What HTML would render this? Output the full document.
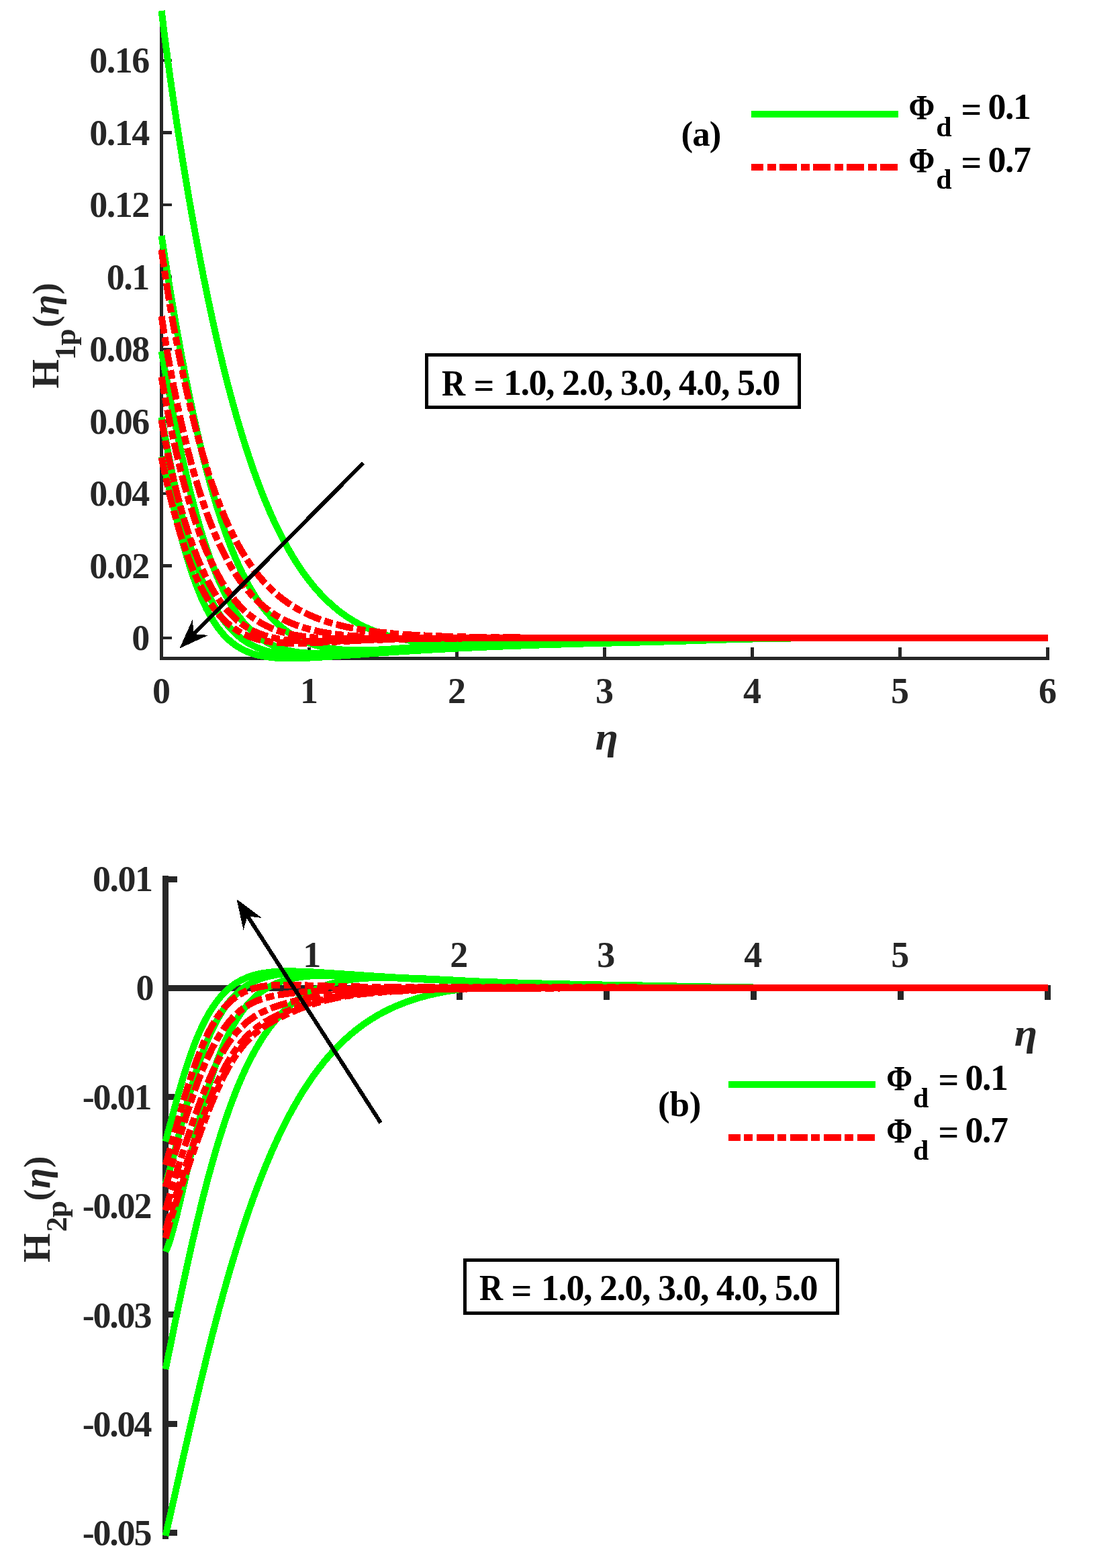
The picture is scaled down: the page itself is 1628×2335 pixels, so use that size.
<!DOCTYPE html>
<html lang="en">
<head>
<meta charset="utf-8">
<title>Figure: H1p and H2p profiles</title>
<style>
html,body{margin:0;padding:0;background:#fff;}
body{width:1628px;height:2335px;overflow:hidden;}
svg{display:block;font-family:"Liberation Serif","Times New Roman",serif;font-weight:bold;}
</style>
</head>
<body>
<svg width="1628" height="2335" viewBox="0 0 1628 2335" shape-rendering="crispEdges" role="img" aria-label="Profiles of H1p and H2p versus eta for R = 1.0 to 5.0">
<rect x="0" y="0" width="1628" height="2335" fill="#ffffff"/>
<g id="plot-a">
<g stroke="#262626" stroke-width="4.6" fill="none" shape-rendering="crispEdges">
<path d="M240.60 16.00 V980.25 H1563.10"/>
<line x1="240.60" y1="950.00" x2="256.00" y2="950.00"/>
<line x1="240.60" y1="842.50" x2="256.00" y2="842.50"/>
<line x1="240.60" y1="735.00" x2="256.00" y2="735.00"/>
<line x1="240.60" y1="627.50" x2="256.00" y2="627.50"/>
<line x1="240.60" y1="520.00" x2="256.00" y2="520.00"/>
<line x1="240.60" y1="412.50" x2="256.00" y2="412.50"/>
<line x1="240.60" y1="305.00" x2="256.00" y2="305.00"/>
<line x1="240.60" y1="197.50" x2="256.00" y2="197.50"/>
<line x1="240.60" y1="90.00" x2="256.00" y2="90.00"/>
</g><g stroke="#262626" stroke-width="5" fill="none" shape-rendering="crispEdges">
<line x1="240.60" y1="980.25" x2="240.60" y2="963.75"/>
<line x1="460.60" y1="980.25" x2="460.60" y2="963.75"/>
<line x1="680.60" y1="980.25" x2="680.60" y2="963.75"/>
<line x1="900.60" y1="980.25" x2="900.60" y2="963.75"/>
<line x1="1120.60" y1="980.25" x2="1120.60" y2="963.75"/>
<line x1="1340.60" y1="980.25" x2="1340.60" y2="963.75"/>
<line x1="1560.60" y1="980.25" x2="1560.60" y2="963.75"/>
</g>
<path d="M240.6 16.0L241.0 19.0L241.3 22.0L241.7 24.9L242.0 27.9L242.4 30.9L242.8 33.9L243.1 36.9L243.5 39.9L243.9 42.8L244.2 45.8L244.6 48.8L245.0 51.8L245.4 54.7L245.7 57.7L246.1 60.7L246.5 63.7L246.9 66.7L247.3 69.6L247.7 72.6L248.1 75.6L248.5 78.6L248.8 81.5L249.2 84.5L249.6 87.5L250.0 90.5L250.4 93.4L250.8 96.4L251.3 99.4L251.7 102.4L252.1 105.3L252.5 108.3L252.9 111.3L253.3 114.3L253.7 117.2L254.1 120.2L254.6 123.2L255.0 126.1L255.4 129.1L255.8 132.1L256.2 135.1L256.7 138.0L257.1 141.0L257.5 144.0L258.0 146.9L258.4 149.9L258.8 152.9L259.3 155.8L259.7 158.8L260.1 161.8L260.6 164.7L261.0 167.7L261.5 170.7L261.9 173.7L262.4 176.6L262.8 179.6L263.3 182.6L263.7 185.5L264.2 188.5L264.6 191.4L265.1 194.4L265.5 197.4L266.0 200.3L266.5 203.3L266.9 206.3L267.4 209.2L267.8 212.2L268.3 215.2L268.8 218.1L269.3 221.1L269.7 224.1L270.2 227.0L270.7 230.0L271.1 232.9L271.6 235.9L272.1 238.9L272.6 241.8L273.1 244.8L273.5 247.8L274.0 250.7L274.5 253.7L275.0 256.6L275.5 259.6L276.0 262.6L276.5 265.5L277.0 268.5L277.5 271.4L278.0 274.4L278.5 277.3L279.0 280.3L279.5 283.3L280.0 286.2L280.5 289.2L281.0 292.1L281.5 295.1L282.0 298.0L282.5 301.0L283.0 304.0L283.5 306.9L284.1 309.9L284.6 312.8L285.1 315.8L285.6 318.7L286.1 321.7L286.7 324.6L287.2 327.6L287.7 330.5L288.3 333.5L288.8 336.4L289.3 339.4L289.9 342.4L290.4 345.3L290.9 348.3L291.5 351.2L292.0 354.2L292.6 357.1L293.1 360.1L293.7 363.0L294.2 365.9L294.8 368.9L295.3 371.8L295.9 374.8L296.5 377.7L297.0 380.7L297.6 383.6L298.1 386.6L298.7 389.5L299.3 392.5L299.9 395.4L300.4 398.4L301.0 401.3L301.6 404.2L302.2 407.2L302.7 410.1L303.3 413.1L303.9 416.0L304.5 418.9L305.1 421.9L305.7 424.8L306.3 427.8L306.9 430.7L307.5 433.6L308.1 436.6L308.7 439.5L309.3 442.5L309.9 445.4L310.5 448.3L311.2 451.3L311.8 454.2L312.4 457.1L313.0 460.1L313.6 463.0L314.3 465.9L314.9 468.9L315.5 471.8L316.2 474.7L316.8 477.6L317.5 480.6L318.1 483.5L318.8 486.4L319.4 489.4L320.1 492.3L320.7 495.2L321.4 498.1L322.0 501.1L322.7 504.0L323.4 506.9L324.1 509.8L324.7 512.7L325.4 515.7L326.1 518.6L326.8 521.5L327.5 524.4L328.2 527.3L328.9 530.3L329.6 533.2L330.3 536.1L331.0 539.0L331.7 541.9L332.4 544.8L333.1 547.7L333.8 550.6L334.5 553.6L335.3 556.5L336.0 559.4L336.7 562.3L337.5 565.2L338.2 568.1L339.0 571.0L339.7 573.9L340.5 576.8L341.2 579.7L342.0 582.6L342.8 585.5L343.5 588.4L344.3 591.3L345.1 594.2L345.9 597.1L346.7 600.0L347.5 602.8L348.2 605.7L349.1 608.6L349.9 611.5L350.7 614.4L351.5 617.3L352.3 620.2L353.1 623.0L354.0 625.9L354.8 628.8L355.7 631.7L356.5 634.5L357.4 637.4L358.2 640.3L359.1 643.1L359.9 646.0L360.8 648.9L361.7 651.7L362.6 654.6L363.5 657.5L364.4 660.3L365.3 663.2L366.2 666.0L367.1 668.9L368.0 671.7L369.0 674.6L369.9 677.4L370.8 680.3L371.8 683.1L372.8 685.9L373.7 688.8L374.7 691.6L375.7 694.4L376.7 697.3L377.6 700.1L378.6 702.9L379.7 705.7L380.7 708.6L381.7 711.4L382.7 714.2L383.8 717.0L384.8 719.8L385.9 722.6L386.9 725.4L388.0 728.2L389.1 731.0L390.2 733.8L391.3 736.5L392.4 739.3L393.5 742.1L394.6 744.9L395.8 747.6L396.9 750.4L398.1 753.2L399.3 755.9L400.4 758.7L401.6 761.4L402.8 764.1L404.0 766.9L405.3 769.6L406.5 772.3L407.7 775.1L409.0 777.8L410.3 780.5L411.6 783.2L412.9 785.9L414.2 788.6L415.5 791.2L416.8 793.9L418.2 796.6L419.5 799.3L420.9 801.9L422.3 804.6L423.7 807.2L425.1 809.8L426.6 812.4L428.0 815.1L429.5 817.7L431.0 820.3L432.5 822.8L434.0 825.4L435.5 828.0L437.1 830.5L438.6 833.1L440.2 835.6L441.8 838.1L443.4 840.7L445.1 843.1L446.7 845.6L448.4 848.1L450.1 850.6L451.8 853.0L453.6 855.4L455.3 857.8L457.1 860.2L458.9 862.6L460.8 865.0L462.6 867.3L464.5 869.7L466.4 872.0L468.3 874.3L470.2 876.5L472.2 878.8L474.2 881.0L476.2 883.2L478.2 885.4L480.3 887.6L482.4 889.7L484.5 891.8L486.6 893.9L488.8 895.9L491.0 898.0L493.2 900.0L495.4 902.0L497.7 903.9L500.0 905.8L502.3 907.7L504.6 909.6L507.0 911.4L509.4 913.2L511.8 914.9L514.3 916.7L516.7 918.4L519.2 920.0L521.7 921.6L524.3 923.2L526.8 924.8L529.4 926.3L532.0 927.7L534.6 929.2L537.3 930.6L539.9 931.9L542.6 933.2L545.3 934.5L548.1 935.7L550.8 936.9L553.6 938.1L556.3 939.2L559.1 940.3L561.9 941.4L564.7 942.4L567.6 943.4L570.4 944.3L573.3 945.2L576.1 946.1L579.0 946.9L581.9 947.7L584.8 948.5L587.7 949.2L590.6 949.9L593.5 950.6L596.5 951.2L599.4 951.8L602.3 952.4L605.3 952.9L608.2 953.5L611.2 954.0L614.2 954.4L617.1 954.9L620.1 955.3L623.1 955.7L626.0 956.0L629.0 956.4L632.0 956.7L635.0 957.0L638.0 957.3L641.0 957.5L644.0 957.8L646.9 958.0L649.9 958.2L652.9 958.4L655.9 958.6L658.9 958.7L661.9 958.9L664.9 959.0L667.9 959.1L670.9 959.2L673.9 959.3L676.9 959.4L679.9 959.5L682.9 959.5L685.9 959.6L688.9 959.6L691.9 959.6L694.9 959.6L697.9 959.7L700.9 959.6L703.9 959.6L706.9 959.6L709.9 959.6L712.9 959.6L715.9 959.5L718.9 959.5L721.9 959.4L724.9 959.4L727.9 959.3L730.9 959.3L733.9 959.2L736.9 959.1L739.9 959.0L742.9 959.0L745.9 958.9L748.9 958.8L751.9 958.7L754.9 958.6L757.9 958.5L760.9 958.4L763.9 958.3L766.9 958.2L769.9 958.1L772.9 958.0L775.9 957.9L778.9 957.8L781.9 957.7L784.9 957.6L787.9 957.5L790.9 957.3L793.9 957.2L796.9 957.1L799.9 957.0L802.9 956.9L805.9 956.8L808.9 956.7L811.9 956.6L814.9 956.4L817.9 956.3L820.8 956.2L823.8 956.1L826.8 956.0L829.8 955.9L832.8 955.8L835.8 955.7L838.8 955.6L841.8 955.4L844.8 955.3L847.8 955.2L850.8 955.1L853.8 955.0L856.8 954.9L859.8 954.8L862.8 954.7L865.8 954.6L868.8 954.5L871.8 954.4L874.8 954.3L877.8 954.2L880.8 954.1L883.8 954.0L886.8 953.9L889.8 953.9L892.8 953.8L895.8 953.7L898.8 953.6L901.8 953.5L904.8 953.4L907.8 953.3L910.8 953.3L913.8 953.2L916.8 953.1L919.8 953.0L922.8 952.9L925.8 952.9L928.8 952.8L931.8 952.7L934.8 952.6L937.8 952.6L940.8 952.5L943.8 952.4L946.8 952.4L949.8 952.3L952.8 952.2L955.8 952.2L958.8 952.1L961.8 952.1L964.8 952.0L967.8 951.9L970.8 951.9L973.8 951.8L976.8 951.7L979.8 951.7L982.8 951.6L985.8 951.6L988.8 951.5L991.8 951.5L994.8 951.4L997.8 951.3L1000.8 951.3L1003.8 951.2L1006.8 951.2L1009.8 951.1L1012.8 951.1L1015.8 951.0L1018.8 951.0L1021.8 951.0L1024.8 950.9L1027.8 950.9L1030.8 950.8L1033.8 950.8L1036.8 950.8L1039.8 950.7L1042.8 950.7L1045.8 950.6L1048.8 950.6L1051.8 950.6L1054.8 950.5L1057.8 950.5L1060.8 950.5L1063.8 950.5L1066.8 950.4L1069.8 950.4L1072.8 950.4L1075.8 950.4L1078.8 950.3L1081.8 950.3L1084.8 950.3L1087.8 950.3L1090.8 950.3L1093.8 950.2L1096.8 950.2L1099.8 950.2L1102.8 950.2L1105.8 950.2L1108.8 950.2L1111.8 950.2L1114.8 950.1L1117.8 950.1L1120.8 950.1L1123.8 950.1L1126.8 950.1L1129.8 950.1L1132.8 950.1L1135.8 950.1L1138.8 950.1L1141.8 950.1L1144.8 950.1L1147.8 950.1L1150.8 950.0L1153.8 950.0L1156.8 950.0L1159.8 950.0L1162.8 950.0L1165.8 950.0L1168.8 950.0L1171.8 950.0L1174.8 950.0L1177.8 950.0L1180.8 950.0L1183.8 950.0L1186.8 950.0L1189.8 950.0L1192.8 950.0L1195.8 950.0L1198.8 950.0L1201.8 950.0L1204.8 950.0L1207.8 950.0L1210.8 950.0L1213.8 950.0L1216.8 950.0L1219.8 950.0L1222.8 950.0L1225.8 950.0L1228.8 950.0L1231.8 950.0L1234.8 950.0L1237.8 950.0L1240.8 950.0L1243.8 950.0L1246.8 950.0L1249.8 950.0L1252.8 950.0L1255.8 950.0L1258.8 950.0L1261.8 950.0L1264.8 950.0L1267.8 950.0L1270.8 950.0L1273.8 950.0L1276.8 950.0L1279.8 950.0L1282.8 950.0L1285.8 950.0L1288.8 950.0L1291.8 950.0L1294.8 950.0L1297.8 950.0L1300.8 950.0L1303.8 950.0L1306.8 950.0L1309.8 950.0L1312.8 950.0L1315.8 950.0L1318.8 950.0L1321.8 950.0L1324.8 950.0L1327.8 950.0L1330.8 950.0L1333.8 950.0L1336.8 950.0L1339.8 950.0L1342.8 950.0L1345.8 950.0L1348.8 950.0L1351.8 950.0L1354.8 950.0L1357.8 950.0L1360.8 950.0L1363.8 950.0L1366.8 950.0L1369.8 950.0L1372.8 950.0L1375.8 950.0L1378.8 950.0L1381.8 950.0L1384.8 950.0L1387.8 950.0L1390.8 950.0L1393.8 950.0L1396.8 950.0L1399.8 950.0L1402.8 950.0L1405.8 950.0L1408.8 950.0L1411.8 950.0L1414.8 950.0L1417.8 950.0L1420.8 950.0L1423.8 950.0L1426.8 950.0L1429.8 950.0L1432.8 950.0L1435.8 950.0L1438.8 950.0L1441.8 950.0L1444.8 950.0L1447.8 950.0L1450.8 950.0L1453.8 950.0L1456.8 950.0L1459.8 950.0L1462.8 950.0L1465.8 950.0L1468.8 950.0L1471.8 950.0L1474.8 950.0L1477.8 950.0L1480.8 950.0L1483.8 950.0L1486.8 950.0L1489.8 950.0L1492.8 950.0L1495.8 950.0L1498.8 950.0L1501.8 950.0L1504.8 950.0L1507.8 950.0L1510.8 950.0L1513.8 950.0L1516.8 950.0L1519.8 950.0L1522.8 950.0L1525.8 950.0L1528.8 950.0L1531.8 950.0L1534.8 950.0L1537.8 950.0L1540.8 950.0L1543.8 950.0L1546.8 950.0L1549.8 950.0L1552.8 950.0L1555.8 950.0L1558.8 950.0L1560.6 950.0" fill="none" stroke="#00ff00" stroke-width="10" stroke-linejoin="round"/>
<path d="M240.6 351.0L241.1 354.0L241.5 356.9L242.0 359.9L242.4 362.9L242.9 365.8L243.3 368.8L243.8 371.8L244.2 374.7L244.7 377.7L245.2 380.7L245.6 383.6L246.1 386.6L246.6 389.5L247.0 392.5L247.5 395.5L248.0 398.4L248.4 401.4L248.9 404.4L249.4 407.3L249.9 410.3L250.3 413.2L250.8 416.2L251.3 419.2L251.8 422.1L252.3 425.1L252.7 428.1L253.2 431.0L253.7 434.0L254.2 436.9L254.7 439.9L255.2 442.9L255.7 445.8L256.2 448.8L256.7 451.7L257.2 454.7L257.7 457.6L258.2 460.6L258.7 463.6L259.2 466.5L259.7 469.5L260.2 472.4L260.7 475.4L261.2 478.3L261.7 481.3L262.3 484.3L262.8 487.2L263.3 490.2L263.8 493.1L264.3 496.1L264.9 499.0L265.4 502.0L265.9 504.9L266.5 507.9L267.0 510.8L267.5 513.8L268.1 516.7L268.6 519.7L269.1 522.6L269.7 525.6L270.2 528.5L270.8 531.5L271.3 534.4L271.9 537.4L272.4 540.3L273.0 543.3L273.6 546.2L274.1 549.2L274.7 552.1L275.3 555.1L275.8 558.0L276.4 560.9L277.0 563.9L277.6 566.8L278.2 569.8L278.7 572.7L279.3 575.7L279.9 578.6L280.5 581.5L281.1 584.5L281.7 587.4L282.3 590.3L282.9 593.3L283.5 596.2L284.1 599.2L284.8 602.1L285.4 605.0L286.0 608.0L286.6 610.9L287.2 613.8L287.9 616.8L288.5 619.7L289.2 622.6L289.8 625.5L290.4 628.5L291.1 631.4L291.7 634.3L292.4 637.2L293.1 640.2L293.7 643.1L294.4 646.0L295.1 648.9L295.7 651.9L296.4 654.8L297.1 657.7L297.8 660.6L298.5 663.5L299.2 666.4L299.9 669.4L300.6 672.3L301.3 675.2L302.0 678.1L302.8 681.0L303.5 683.9L304.2 686.8L305.0 689.7L305.7 692.6L306.4 695.5L307.2 698.4L308.0 701.3L308.7 704.2L309.5 707.1L310.3 710.0L311.0 712.9L311.8 715.8L312.6 718.7L313.4 721.6L314.2 724.5L315.0 727.3L315.9 730.2L316.7 733.1L317.5 736.0L318.3 738.8L319.2 741.7L320.0 744.6L320.9 747.5L321.8 750.3L322.6 753.2L323.5 756.1L324.4 758.9L325.3 761.8L326.2 764.6L327.1 767.5L328.1 770.3L329.0 773.2L329.9 776.0L330.9 778.8L331.9 781.7L332.8 784.5L333.8 787.3L334.8 790.2L335.8 793.0L336.8 795.8L337.8 798.6L338.9 801.4L339.9 804.2L341.0 807.0L342.0 809.8L343.1 812.6L344.2 815.4L345.3 818.2L346.4 820.9L347.6 823.7L348.7 826.5L349.9 829.2L351.1 832.0L352.3 834.7L353.5 837.4L354.7 840.2L355.9 842.9L357.2 845.6L358.4 848.3L359.7 851.0L361.0 853.7L362.4 856.3L363.7 859.0L365.1 861.7L366.5 864.3L367.9 867.0L369.3 869.6L370.7 872.2L372.2 874.8L373.7 877.4L375.2 879.9L376.8 882.5L378.3 885.0L379.9 887.6L381.5 890.1L383.2 892.5L384.9 895.0L386.6 897.5L388.3 899.9L390.0 902.3L391.8 904.7L393.7 907.0L395.5 909.4L397.4 911.7L399.3 914.0L401.3 916.2L403.3 918.4L405.3 920.6L407.4 922.8L409.5 924.9L411.6 926.9L413.8 929.0L416.0 931.0L418.2 932.9L420.5 934.8L422.9 936.7L425.2 938.5L427.6 940.3L430.1 942.0L432.5 943.7L435.1 945.3L437.6 946.8L440.2 948.3L442.8 949.8L445.5 951.1L448.1 952.5L450.8 953.7L453.6 954.9L456.3 956.1L459.1 957.2L461.9 958.2L464.8 959.1L467.6 960.1L470.5 960.9L473.4 961.7L476.3 962.4L479.2 963.1L482.1 963.8L485.0 964.4L488.0 964.9L490.9 965.4L493.9 965.8L496.9 966.2L499.9 966.6L502.8 966.9L505.8 967.2L508.8 967.4L511.8 967.7L514.8 967.8L517.8 968.0L520.8 968.1L523.8 968.2L526.8 968.3L529.8 968.3L532.8 968.3L535.8 968.3L538.8 968.3L541.8 968.3L544.8 968.2L547.8 968.1L550.8 968.1L553.8 968.0L556.8 967.8L559.8 967.7L562.8 967.6L565.8 967.4L568.8 967.3L571.8 967.1L574.8 966.9L577.8 966.7L580.7 966.6L583.7 966.4L586.7 966.2L589.7 966.0L592.7 965.8L595.7 965.5L598.7 965.3L601.7 965.1L604.7 964.9L607.7 964.7L610.7 964.5L613.7 964.2L616.7 964.0L619.7 963.8L622.6 963.6L625.6 963.3L628.6 963.1L631.6 962.9L634.6 962.7L637.6 962.5L640.6 962.3L643.6 962.0L646.6 961.8L649.6 961.6L652.6 961.4L655.6 961.2L658.6 961.0L661.5 960.8L664.5 960.6L667.5 960.4L670.5 960.2L673.5 960.0L676.5 959.9L679.5 959.7L682.5 959.5L685.5 959.3L688.5 959.1L691.5 959.0L694.5 958.8L697.5 958.6L700.5 958.5L703.5 958.3L706.5 958.2L709.5 958.0L712.5 957.9L715.5 957.7L718.5 957.6L721.4 957.5L724.4 957.3L727.4 957.2L730.4 957.1L733.4 956.9L736.4 956.8L739.4 956.7L742.4 956.6L745.4 956.5L748.4 956.3L751.4 956.2L754.4 956.1L757.4 956.0L760.4 955.9L763.4 955.8L766.4 955.7L769.4 955.6L772.4 955.5L775.4 955.5L778.4 955.4L781.4 955.3L784.4 955.2L787.4 955.1L790.4 955.0L793.4 955.0L796.4 954.9L799.4 954.8L802.4 954.7L805.4 954.7L808.4 954.6L811.4 954.5L814.4 954.5L817.4 954.4L820.4 954.4L823.4 954.3L826.4 954.2L829.4 954.2L832.4 954.1L835.4 954.1L838.4 954.0L841.4 954.0L844.4 953.9L847.4 953.9L850.4 953.8L853.4 953.8L856.4 953.7L859.4 953.7L862.4 953.6L865.4 953.6L868.4 953.6L871.4 953.5L874.4 953.5L877.4 953.4L880.4 953.4L883.4 953.4L886.4 953.3L889.4 953.3L892.4 953.3L895.4 953.2L898.4 953.2L901.4 953.2L904.4 953.1L907.4 953.1L910.4 953.1L913.4 953.1L916.4 953.0L919.4 953.0L922.4 953.0L925.4 952.9L928.4 952.9L931.4 952.9L934.4 952.9L937.4 952.8L940.4 952.8L943.4 952.8L946.4 952.8L949.4 952.7L952.4 952.7L955.4 952.7L958.4 952.7L961.4 952.6L964.4 952.6L967.4 952.6L970.4 952.5L973.4 952.5L976.4 952.5L979.4 952.4L982.4 952.4L985.4 952.4L988.4 952.3L991.4 952.3L994.4 952.3L997.4 952.2L1000.4 952.2L1003.4 952.2L1006.4 952.1L1009.4 952.1L1012.4 952.0L1015.4 952.0L1018.4 952.0L1021.4 951.9L1024.4 951.9L1027.4 951.8L1030.4 951.8L1033.4 951.8L1036.4 951.7L1039.4 951.7L1042.4 951.6L1045.4 951.6L1048.4 951.6L1051.4 951.5L1054.4 951.5L1057.4 951.5L1060.4 951.4L1063.4 951.4L1066.4 951.3L1069.4 951.3L1072.4 951.3L1075.4 951.2L1078.4 951.2L1081.4 951.1L1084.4 951.1L1087.4 951.1L1090.4 951.0L1093.4 951.0L1096.4 951.0L1099.4 950.9L1102.4 950.9L1105.4 950.9L1108.4 950.8L1111.4 950.8L1114.4 950.8L1117.4 950.7L1120.4 950.7L1123.4 950.7L1126.4 950.6L1129.4 950.6L1132.4 950.6L1135.4 950.5L1138.4 950.5L1141.4 950.5L1144.4 950.5L1147.4 950.4L1150.4 950.4L1153.4 950.4L1156.4 950.4L1159.4 950.3L1162.4 950.3L1165.4 950.3L1168.4 950.3L1171.4 950.3L1174.4 950.2L1177.4 950.2L1180.4 950.2L1183.4 950.2L1186.4 950.2L1189.4 950.2L1192.4 950.1L1195.4 950.1L1198.4 950.1L1201.4 950.1L1204.4 950.1L1207.4 950.1L1210.4 950.1L1213.4 950.1L1216.4 950.0L1219.4 950.0L1222.4 950.0L1225.4 950.0L1228.4 950.0L1231.4 950.0L1234.4 950.0L1237.4 950.0L1240.4 950.0L1243.4 950.0L1246.4 950.0L1249.4 950.0L1252.4 950.0L1255.4 950.0L1258.4 950.0L1261.4 950.0L1264.4 950.0L1267.4 950.0L1270.4 950.0L1273.4 950.0L1276.4 950.0L1279.4 950.0L1282.4 950.0L1285.4 950.0L1288.4 950.0L1291.4 950.0L1294.4 950.0L1297.4 950.0L1300.4 950.0L1303.4 950.0L1306.4 950.0L1309.4 950.0L1312.4 950.0L1315.4 950.0L1318.4 950.0L1321.4 950.0L1324.4 950.0L1327.4 950.0L1330.4 950.0L1333.4 950.0L1336.4 950.0L1339.4 950.0L1342.4 950.0L1345.4 950.0L1348.4 950.0L1351.4 950.0L1354.4 950.0L1357.4 950.0L1360.4 950.0L1363.4 950.0L1366.4 950.0L1369.4 950.0L1372.4 950.0L1375.4 950.0L1378.4 950.0L1381.4 950.0L1384.4 950.0L1387.4 950.0L1390.4 950.0L1393.4 950.0L1396.4 950.0L1399.4 950.0L1402.4 950.0L1405.4 950.0L1408.4 950.0L1411.4 950.0L1414.4 950.0L1417.4 950.0L1420.4 950.0L1423.4 950.0L1426.4 950.0L1429.4 950.0L1432.4 950.0L1435.4 950.0L1438.4 950.0L1441.4 950.0L1444.4 950.0L1447.4 950.0L1450.4 950.0L1453.4 950.0L1456.4 950.0L1459.4 950.0L1462.4 950.0L1465.4 950.0L1468.4 950.0L1471.4 950.0L1474.4 950.0L1477.4 950.0L1480.4 950.0L1483.4 950.0L1486.4 950.0L1489.4 950.0L1492.4 950.0L1495.4 950.0L1498.4 950.0L1501.4 950.0L1504.4 950.0L1507.4 950.0L1510.4 950.0L1513.4 950.0L1516.4 950.0L1519.4 950.0L1522.4 950.0L1525.4 950.0L1528.4 950.0L1531.4 950.0L1534.4 950.0L1537.4 950.0L1540.4 950.0L1543.4 950.0L1546.4 950.0L1549.4 950.0L1552.4 950.0L1555.4 950.0L1558.4 950.0L1560.6 950.0" fill="none" stroke="#00ff00" stroke-width="10" stroke-linejoin="round"/>
<path d="M240.6 523.0L241.1 526.0L241.7 528.9L242.2 531.9L242.7 534.8L243.3 537.8L243.8 540.7L244.3 543.7L244.9 546.6L245.4 549.6L246.0 552.5L246.5 555.5L247.0 558.4L247.6 561.4L248.1 564.3L248.7 567.3L249.2 570.2L249.8 573.2L250.3 576.1L250.9 579.1L251.5 582.0L252.0 585.0L252.6 587.9L253.1 590.8L253.7 593.8L254.3 596.7L254.8 599.7L255.4 602.6L256.0 605.6L256.5 608.5L257.1 611.5L257.7 614.4L258.3 617.3L258.9 620.3L259.4 623.2L260.0 626.2L260.6 629.1L261.2 632.0L261.8 635.0L262.4 637.9L263.0 640.9L263.6 643.8L264.2 646.7L264.8 649.7L265.4 652.6L266.1 655.5L266.7 658.5L267.3 661.4L267.9 664.3L268.5 667.3L269.2 670.2L269.8 673.1L270.4 676.1L271.1 679.0L271.7 681.9L272.4 684.9L273.0 687.8L273.7 690.7L274.3 693.6L275.0 696.6L275.7 699.5L276.4 702.4L277.0 705.3L277.7 708.2L278.4 711.2L279.1 714.1L279.8 717.0L280.5 719.9L281.2 722.8L281.9 725.7L282.6 728.6L283.3 731.5L284.1 734.4L284.8 737.4L285.5 740.3L286.3 743.2L287.0 746.1L287.8 749.0L288.5 751.9L289.3 754.8L290.1 757.6L290.9 760.5L291.7 763.4L292.4 766.3L293.2 769.2L294.1 772.1L294.9 775.0L295.7 777.8L296.5 780.7L297.4 783.6L298.2 786.5L299.1 789.3L299.9 792.2L300.8 795.1L301.7 797.9L302.6 800.8L303.5 803.6L304.4 806.5L305.3 809.3L306.2 812.2L307.2 815.0L308.1 817.9L309.1 820.7L310.1 823.5L311.1 826.3L312.1 829.2L313.1 832.0L314.1 834.8L315.2 837.6L316.2 840.4L317.3 843.2L318.4 846.0L319.5 848.7L320.6 851.5L321.7 854.3L322.8 857.0L324.0 859.8L325.2 862.5L326.4 865.3L327.6 868.0L328.8 870.7L330.1 873.4L331.4 876.1L332.7 878.8L334.0 881.5L335.3 884.1L336.7 886.8L338.1 889.4L339.5 892.0L341.0 894.6L342.4 897.2L343.9 899.8L345.5 902.4L347.0 904.9L348.6 907.4L350.3 909.9L351.9 912.4L353.6 914.8L355.3 917.3L357.1 919.7L358.9 922.0L360.8 924.4L362.6 926.7L364.6 928.9L366.5 931.2L368.5 933.4L370.6 935.5L372.7 937.6L374.8 939.7L377.0 941.7L379.3 943.7L381.5 945.6L383.9 947.4L386.2 949.2L388.7 951.0L391.1 952.6L393.6 954.2L396.2 955.8L398.8 957.2L401.4 958.6L404.1 960.0L406.8 961.2L409.6 962.4L412.3 963.5L415.1 964.6L418.0 965.5L420.8 966.4L423.7 967.3L426.6 968.0L429.5 968.7L432.4 969.4L435.4 969.9L438.3 970.5L441.3 970.9L444.2 971.3L447.2 971.7L450.2 972.0L453.2 972.3L456.2 972.5L459.2 972.7L462.2 972.8L465.1 973.0L468.1 973.1L471.1 973.1L474.1 973.1L477.1 973.1L480.1 973.1L483.1 973.1L486.1 973.0L489.1 972.9L492.1 972.8L495.1 972.7L498.1 972.6L501.1 972.4L504.1 972.3L507.1 972.1L510.1 971.9L513.1 971.8L516.1 971.6L519.1 971.4L522.1 971.2L525.1 970.9L528.1 970.7L531.1 970.5L534.1 970.3L537.1 970.1L540.0 969.8L543.0 969.6L546.0 969.4L549.0 969.1L552.0 968.9L555.0 968.7L558.0 968.4L561.0 968.2L564.0 968.0L567.0 967.7L570.0 967.5L572.9 967.3L575.9 967.0L578.9 966.8L581.9 966.6L584.9 966.4L587.9 966.1L590.9 965.9L593.9 965.7L596.9 965.5L599.9 965.3L602.9 965.1L605.9 964.9L608.9 964.7L611.8 964.5L614.8 964.3L617.8 964.1L620.8 963.9L623.8 963.7L626.8 963.5L629.8 963.3L632.8 963.1L635.8 963.0L638.8 962.8L641.8 962.6L644.8 962.4L647.8 962.3L650.8 962.1L653.8 961.9L656.8 961.8L659.8 961.6L662.8 961.5L665.8 961.3L668.7 961.2L671.7 961.0L674.7 960.9L677.7 960.7L680.7 960.6L683.7 960.4L686.7 960.3L689.7 960.2L692.7 960.0L695.7 959.9L698.7 959.8L701.7 959.7L704.7 959.5L707.7 959.4L710.7 959.3L713.7 959.2L716.7 959.1L719.7 958.9L722.7 958.8L725.7 958.7L728.7 958.6L731.7 958.5L734.7 958.4L737.7 958.3L740.7 958.2L743.7 958.1L746.7 958.0L749.7 957.9L752.7 957.8L755.7 957.7L758.7 957.6L761.7 957.5L764.7 957.4L767.7 957.3L770.7 957.2L773.7 957.1L776.7 957.1L779.7 957.0L782.7 956.9L785.7 956.8L788.7 956.7L791.7 956.6L794.7 956.6L797.7 956.5L800.7 956.4L803.7 956.3L806.7 956.2L809.7 956.2L812.7 956.1L815.7 956.0L818.7 955.9L821.7 955.9L824.7 955.8L827.6 955.7L830.6 955.7L833.6 955.6L836.6 955.5L839.6 955.5L842.6 955.4L845.6 955.3L848.6 955.3L851.6 955.2L854.6 955.2L857.6 955.1L860.6 955.0L863.6 955.0L866.6 954.9L869.6 954.9L872.6 954.8L875.6 954.7L878.6 954.7L881.6 954.6L884.6 954.6L887.6 954.5L890.6 954.5L893.6 954.4L896.6 954.4L899.6 954.3L902.6 954.3L905.6 954.2L908.6 954.2L911.6 954.1L914.6 954.1L917.6 954.0L920.6 954.0L923.6 953.9L926.6 953.9L929.6 953.8L932.6 953.8L935.6 953.7L938.6 953.7L941.6 953.6L944.6 953.6L947.6 953.6L950.6 953.5L953.6 953.5L956.6 953.4L959.6 953.4L962.6 953.3L965.6 953.3L968.6 953.2L971.6 953.2L974.6 953.1L977.6 953.1L980.6 953.0L983.6 953.0L986.6 952.9L989.6 952.9L992.6 952.8L995.6 952.8L998.6 952.7L1001.6 952.7L1004.6 952.6L1007.6 952.5L1010.6 952.5L1013.6 952.4L1016.6 952.4L1019.6 952.3L1022.6 952.3L1025.6 952.2L1028.6 952.1L1031.6 952.1L1034.6 952.0L1037.6 952.0L1040.6 951.9L1043.6 951.9L1046.6 951.8L1049.6 951.8L1052.6 951.7L1055.6 951.7L1058.6 951.6L1061.6 951.6L1064.6 951.5L1067.6 951.5L1070.6 951.4L1073.6 951.4L1076.6 951.3L1079.6 951.3L1082.6 951.2L1085.6 951.2L1088.6 951.1L1091.6 951.1L1094.6 951.0L1097.6 951.0L1100.6 951.0L1103.6 950.9L1106.6 950.9L1109.6 950.8L1112.6 950.8L1115.6 950.8L1118.6 950.7L1121.6 950.7L1124.6 950.7L1127.6 950.6L1130.6 950.6L1133.6 950.6L1136.6 950.5L1139.6 950.5L1142.6 950.5L1145.6 950.5L1148.6 950.4L1151.6 950.4L1154.6 950.4L1157.6 950.4L1160.6 950.3L1163.6 950.3L1166.6 950.3L1169.6 950.3L1172.6 950.2L1175.6 950.2L1178.6 950.2L1181.6 950.2L1184.6 950.2L1187.6 950.2L1190.6 950.1L1193.6 950.1L1196.6 950.1L1199.6 950.1L1202.6 950.1L1205.6 950.1L1208.6 950.1L1211.6 950.1L1214.6 950.0L1217.6 950.0L1220.6 950.0L1223.6 950.0L1226.6 950.0L1229.6 950.0L1232.6 950.0L1235.6 950.0L1238.6 950.0L1241.6 950.0L1244.6 950.0L1247.6 950.0L1250.6 950.0L1253.6 950.0L1256.6 950.0L1259.6 950.0L1262.6 950.0L1265.6 950.0L1268.6 950.0L1271.6 950.0L1274.6 950.0L1277.6 950.0L1280.6 950.0L1283.6 950.0L1286.6 950.0L1289.6 950.0L1292.6 950.0L1295.6 950.0L1298.6 950.0L1301.6 950.0L1304.6 950.0L1307.6 950.0L1310.6 950.0L1313.6 950.0L1316.6 950.0L1319.6 950.0L1322.6 950.0L1325.6 950.0L1328.6 950.0L1331.6 950.0L1334.6 950.0L1337.6 950.0L1340.6 950.0L1343.6 950.0L1346.6 950.0L1349.6 950.0L1352.6 950.0L1355.6 950.0L1358.6 950.0L1361.6 950.0L1364.6 950.0L1367.6 950.0L1370.6 950.0L1373.6 950.0L1376.6 950.0L1379.6 950.0L1382.6 950.0L1385.6 950.0L1388.6 950.0L1391.6 950.0L1394.6 950.0L1397.6 950.0L1400.6 950.0L1403.6 950.0L1406.6 950.0L1409.6 950.0L1412.6 950.0L1415.6 950.0L1418.6 950.0L1421.6 950.0L1424.6 950.0L1427.6 950.0L1430.6 950.0L1433.6 950.0L1436.6 950.0L1439.6 950.0L1442.6 950.0L1445.6 950.0L1448.6 950.0L1451.6 950.0L1454.6 950.0L1457.6 950.0L1460.6 950.0L1463.6 950.0L1466.6 950.0L1469.6 950.0L1472.6 950.0L1475.6 950.0L1478.6 950.0L1481.6 950.0L1484.6 950.0L1487.6 950.0L1490.6 950.0L1493.6 950.0L1496.6 950.0L1499.6 950.0L1502.6 950.0L1505.6 950.0L1508.6 950.0L1511.6 950.0L1514.6 950.0L1517.6 950.0L1520.6 950.0L1523.6 950.0L1526.6 950.0L1529.6 950.0L1532.6 950.0L1535.6 950.0L1538.6 950.0L1541.6 950.0L1544.6 950.0L1547.6 950.0L1550.6 950.0L1553.6 950.0L1556.6 950.0L1559.6 950.0L1560.6 950.0" fill="none" stroke="#00ff00" stroke-width="10" stroke-linejoin="round"/>
<path d="M240.6 621.0L241.1 624.0L241.7 626.9L242.2 629.9L242.7 632.8L243.3 635.8L243.8 638.7L244.3 641.7L244.9 644.6L245.4 647.6L246.0 650.5L246.5 653.5L247.1 656.4L247.6 659.4L248.2 662.3L248.7 665.2L249.3 668.2L249.9 671.1L250.4 674.1L251.0 677.0L251.6 680.0L252.2 682.9L252.8 685.9L253.4 688.8L253.9 691.7L254.5 694.7L255.1 697.6L255.7 700.5L256.4 703.5L257.0 706.4L257.6 709.3L258.2 712.3L258.8 715.2L259.5 718.1L260.1 721.1L260.7 724.0L261.4 726.9L262.0 729.9L262.7 732.8L263.3 735.7L264.0 738.6L264.7 741.5L265.3 744.5L266.0 747.4L266.7 750.3L267.4 753.2L268.1 756.1L268.8 759.0L269.5 762.0L270.2 764.9L271.0 767.8L271.7 770.7L272.4 773.6L273.2 776.5L273.9 779.4L274.7 782.3L275.5 785.2L276.3 788.1L277.0 790.9L277.8 793.8L278.6 796.7L279.5 799.6L280.3 802.5L281.1 805.3L281.9 808.2L282.8 811.1L283.7 814.0L284.5 816.8L285.4 819.7L286.3 822.5L287.2 825.4L288.1 828.2L289.1 831.1L290.0 833.9L291.0 836.7L292.0 839.6L292.9 842.4L293.9 845.2L295.0 848.0L296.0 850.8L297.0 853.6L298.1 856.4L299.2 859.2L300.3 862.0L301.4 864.7L302.5 867.5L303.7 870.2L304.9 873.0L306.1 875.7L307.3 878.4L308.5 881.2L309.8 883.9L311.1 886.5L312.4 889.2L313.7 891.9L315.1 894.5L316.5 897.2L317.9 899.8L319.4 902.4L320.9 905.0L322.4 907.5L323.9 910.1L325.5 912.6L327.2 915.1L328.8 917.6L330.5 920.0L332.2 922.4L334.0 924.8L335.8 927.2L337.7 929.5L339.6 931.8L341.6 934.0L343.5 936.2L345.6 938.4L347.7 940.5L349.8 942.6L352.0 944.6L354.2 946.5L356.5 948.4L358.9 950.3L361.2 952.1L363.7 953.8L366.1 955.5L368.7 957.1L371.2 958.6L373.8 960.0L376.5 961.4L379.1 962.7L381.9 964.0L384.6 965.1L387.4 966.2L390.2 967.2L393.0 968.2L395.9 969.1L398.8 969.9L401.7 970.7L404.6 971.4L407.5 972.0L410.4 972.6L413.4 973.1L416.3 973.6L419.3 974.0L422.3 974.4L425.3 974.8L428.2 975.1L431.2 975.3L434.2 975.6L437.2 975.7L440.2 975.9L443.2 976.0L446.2 976.1L449.2 976.2L452.2 976.2L455.2 976.3L458.2 976.3L461.2 976.3L464.2 976.2L467.2 976.2L470.2 976.1L473.2 976.0L476.2 975.9L479.2 975.8L482.2 975.7L485.2 975.6L488.2 975.4L491.2 975.3L494.2 975.1L497.2 974.9L500.2 974.8L503.2 974.6L506.2 974.4L509.1 974.2L512.1 974.0L515.1 973.8L518.1 973.6L521.1 973.4L524.1 973.2L527.1 973.0L530.1 972.8L533.1 972.6L536.1 972.4L539.1 972.1L542.1 971.9L545.1 971.7L548.1 971.5L551.0 971.3L554.0 971.1L557.0 970.8L560.0 970.6L563.0 970.4L566.0 970.2L569.0 970.0L572.0 969.7L575.0 969.5L578.0 969.3L581.0 969.1L584.0 968.9L587.0 968.7L589.9 968.5L592.9 968.3L595.9 968.0L598.9 967.8L601.9 967.6L604.9 967.4L607.9 967.2L610.9 967.0L613.9 966.8L616.9 966.6L619.9 966.4L622.9 966.3L625.9 966.1L628.9 965.9L631.9 965.7L634.8 965.5L637.8 965.3L640.8 965.1L643.8 965.0L646.8 964.8L649.8 964.6L652.8 964.4L655.8 964.2L658.8 964.1L661.8 963.9L664.8 963.7L667.8 963.6L670.8 963.4L673.8 963.3L676.8 963.1L679.8 962.9L682.8 962.8L685.8 962.6L688.8 962.5L691.8 962.3L694.8 962.2L697.7 962.0L700.7 961.9L703.7 961.7L706.7 961.6L709.7 961.4L712.7 961.3L715.7 961.2L718.7 961.0L721.7 960.9L724.7 960.8L727.7 960.6L730.7 960.5L733.7 960.4L736.7 960.2L739.7 960.1L742.7 960.0L745.7 959.9L748.7 959.8L751.7 959.6L754.7 959.5L757.7 959.4L760.7 959.3L763.7 959.2L766.7 959.1L769.7 959.0L772.7 958.8L775.7 958.7L778.7 958.6L781.7 958.5L784.7 958.4L787.7 958.3L790.7 958.2L793.7 958.1L796.7 958.0L799.7 957.9L802.7 957.8L805.7 957.7L808.7 957.6L811.7 957.5L814.7 957.4L817.7 957.3L820.7 957.3L823.7 957.2L826.7 957.1L829.6 957.0L832.6 956.9L835.6 956.8L838.6 956.7L841.6 956.7L844.6 956.6L847.6 956.5L850.6 956.4L853.6 956.3L856.6 956.3L859.6 956.2L862.6 956.1L865.6 956.0L868.6 956.0L871.6 955.9L874.6 955.8L877.6 955.7L880.6 955.7L883.6 955.6L886.6 955.5L889.6 955.5L892.6 955.4L895.6 955.3L898.6 955.3L901.6 955.2L904.6 955.1L907.6 955.1L910.6 955.0L913.6 954.9L916.6 954.9L919.6 954.8L922.6 954.8L925.6 954.7L928.6 954.7L931.6 954.6L934.6 954.5L937.6 954.5L940.6 954.4L943.6 954.4L946.6 954.3L949.6 954.3L952.6 954.2L955.6 954.2L958.6 954.1L961.6 954.0L964.6 954.0L967.6 953.9L970.6 953.9L973.6 953.8L976.6 953.7L979.6 953.7L982.6 953.6L985.6 953.5L988.6 953.5L991.6 953.4L994.6 953.3L997.6 953.3L1000.6 953.2L1003.6 953.1L1006.6 953.1L1009.6 953.0L1012.6 952.9L1015.6 952.9L1018.6 952.8L1021.6 952.7L1024.6 952.6L1027.6 952.6L1030.6 952.5L1033.6 952.4L1036.6 952.4L1039.6 952.3L1042.6 952.2L1045.6 952.2L1048.6 952.1L1051.6 952.1L1054.6 952.0L1057.6 951.9L1060.6 951.9L1063.6 951.8L1066.6 951.7L1069.6 951.7L1072.6 951.6L1075.6 951.6L1078.6 951.5L1081.6 951.5L1084.6 951.4L1087.6 951.4L1090.6 951.3L1093.6 951.3L1096.6 951.2L1099.6 951.2L1102.6 951.1L1105.6 951.1L1108.6 951.0L1111.6 951.0L1114.6 950.9L1117.6 950.9L1120.6 950.8L1123.6 950.8L1126.6 950.8L1129.6 950.7L1132.6 950.7L1135.6 950.6L1138.6 950.6L1141.6 950.6L1144.6 950.5L1147.6 950.5L1150.6 950.5L1153.6 950.4L1156.6 950.4L1159.6 950.4L1162.6 950.4L1165.6 950.3L1168.6 950.3L1171.6 950.3L1174.6 950.3L1177.6 950.2L1180.6 950.2L1183.6 950.2L1186.6 950.2L1189.6 950.2L1192.6 950.2L1195.6 950.1L1198.6 950.1L1201.6 950.1L1204.6 950.1L1207.6 950.1L1210.6 950.1L1213.6 950.1L1216.6 950.0L1219.6 950.0L1222.6 950.0L1225.6 950.0L1228.6 950.0L1231.6 950.0L1234.6 950.0L1237.6 950.0L1240.6 950.0L1243.6 950.0L1246.6 950.0L1249.6 950.0L1252.6 950.0L1255.6 950.0L1258.6 950.0L1261.6 950.0L1264.6 950.0L1267.6 950.0L1270.6 950.0L1273.6 950.0L1276.6 950.0L1279.6 950.0L1282.6 950.0L1285.6 950.0L1288.6 950.0L1291.6 950.0L1294.6 950.0L1297.6 950.0L1300.6 950.0L1303.6 950.0L1306.6 950.0L1309.6 950.0L1312.6 950.0L1315.6 950.0L1318.6 950.0L1321.6 950.0L1324.6 950.0L1327.6 950.0L1330.6 950.0L1333.6 950.0L1336.6 950.0L1339.6 950.0L1342.6 950.0L1345.6 950.0L1348.6 950.0L1351.6 950.0L1354.6 950.0L1357.6 950.0L1360.6 950.0L1363.6 950.0L1366.6 950.0L1369.6 950.0L1372.6 950.0L1375.6 950.0L1378.6 950.0L1381.6 950.0L1384.6 950.0L1387.6 950.0L1390.6 950.0L1393.6 950.0L1396.6 950.0L1399.6 950.0L1402.6 950.0L1405.6 950.0L1408.6 950.0L1411.6 950.0L1414.6 950.0L1417.6 950.0L1420.6 950.0L1423.6 950.0L1426.6 950.0L1429.6 950.0L1432.6 950.0L1435.6 950.0L1438.6 950.0L1441.6 950.0L1444.6 950.0L1447.6 950.0L1450.6 950.0L1453.6 950.0L1456.6 950.0L1459.6 950.0L1462.6 950.0L1465.6 950.0L1468.6 950.0L1471.6 950.0L1474.6 950.0L1477.6 950.0L1480.6 950.0L1483.6 950.0L1486.6 950.0L1489.6 950.0L1492.6 950.0L1495.6 950.0L1498.6 950.0L1501.6 950.0L1504.6 950.0L1507.6 950.0L1510.6 950.0L1513.6 950.0L1516.6 950.0L1519.6 950.0L1522.6 950.0L1525.6 950.0L1528.6 950.0L1531.6 950.0L1534.6 950.0L1537.6 950.0L1540.6 950.0L1543.6 950.0L1546.6 950.0L1549.6 950.0L1552.6 950.0L1555.6 950.0L1558.6 950.0L1560.6 950.0" fill="none" stroke="#00ff00" stroke-width="10" stroke-linejoin="round"/>
<path d="M240.6 680.0L241.3 682.9L242.1 685.8L242.8 688.7L243.5 691.7L244.2 694.6L245.0 697.5L245.7 700.4L246.4 703.3L247.1 706.2L247.8 709.2L248.5 712.1L249.2 715.0L249.8 717.9L250.5 720.8L251.2 723.8L251.9 726.7L252.6 729.6L253.3 732.5L254.0 735.4L254.7 738.4L255.4 741.3L256.1 744.2L256.8 747.1L257.5 750.0L258.2 752.9L258.9 755.9L259.6 758.8L260.3 761.7L261.0 764.6L261.7 767.5L262.5 770.4L263.2 773.3L263.9 776.2L264.6 779.1L265.4 782.0L266.1 784.9L266.9 787.8L267.6 790.7L268.4 793.6L269.1 796.5L269.9 799.4L270.7 802.3L271.5 805.2L272.3 808.1L273.1 811.0L273.9 813.9L274.7 816.8L275.5 819.6L276.3 822.5L277.2 825.4L278.0 828.3L278.9 831.1L279.8 834.0L280.6 836.8L281.5 839.7L282.4 842.6L283.3 845.4L284.3 848.2L285.2 851.1L286.1 853.9L287.1 856.8L288.1 859.6L289.1 862.4L290.1 865.2L291.1 868.0L292.1 870.8L293.2 873.6L294.3 876.4L295.4 879.2L296.5 881.9L297.6 884.7L298.8 887.5L299.9 890.2L301.1 892.9L302.4 895.7L303.6 898.4L304.9 901.1L306.2 903.7L307.5 906.4L308.9 909.1L310.3 911.7L311.7 914.3L313.1 916.9L314.6 919.5L316.2 922.0L317.7 924.6L319.3 927.1L321.0 929.5L322.7 932.0L324.4 934.4L326.2 936.8L328.0 939.1L329.9 941.4L331.8 943.7L333.8 945.9L335.9 948.0L338.0 950.1L340.1 952.2L342.3 954.2L344.6 956.1L346.9 957.9L349.3 959.7L351.7 961.4L354.2 963.1L356.8 964.6L359.3 966.1L362.0 967.5L364.7 968.8L367.4 970.0L370.1 971.2L372.9 972.2L375.7 973.2L378.6 974.1L381.5 974.9L384.4 975.7L387.3 976.3L390.2 977.0L393.2 977.5L396.1 978.0L399.1 978.4L402.0 978.8L405.0 979.1L408.0 979.4L411.0 979.7L414.0 979.9L417.0 980.0L420.0 980.2L423.0 980.3L426.0 980.3L429.0 980.4L432.0 980.4L435.0 980.4L438.0 980.3L441.0 980.3L444.0 980.2L447.0 980.1L450.0 980.0L453.0 979.9L456.0 979.8L459.0 979.7L462.0 979.5L465.0 979.4L468.0 979.2L471.0 979.0L473.9 978.9L476.9 978.7L479.9 978.5L482.9 978.3L485.9 978.1L488.9 977.9L491.9 977.7L494.9 977.5L497.9 977.3L500.9 977.1L503.9 976.8L506.9 976.6L509.9 976.4L512.9 976.2L515.9 976.0L518.8 975.8L521.8 975.5L524.8 975.3L527.8 975.1L530.8 974.9L533.8 974.7L536.8 974.5L539.8 974.2L542.8 974.0L545.8 973.8L548.8 973.6L551.8 973.4L554.7 973.2L557.7 973.0L560.7 972.8L563.7 972.5L566.7 972.3L569.7 972.1L572.7 971.9L575.7 971.7L578.7 971.5L581.7 971.3L584.7 971.1L587.7 970.9L590.7 970.7L593.7 970.5L596.7 970.3L599.6 970.2L602.6 970.0L605.6 969.8L608.6 969.6L611.6 969.4L614.6 969.2L617.6 969.0L620.6 968.9L623.6 968.7L626.6 968.5L629.6 968.3L632.6 968.2L635.6 968.0L638.6 967.8L641.6 967.6L644.6 967.5L647.6 967.3L650.6 967.2L653.6 967.0L656.5 966.8L659.5 966.7L662.5 966.5L665.5 966.4L668.5 966.2L671.5 966.0L674.5 965.9L677.5 965.7L680.5 965.6L683.5 965.4L686.5 965.3L689.5 965.1L692.5 965.0L695.5 964.9L698.5 964.7L701.5 964.6L704.5 964.4L707.5 964.3L710.5 964.2L713.5 964.0L716.5 963.9L719.5 963.8L722.5 963.6L725.5 963.5L728.5 963.4L731.5 963.2L734.5 963.1L737.5 963.0L740.5 962.9L743.5 962.7L746.4 962.6L749.4 962.5L752.4 962.4L755.4 962.3L758.4 962.2L761.4 962.0L764.4 961.9L767.4 961.8L770.4 961.7L773.4 961.6L776.4 961.5L779.4 961.4L782.4 961.3L785.4 961.1L788.4 961.0L791.4 960.9L794.4 960.8L797.4 960.7L800.4 960.6L803.4 960.5L806.4 960.4L809.4 960.3L812.4 960.2L815.4 960.1L818.4 960.0L821.4 959.9L824.4 959.8L827.4 959.7L830.4 959.7L833.4 959.6L836.4 959.5L839.4 959.4L842.4 959.3L845.4 959.2L848.4 959.1L851.4 959.0L854.4 958.9L857.4 958.9L860.4 958.8L863.4 958.7L866.4 958.6L869.4 958.5L872.4 958.4L875.4 958.4L878.4 958.3L881.4 958.2L884.4 958.1L887.4 958.0L890.4 958.0L893.4 957.9L896.4 957.8L899.4 957.7L902.4 957.7L905.4 957.6L908.4 957.5L911.4 957.5L914.4 957.4L917.4 957.3L920.4 957.2L923.4 957.2L926.4 957.1L929.4 957.0L932.4 957.0L935.4 956.9L938.4 956.8L941.4 956.8L944.4 956.7L947.4 956.6L950.4 956.6L953.4 956.5L956.4 956.4L959.4 956.4L962.4 956.3L965.4 956.2L968.4 956.1L971.4 956.1L974.3 956.0L977.3 955.9L980.3 955.8L983.3 955.7L986.3 955.6L989.3 955.5L992.3 955.4L995.3 955.3L998.3 955.2L1001.3 955.2L1004.3 955.1L1007.3 955.0L1010.3 954.9L1013.3 954.8L1016.3 954.7L1019.3 954.6L1022.3 954.5L1025.3 954.4L1028.3 954.3L1031.3 954.2L1034.3 954.1L1037.3 954.0L1040.3 953.9L1043.3 953.8L1046.3 953.7L1049.3 953.6L1052.3 953.5L1055.3 953.4L1058.3 953.3L1061.3 953.2L1064.3 953.1L1067.3 953.0L1070.3 952.9L1073.3 952.8L1076.3 952.7L1079.3 952.6L1082.3 952.5L1085.3 952.4L1088.3 952.4L1091.3 952.3L1094.3 952.2L1097.3 952.1L1100.3 952.0L1103.3 951.9L1106.3 951.9L1109.3 951.8L1112.3 951.7L1115.3 951.6L1118.3 951.6L1121.3 951.5L1124.3 951.4L1127.3 951.4L1130.3 951.3L1133.3 951.2L1136.3 951.2L1139.3 951.1L1142.3 951.0L1145.3 951.0L1148.3 950.9L1151.3 950.9L1154.3 950.8L1157.3 950.8L1160.3 950.7L1163.3 950.7L1166.3 950.6L1169.3 950.6L1172.3 950.5L1175.3 950.5L1178.3 950.5L1181.3 950.4L1184.3 950.4L1187.3 950.3L1190.3 950.3L1193.3 950.3L1196.3 950.3L1199.3 950.2L1202.3 950.2L1205.3 950.2L1208.3 950.2L1211.3 950.1L1214.3 950.1L1217.3 950.1L1220.3 950.1L1223.3 950.1L1226.3 950.0L1229.3 950.0L1232.3 950.0L1235.3 950.0L1238.3 950.0L1241.3 950.0L1244.3 950.0L1247.3 950.0L1250.3 950.0L1253.3 950.0L1256.3 950.0L1259.3 950.0L1262.3 950.0L1265.3 950.0L1268.3 950.0L1271.3 950.0L1274.3 950.0L1277.3 950.0L1280.3 950.0L1283.3 950.0L1286.3 950.0L1289.3 950.0L1292.3 950.0L1295.3 950.0L1298.3 950.0L1301.3 950.0L1304.3 950.0L1307.3 950.0L1310.3 950.0L1313.3 950.0L1316.3 950.0L1319.3 950.0L1322.3 950.0L1325.3 950.0L1328.3 950.0L1331.3 950.0L1334.3 950.0L1337.3 950.0L1340.3 950.0L1343.3 950.0L1346.3 950.0L1349.3 950.0L1352.3 950.0L1355.3 950.0L1358.3 950.0L1361.3 950.0L1364.3 950.0L1367.3 950.0L1370.3 950.0L1373.3 950.0L1376.3 950.0L1379.3 950.0L1382.3 950.0L1385.3 950.0L1388.3 950.0L1391.3 950.0L1394.3 950.0L1397.3 950.0L1400.3 950.0L1403.3 950.0L1406.3 950.0L1409.3 950.0L1412.3 950.0L1415.3 950.0L1418.3 950.0L1421.3 950.0L1424.3 950.0L1427.3 950.0L1430.3 950.0L1433.3 950.0L1436.3 950.0L1439.3 950.0L1442.3 950.0L1445.3 950.0L1448.3 950.0L1451.3 950.0L1454.3 950.0L1457.3 950.0L1460.3 950.0L1463.3 950.0L1466.3 950.0L1469.3 950.0L1472.3 950.0L1475.3 950.0L1478.3 950.0L1481.3 950.0L1484.3 950.0L1487.3 950.0L1490.3 950.0L1493.3 950.0L1496.3 950.0L1499.3 950.0L1502.3 950.0L1505.3 950.0L1508.3 950.0L1511.3 950.0L1514.3 950.0L1517.3 950.0L1520.3 950.0L1523.3 950.0L1526.3 950.0L1529.3 950.0L1532.3 950.0L1535.3 950.0L1538.3 950.0L1541.3 950.0L1544.3 950.0L1547.3 950.0L1550.3 950.0L1553.3 950.0L1556.3 950.0L1559.3 950.0L1560.6 950.0" fill="none" stroke="#00ff00" stroke-width="10" stroke-linejoin="round"/>
<path d="M240.6 372.0L241.0 375.0L241.4 377.9L241.8 380.9L242.3 383.9L242.7 386.9L243.1 389.8L243.5 392.8L244.0 395.8L244.4 398.7L244.8 401.7L245.3 404.7L245.7 407.7L246.2 410.6L246.6 413.6L247.1 416.6L247.5 419.5L248.0 422.5L248.5 425.5L248.9 428.4L249.4 431.4L249.9 434.3L250.4 437.3L250.8 440.3L251.3 443.2L251.8 446.2L252.3 449.1L252.8 452.1L253.3 455.1L253.8 458.0L254.3 461.0L254.8 463.9L255.3 466.9L255.8 469.8L256.3 472.8L256.9 475.8L257.4 478.7L257.9 481.7L258.4 484.6L259.0 487.6L259.5 490.5L260.1 493.5L260.6 496.4L261.1 499.4L261.7 502.3L262.2 505.3L262.8 508.2L263.4 511.2L263.9 514.1L264.5 517.0L265.1 520.0L265.6 522.9L266.2 525.9L266.8 528.8L267.4 531.8L268.0 534.7L268.6 537.6L269.2 540.6L269.8 543.5L270.4 546.5L271.0 549.4L271.6 552.3L272.2 555.3L272.8 558.2L273.4 561.1L274.1 564.1L274.7 567.0L275.3 569.9L276.0 572.8L276.6 575.8L277.3 578.7L277.9 581.6L278.6 584.6L279.2 587.5L279.9 590.4L280.6 593.3L281.2 596.2L281.9 599.2L282.6 602.1L283.3 605.0L284.0 607.9L284.7 610.8L285.4 613.7L286.1 616.7L286.8 619.6L287.5 622.5L288.2 625.4L289.0 628.3L289.7 631.2L290.4 634.1L291.2 637.0L291.9 639.9L292.7 642.8L293.5 645.7L294.2 648.6L295.0 651.5L295.8 654.4L296.6 657.3L297.4 660.2L298.2 663.0L299.0 665.9L299.8 668.8L300.6 671.7L301.4 674.6L302.3 677.4L303.1 680.3L304.0 683.2L304.8 686.1L305.7 688.9L306.6 691.8L307.4 694.6L308.3 697.5L309.2 700.4L310.1 703.2L311.0 706.1L312.0 708.9L312.9 711.8L313.8 714.6L314.8 717.4L315.8 720.3L316.7 723.1L317.7 725.9L318.7 728.8L319.7 731.6L320.7 734.4L321.7 737.2L322.8 740.0L323.8 742.8L324.9 745.6L325.9 748.4L327.0 751.2L328.1 754.0L329.2 756.8L330.3 759.5L331.5 762.3L332.6 765.1L333.8 767.8L334.9 770.6L336.1 773.3L337.3 776.0L338.5 778.8L339.8 781.5L341.0 784.2L342.3 786.9L343.6 789.6L344.9 792.3L346.2 795.0L347.5 797.7L348.9 800.3L350.2 803.0L351.6 805.6L353.0 808.3L354.5 810.9L355.9 813.5L357.4 816.1L358.9 818.7L360.4 821.3L361.9 823.8L363.5 826.4L365.0 828.9L366.6 831.4L368.3 833.9L369.9 836.4L371.6 838.9L373.3 841.4L375.0 843.8L376.7 846.2L378.5 848.6L380.3 851.0L382.2 853.3L384.0 855.7L385.9 858.0L387.8 860.3L389.7 862.6L391.7 864.8L393.7 867.0L395.7 869.2L397.8 871.4L399.9 873.5L402.0 875.6L404.1 877.7L406.3 879.7L408.5 881.7L410.7 883.7L413.0 885.7L415.3 887.6L417.6 889.5L419.9 891.3L422.3 893.1L424.7 894.9L427.1 896.7L429.6 898.4L432.1 900.0L434.6 901.7L437.1 903.3L439.7 904.8L442.2 906.3L444.8 907.8L447.5 909.2L450.1 910.6L452.8 912.0L455.4 913.3L458.1 914.6L460.9 915.9L463.6 917.1L466.4 918.3L469.1 919.4L471.9 920.5L474.7 921.6L477.5 922.6L480.3 923.6L483.2 924.6L486.0 925.5L488.9 926.4L491.7 927.3L494.6 928.2L497.5 929.0L500.4 929.8L503.3 930.5L506.2 931.3L509.1 932.0L512.0 932.7L514.9 933.3L517.9 934.0L520.8 934.6L523.7 935.2L526.7 935.7L529.6 936.3L532.6 936.8L535.5 937.3L538.5 937.8L541.5 938.3L544.4 938.7L547.4 939.1L550.4 939.6L553.3 940.0L556.3 940.4L559.3 940.7L562.3 941.1L565.2 941.4L568.2 941.8L571.2 942.1L574.2 942.4L577.2 942.7L580.2 943.0L583.1 943.2L586.1 943.5L589.1 943.8L592.1 944.0L595.1 944.2L598.1 944.5L601.1 944.7L604.1 944.9L607.1 945.1L610.1 945.3L613.1 945.5L616.1 945.6L619.0 945.8L622.0 946.0L625.0 946.1L628.0 946.3L631.0 946.4L634.0 946.6L637.0 946.7L640.0 946.8L643.0 946.9L646.0 947.1L649.0 947.2L652.0 947.3L655.0 947.4L658.0 947.5L661.0 947.6L664.0 947.7L667.0 947.8L670.0 947.9L673.0 947.9L676.0 948.0L679.0 948.1L682.0 948.2L685.0 948.2L688.0 948.3L691.0 948.4L694.0 948.4L697.0 948.5L700.0 948.6L703.0 948.6L706.0 948.7L709.0 948.7L712.0 948.8L715.0 948.8L718.0 948.9L721.0 948.9L724.0 949.0L727.0 949.0L730.0 949.0L733.0 949.1L736.0 949.1L739.0 949.1L742.0 949.2L745.0 949.2L748.0 949.2L751.0 949.3L754.0 949.3L757.0 949.3L760.0 949.4L763.0 949.4L766.0 949.4L769.0 949.4L772.0 949.4L775.0 949.5L778.0 949.5L781.0 949.5L784.0 949.5L787.0 949.5L790.0 949.6L793.0 949.6L796.0 949.6L799.0 949.6L802.0 949.6L805.0 949.6L808.0 949.7L811.0 949.7L814.0 949.7L817.0 949.7L820.0 949.7L823.0 949.7L826.0 949.7L829.0 949.7L832.0 949.7L835.0 949.8L838.0 949.8L841.0 949.8L844.0 949.8L847.0 949.8L850.0 949.8L853.0 949.8L856.0 949.8L859.0 949.8L862.0 949.8L865.0 949.8L868.0 949.8L871.0 949.9L874.0 949.9L877.0 949.9L880.0 949.9L883.0 949.9L886.0 949.9L889.0 949.9L892.0 949.9L895.0 949.9L898.0 949.9L901.0 949.9L904.0 949.9L907.0 949.9L910.0 949.9L913.0 949.9L916.0 949.9L919.0 949.9L922.0 949.9L925.0 949.9L928.0 949.9L931.0 949.9L934.0 949.9L937.0 949.9L940.0 949.9L943.0 949.9L946.0 949.9L949.0 949.9L952.0 949.9L955.0 950.0L958.0 950.0L961.0 950.0L964.0 950.0L967.0 950.0L970.0 950.0L973.0 950.0L976.0 950.0L979.0 950.0L982.0 950.0L985.0 950.0L988.0 950.0L991.0 950.0L994.0 950.0L997.0 950.0L1000.0 950.0L1003.0 950.0L1006.0 950.0L1009.0 950.0L1012.0 950.0L1015.0 950.0L1018.0 950.0L1021.0 950.0L1024.0 950.0L1027.0 950.0L1030.0 950.0L1033.0 950.0L1036.0 950.0L1039.0 950.0L1042.0 950.0L1045.0 950.0L1048.0 950.0L1051.0 950.0L1054.0 950.0L1057.0 950.0L1060.0 950.0L1063.0 950.0L1066.0 950.0L1069.0 950.0L1072.0 950.0L1075.0 950.0L1078.0 950.0L1081.0 950.0L1084.0 950.0L1087.0 950.0L1090.0 950.0L1093.0 950.0L1096.0 950.0L1099.0 950.0L1102.0 950.0L1105.0 950.0L1108.0 950.0L1111.0 950.0L1114.0 950.0L1117.0 950.0L1120.0 950.0L1123.0 950.0L1126.0 950.0L1129.0 950.0L1132.0 950.0L1135.0 950.0L1138.0 950.0L1141.0 950.0L1144.0 950.0L1147.0 950.0L1150.0 950.0L1153.0 950.0L1156.0 950.0L1159.0 950.0L1162.0 950.0L1165.0 950.0L1168.0 950.0L1171.0 950.0L1174.0 950.0L1177.0 950.0L1180.0 950.0L1183.0 950.0L1186.0 950.0L1189.0 950.0L1192.0 950.0L1195.0 950.0L1198.0 950.0L1201.0 950.0L1204.0 950.0L1207.0 950.0L1210.0 950.0L1213.0 950.0L1216.0 950.0L1219.0 950.0L1222.0 950.0L1225.0 950.0L1228.0 950.0L1231.0 950.0L1234.0 950.0L1237.0 950.0L1240.0 950.0L1243.0 950.0L1246.0 950.0L1249.0 950.0L1252.0 950.0L1255.0 950.0L1258.0 950.0L1261.0 950.0L1264.0 950.0L1267.0 950.0L1270.0 950.0L1273.0 950.0L1276.0 950.0L1279.0 950.0L1282.0 950.0L1285.0 950.0L1288.0 950.0L1291.0 950.0L1294.0 950.0L1297.0 950.0L1300.0 950.0L1303.0 950.0L1306.0 950.0L1309.0 950.0L1312.0 950.0L1315.0 950.0L1318.0 950.0L1321.0 950.0L1324.0 950.0L1327.0 950.0L1330.0 950.0L1333.0 950.0L1336.0 950.0L1339.0 950.0L1342.0 950.0L1345.0 950.0L1348.0 950.0L1351.0 950.0L1354.0 950.0L1357.0 950.0L1360.0 950.0L1363.0 950.0L1366.0 950.0L1369.0 950.0L1372.0 950.0L1375.0 950.0L1378.0 950.0L1381.0 950.0L1384.0 950.0L1387.0 950.0L1390.0 950.0L1393.0 950.0L1396.0 950.0L1399.0 950.0L1402.0 950.0L1405.0 950.0L1408.0 950.0L1411.0 950.0L1414.0 950.0L1417.0 950.0L1420.0 950.0L1423.0 950.0L1426.0 950.0L1429.0 950.0L1432.0 950.0L1435.0 950.0L1438.0 950.0L1441.0 950.0L1444.0 950.0L1447.0 950.0L1450.0 950.0L1453.0 950.0L1456.0 950.0L1459.0 950.0L1462.0 950.0L1465.0 950.0L1468.0 950.0L1471.0 950.0L1474.0 950.0L1477.0 950.0L1480.0 950.0L1483.0 950.0L1486.0 950.0L1489.0 950.0L1492.0 950.0L1495.0 950.0L1498.0 950.0L1501.0 950.0L1504.0 950.0L1507.0 950.0L1510.0 950.0L1513.0 950.0L1516.0 950.0L1519.0 950.0L1522.0 950.0L1525.0 950.0L1528.0 950.0L1531.0 950.0L1534.0 950.0L1537.0 950.0L1540.0 950.0L1543.0 950.0L1546.0 950.0L1549.0 950.0L1552.0 950.0L1555.0 950.0L1558.0 950.0L1560.6 950.0" fill="none" stroke="#ff0000" stroke-width="10" stroke-dasharray="26 5.5 13 5.5" stroke-linejoin="round"/>
<path d="M240.6 471.0L241.0 474.0L241.5 476.9L241.9 479.9L242.4 482.9L242.9 485.8L243.3 488.8L243.8 491.8L244.3 494.7L244.7 497.7L245.2 500.7L245.7 503.6L246.2 506.6L246.7 509.5L247.2 512.5L247.7 515.5L248.2 518.4L248.7 521.4L249.2 524.3L249.7 527.3L250.2 530.2L250.7 533.2L251.3 536.1L251.8 539.1L252.3 542.0L252.9 545.0L253.4 547.9L253.9 550.9L254.5 553.8L255.0 556.8L255.6 559.7L256.2 562.7L256.7 565.6L257.3 568.6L257.9 571.5L258.4 574.5L259.0 577.4L259.6 580.3L260.2 583.3L260.8 586.2L261.4 589.2L262.0 592.1L262.6 595.0L263.2 598.0L263.8 600.9L264.4 603.8L265.0 606.8L265.7 609.7L266.3 612.6L266.9 615.6L267.6 618.5L268.2 621.4L268.9 624.3L269.5 627.3L270.2 630.2L270.8 633.1L271.5 636.0L272.2 639.0L272.9 641.9L273.6 644.8L274.2 647.7L274.9 650.6L275.6 653.5L276.4 656.5L277.1 659.4L277.8 662.3L278.5 665.2L279.2 668.1L280.0 671.0L280.7 673.9L281.5 676.8L282.2 679.7L283.0 682.6L283.8 685.5L284.5 688.4L285.3 691.3L286.1 694.2L286.9 697.0L287.7 699.9L288.5 702.8L289.3 705.7L290.2 708.6L291.0 711.4L291.8 714.3L292.7 717.2L293.5 720.1L294.4 722.9L295.3 725.8L296.2 728.6L297.1 731.5L298.0 734.4L298.9 737.2L299.8 740.1L300.7 742.9L301.6 745.7L302.6 748.6L303.6 751.4L304.5 754.2L305.5 757.1L306.5 759.9L307.5 762.7L308.5 765.5L309.5 768.3L310.6 771.1L311.6 773.9L312.7 776.7L313.8 779.5L314.9 782.3L316.0 785.1L317.1 787.9L318.2 790.6L319.3 793.4L320.5 796.2L321.7 798.9L322.9 801.6L324.1 804.4L325.3 807.1L326.5 809.8L327.8 812.5L329.1 815.2L330.4 817.9L331.7 820.6L333.0 823.3L334.4 825.9L335.7 828.6L337.1 831.2L338.5 833.9L340.0 836.5L341.4 839.1L342.9 841.7L344.4 844.3L345.9 846.8L347.5 849.4L349.0 851.9L350.6 854.4L352.3 856.9L353.9 859.4L355.6 861.9L357.3 864.3L359.1 866.7L360.8 869.1L362.6 871.5L364.5 873.9L366.3 876.2L368.2 878.5L370.1 880.8L372.1 883.0L374.1 885.3L376.1 887.5L378.1 889.6L380.2 891.7L382.4 893.8L384.5 895.9L386.7 897.9L388.9 899.9L391.2 901.8L393.5 903.8L395.8 905.6L398.2 907.4L400.6 909.2L403.0 911.0L405.5 912.7L408.0 914.3L410.5 915.9L413.0 917.5L415.6 919.0L418.2 920.4L420.8 921.8L423.5 923.2L426.2 924.5L428.9 925.8L431.6 927.0L434.4 928.2L437.1 929.3L439.9 930.4L442.7 931.4L445.6 932.4L448.4 933.4L451.2 934.3L454.1 935.2L457.0 936.0L459.9 936.8L462.8 937.6L465.7 938.3L468.6 939.0L471.5 939.6L474.5 940.2L477.4 940.8L480.3 941.4L483.3 941.9L486.2 942.4L489.2 942.9L492.2 943.4L495.1 943.8L498.1 944.2L501.1 944.6L504.1 944.9L507.0 945.3L510.0 945.6L513.0 945.9L516.0 946.2L519.0 946.4L522.0 946.7L525.0 946.9L527.9 947.2L530.9 947.4L533.9 947.6L536.9 947.8L539.9 947.9L542.9 948.1L545.9 948.2L548.9 948.4L551.9 948.5L554.9 948.7L557.9 948.8L560.9 948.9L563.9 949.0L566.9 949.1L569.9 949.2L572.9 949.3L575.9 949.3L578.9 949.4L581.9 949.5L584.9 949.5L587.9 949.6L590.9 949.6L593.9 949.7L596.9 949.7L599.9 949.8L602.9 949.8L605.9 949.9L608.9 949.9L611.9 949.9L614.9 949.9L617.9 950.0L620.9 950.0L623.9 950.0L626.9 950.0L629.9 950.1L632.9 950.1L635.9 950.1L638.9 950.1L641.9 950.1L644.9 950.1L647.9 950.1L650.9 950.1L653.9 950.1L656.9 950.1L659.9 950.1L662.9 950.2L665.9 950.2L668.9 950.2L671.9 950.2L674.9 950.2L677.9 950.2L680.9 950.2L683.9 950.2L686.9 950.2L689.9 950.2L692.9 950.2L695.9 950.2L698.9 950.2L701.9 950.2L704.9 950.2L707.9 950.1L710.9 950.1L713.9 950.1L716.9 950.1L719.9 950.1L722.9 950.1L725.9 950.1L728.9 950.1L731.9 950.1L734.9 950.1L737.9 950.1L740.9 950.1L743.9 950.1L746.9 950.1L749.9 950.1L752.9 950.1L755.9 950.1L758.9 950.1L761.9 950.1L764.9 950.1L767.9 950.1L770.9 950.1L773.9 950.1L776.9 950.1L779.9 950.1L782.9 950.1L785.9 950.1L788.9 950.1L791.9 950.1L794.9 950.1L797.9 950.1L800.9 950.1L803.9 950.1L806.9 950.1L809.9 950.1L812.9 950.1L815.9 950.1L818.9 950.0L821.9 950.0L824.9 950.0L827.9 950.0L830.9 950.0L833.9 950.0L836.9 950.0L839.9 950.0L842.9 950.0L845.9 950.0L848.9 950.0L851.9 950.0L854.9 950.0L857.9 950.0L860.9 950.0L863.9 950.0L866.9 950.0L869.9 950.0L872.9 950.0L875.9 950.0L878.9 950.0L881.9 950.0L884.9 950.0L887.9 950.0L890.9 950.0L893.9 950.0L896.9 950.0L899.9 950.0L902.9 950.0L905.9 950.0L908.9 950.0L911.9 950.0L914.9 950.0L917.9 950.0L920.9 950.0L923.9 950.0L926.9 950.0L929.9 950.0L932.9 950.0L935.9 950.0L938.9 950.0L941.9 950.0L944.9 950.0L947.9 950.0L950.9 950.0L953.9 950.0L956.9 950.0L959.9 950.0L962.9 950.0L965.9 950.0L968.9 950.0L971.9 950.0L974.9 950.0L977.9 950.0L980.9 950.0L983.9 950.0L986.9 950.0L989.9 950.0L992.9 950.0L995.9 950.0L998.9 950.0L1001.9 950.0L1004.9 950.0L1007.9 950.0L1010.9 950.0L1013.9 950.0L1016.9 950.0L1019.9 950.0L1022.9 950.0L1025.9 950.0L1028.9 950.0L1031.9 950.0L1034.9 950.0L1037.9 950.0L1040.9 950.0L1043.9 950.0L1046.9 950.0L1049.9 950.0L1052.9 950.0L1055.9 950.0L1058.9 950.0L1061.9 950.0L1064.9 950.0L1067.9 950.0L1070.9 950.0L1073.9 950.0L1076.9 950.0L1079.9 950.0L1082.9 950.0L1085.9 950.0L1088.9 950.0L1091.9 950.0L1094.9 950.0L1097.9 950.0L1100.9 950.0L1103.9 950.0L1106.9 950.0L1109.9 950.0L1112.9 950.0L1115.9 950.0L1118.9 950.0L1121.9 950.0L1124.9 950.0L1127.9 950.0L1130.9 950.0L1133.9 950.0L1136.9 950.0L1139.9 950.0L1142.9 950.0L1145.9 950.0L1148.9 950.0L1151.9 950.0L1154.9 950.0L1157.9 950.0L1160.9 950.0L1163.9 950.0L1166.9 950.0L1169.9 950.0L1172.9 950.0L1175.9 950.0L1178.9 950.0L1181.9 950.0L1184.9 950.0L1187.9 950.0L1190.9 950.0L1193.9 950.0L1196.9 950.0L1199.9 950.0L1202.9 950.0L1205.9 950.0L1208.9 950.0L1211.9 950.0L1214.9 950.0L1217.9 950.0L1220.9 950.0L1223.9 950.0L1226.9 950.0L1229.9 950.0L1232.9 950.0L1235.9 950.0L1238.9 950.0L1241.9 950.0L1244.9 950.0L1247.9 950.0L1250.9 950.0L1253.9 950.0L1256.9 950.0L1259.9 950.0L1262.9 950.0L1265.9 950.0L1268.9 950.0L1271.9 950.0L1274.9 950.0L1277.9 950.0L1280.9 950.0L1283.9 950.0L1286.9 950.0L1289.9 950.0L1292.9 950.0L1295.9 950.0L1298.9 950.0L1301.9 950.0L1304.9 950.0L1307.9 950.0L1310.9 950.0L1313.9 950.0L1316.9 950.0L1319.9 950.0L1322.9 950.0L1325.9 950.0L1328.9 950.0L1331.9 950.0L1334.9 950.0L1337.9 950.0L1340.9 950.0L1343.9 950.0L1346.9 950.0L1349.9 950.0L1352.9 950.0L1355.9 950.0L1358.9 950.0L1361.9 950.0L1364.9 950.0L1367.9 950.0L1370.9 950.0L1373.9 950.0L1376.9 950.0L1379.9 950.0L1382.9 950.0L1385.9 950.0L1388.9 950.0L1391.9 950.0L1394.9 950.0L1397.9 950.0L1400.9 950.0L1403.9 950.0L1406.9 950.0L1409.9 950.0L1412.9 950.0L1415.9 950.0L1418.9 950.0L1421.9 950.0L1424.9 950.0L1427.9 950.0L1430.9 950.0L1433.9 950.0L1436.9 950.0L1439.9 950.0L1442.9 950.0L1445.9 950.0L1448.9 950.0L1451.9 950.0L1454.9 950.0L1457.9 950.0L1460.9 950.0L1463.9 950.0L1466.9 950.0L1469.9 950.0L1472.9 950.0L1475.9 950.0L1478.9 950.0L1481.9 950.0L1484.9 950.0L1487.9 950.0L1490.9 950.0L1493.9 950.0L1496.9 950.0L1499.9 950.0L1502.9 950.0L1505.9 950.0L1508.9 950.0L1511.9 950.0L1514.9 950.0L1517.9 950.0L1520.9 950.0L1523.9 950.0L1526.9 950.0L1529.9 950.0L1532.9 950.0L1535.9 950.0L1538.9 950.0L1541.9 950.0L1544.9 950.0L1547.9 950.0L1550.9 950.0L1553.9 950.0L1556.9 950.0L1559.9 950.0L1560.6 950.0" fill="none" stroke="#ff0000" stroke-width="10" stroke-dasharray="26 5.5 13 5.5" stroke-linejoin="round"/>
<path d="M240.6 561.0L241.1 564.0L241.6 566.9L242.1 569.9L242.6 572.8L243.1 575.8L243.6 578.8L244.1 581.7L244.6 584.7L245.1 587.6L245.7 590.6L246.2 593.5L246.7 596.5L247.3 599.4L247.8 602.4L248.4 605.3L248.9 608.3L249.5 611.2L250.0 614.2L250.6 617.1L251.2 620.0L251.8 623.0L252.4 625.9L252.9 628.9L253.5 631.8L254.1 634.7L254.7 637.7L255.4 640.6L256.0 643.5L256.6 646.5L257.2 649.4L257.8 652.3L258.5 655.3L259.1 658.2L259.8 661.1L260.4 664.0L261.1 667.0L261.7 669.9L262.4 672.8L263.1 675.7L263.8 678.7L264.5 681.6L265.2 684.5L265.9 687.4L266.6 690.3L267.3 693.2L268.0 696.1L268.7 699.0L269.4 701.9L270.2 704.8L270.9 707.7L271.7 710.6L272.4 713.5L273.2 716.4L274.0 719.3L274.7 722.2L275.5 725.1L276.3 728.0L277.1 730.9L277.9 733.8L278.7 736.7L279.6 739.5L280.4 742.4L281.2 745.3L282.1 748.2L282.9 751.0L283.8 753.9L284.7 756.8L285.6 759.6L286.5 762.5L287.4 765.3L288.3 768.2L289.2 771.0L290.1 773.9L291.1 776.7L292.0 779.5L293.0 782.4L294.0 785.2L295.0 788.0L296.0 790.8L297.0 793.6L298.0 796.4L299.1 799.3L300.1 802.0L301.2 804.8L302.3 807.6L303.4 810.4L304.5 813.2L305.6 815.9L306.7 818.7L307.9 821.5L309.1 824.2L310.3 826.9L311.5 829.7L312.7 832.4L314.0 835.1L315.2 837.8L316.5 840.5L317.8 843.2L319.2 845.9L320.5 848.5L321.9 851.2L323.3 853.8L324.7 856.4L326.2 859.0L327.6 861.6L329.1 864.2L330.6 866.8L332.2 869.3L333.8 871.9L335.4 874.4L337.0 876.8L338.7 879.3L340.4 881.8L342.1 884.2L343.9 886.6L345.7 889.0L347.6 891.3L349.4 893.6L351.3 895.9L353.3 898.1L355.3 900.4L357.3 902.5L359.4 904.7L361.5 906.8L363.6 908.9L365.8 910.9L368.0 912.9L370.3 914.8L372.6 916.7L375.0 918.5L377.4 920.3L379.8 922.0L382.2 923.7L384.7 925.3L387.3 926.9L389.9 928.4L392.5 929.8L395.1 931.2L397.8 932.6L400.5 933.8L403.2 935.0L406.0 936.2L408.8 937.3L411.6 938.3L414.4 939.3L417.2 940.3L420.1 941.2L423.0 942.0L425.9 942.8L428.8 943.5L431.7 944.2L434.6 944.8L437.5 945.4L440.5 946.0L443.4 946.5L446.4 947.0L449.4 947.4L452.3 947.8L455.3 948.2L458.3 948.6L461.3 948.9L464.2 949.2L467.2 949.4L470.2 949.7L473.2 949.9L476.2 950.1L479.2 950.3L482.2 950.5L485.2 950.6L488.2 950.8L491.2 950.9L494.2 951.0L497.2 951.1L500.2 951.1L503.2 951.2L506.2 951.3L509.2 951.3L512.2 951.4L515.2 951.4L518.2 951.4L521.2 951.5L524.2 951.5L527.2 951.5L530.2 951.5L533.2 951.5L536.2 951.5L539.2 951.5L542.2 951.5L545.2 951.4L548.2 951.4L551.2 951.4L554.2 951.4L557.2 951.3L560.2 951.3L563.2 951.3L566.2 951.3L569.2 951.2L572.2 951.2L575.2 951.2L578.2 951.1L581.2 951.1L584.2 951.1L587.2 951.0L590.2 951.0L593.2 951.0L596.2 951.0L599.2 950.9L602.2 950.9L605.2 950.9L608.2 950.8L611.2 950.8L614.2 950.8L617.2 950.7L620.2 950.7L623.2 950.7L626.2 950.7L629.2 950.6L632.2 950.6L635.2 950.6L638.2 950.6L641.2 950.5L644.2 950.5L647.2 950.5L650.2 950.5L653.2 950.4L656.2 950.4L659.2 950.4L662.2 950.4L665.2 950.4L668.2 950.3L671.2 950.3L674.2 950.3L677.2 950.3L680.2 950.3L683.2 950.3L686.2 950.3L689.2 950.2L692.2 950.2L695.2 950.2L698.2 950.2L701.2 950.2L704.2 950.2L707.2 950.2L710.2 950.2L713.2 950.2L716.2 950.1L719.2 950.1L722.2 950.1L725.2 950.1L728.2 950.1L731.2 950.1L734.2 950.1L737.2 950.1L740.2 950.1L743.2 950.1L746.2 950.1L749.2 950.1L752.2 950.1L755.2 950.1L758.2 950.1L761.2 950.1L764.2 950.1L767.2 950.0L770.2 950.0L773.2 950.0L776.2 950.0L779.2 950.0L782.2 950.0L785.2 950.0L788.2 950.0L791.2 950.0L794.2 950.0L797.2 950.0L800.2 950.0L803.2 950.0L806.2 950.0L809.2 950.0L812.2 950.0L815.2 950.0L818.2 950.0L821.2 950.0L824.2 950.0L827.2 950.0L830.2 950.0L833.2 950.0L836.2 950.0L839.2 950.0L842.2 950.0L845.2 950.0L848.2 950.0L851.2 950.0L854.2 950.0L857.2 950.0L860.2 950.0L863.2 950.0L866.2 950.0L869.2 950.0L872.2 950.0L875.2 950.0L878.2 950.0L881.2 950.0L884.2 950.0L887.2 950.0L890.2 950.0L893.2 950.0L896.2 950.0L899.2 950.0L902.2 950.0L905.2 950.0L908.2 950.0L911.2 950.0L914.2 950.0L917.2 950.0L920.2 950.0L923.2 950.0L926.2 950.0L929.2 950.0L932.2 950.0L935.2 950.0L938.2 950.0L941.2 950.0L944.2 950.0L947.2 950.0L950.2 950.0L953.2 950.0L956.2 950.0L959.2 950.0L962.2 950.0L965.2 950.0L968.2 950.0L971.2 950.0L974.2 950.0L977.2 950.0L980.2 950.0L983.2 950.0L986.2 950.0L989.2 950.0L992.2 950.0L995.2 950.0L998.2 950.0L1001.2 950.0L1004.2 950.0L1007.2 950.0L1010.2 950.0L1013.2 950.0L1016.2 950.0L1019.2 950.0L1022.2 950.0L1025.2 950.0L1028.2 950.0L1031.2 950.0L1034.2 950.0L1037.2 950.0L1040.2 950.0L1043.2 950.0L1046.2 950.0L1049.2 950.0L1052.2 950.0L1055.2 950.0L1058.2 950.0L1061.2 950.0L1064.2 950.0L1067.2 950.0L1070.2 950.0L1073.2 950.0L1076.2 950.0L1079.2 950.0L1082.2 950.0L1085.2 950.0L1088.2 950.0L1091.2 950.0L1094.2 950.0L1097.2 950.0L1100.2 950.0L1103.2 950.0L1106.2 950.0L1109.2 950.0L1112.2 950.0L1115.2 950.0L1118.2 950.0L1121.2 950.0L1124.2 950.0L1127.2 950.0L1130.2 950.0L1133.2 950.0L1136.2 950.0L1139.2 950.0L1142.2 950.0L1145.2 950.0L1148.2 950.0L1151.2 950.0L1154.2 950.0L1157.2 950.0L1160.2 950.0L1163.2 950.0L1166.2 950.0L1169.2 950.0L1172.2 950.0L1175.2 950.0L1178.2 950.0L1181.2 950.0L1184.2 950.0L1187.2 950.0L1190.2 950.0L1193.2 950.0L1196.2 950.0L1199.2 950.0L1202.2 950.0L1205.2 950.0L1208.2 950.0L1211.2 950.0L1214.2 950.0L1217.2 950.0L1220.2 950.0L1223.2 950.0L1226.2 950.0L1229.2 950.0L1232.2 950.0L1235.2 950.0L1238.2 950.0L1241.2 950.0L1244.2 950.0L1247.2 950.0L1250.2 950.0L1253.2 950.0L1256.2 950.0L1259.2 950.0L1262.2 950.0L1265.2 950.0L1268.2 950.0L1271.2 950.0L1274.2 950.0L1277.2 950.0L1280.2 950.0L1283.2 950.0L1286.2 950.0L1289.2 950.0L1292.2 950.0L1295.2 950.0L1298.2 950.0L1301.2 950.0L1304.2 950.0L1307.2 950.0L1310.2 950.0L1313.2 950.0L1316.2 950.0L1319.2 950.0L1322.2 950.0L1325.2 950.0L1328.2 950.0L1331.2 950.0L1334.2 950.0L1337.2 950.0L1340.2 950.0L1343.2 950.0L1346.2 950.0L1349.2 950.0L1352.2 950.0L1355.2 950.0L1358.2 950.0L1361.2 950.0L1364.2 950.0L1367.2 950.0L1370.2 950.0L1373.2 950.0L1376.2 950.0L1379.2 950.0L1382.2 950.0L1385.2 950.0L1388.2 950.0L1391.2 950.0L1394.2 950.0L1397.2 950.0L1400.2 950.0L1403.2 950.0L1406.2 950.0L1409.2 950.0L1412.2 950.0L1415.2 950.0L1418.2 950.0L1421.2 950.0L1424.2 950.0L1427.2 950.0L1430.2 950.0L1433.2 950.0L1436.2 950.0L1439.2 950.0L1442.2 950.0L1445.2 950.0L1448.2 950.0L1451.2 950.0L1454.2 950.0L1457.2 950.0L1460.2 950.0L1463.2 950.0L1466.2 950.0L1469.2 950.0L1472.2 950.0L1475.2 950.0L1478.2 950.0L1481.2 950.0L1484.2 950.0L1487.2 950.0L1490.2 950.0L1493.2 950.0L1496.2 950.0L1499.2 950.0L1502.2 950.0L1505.2 950.0L1508.2 950.0L1511.2 950.0L1514.2 950.0L1517.2 950.0L1520.2 950.0L1523.2 950.0L1526.2 950.0L1529.2 950.0L1532.2 950.0L1535.2 950.0L1538.2 950.0L1541.2 950.0L1544.2 950.0L1547.2 950.0L1550.2 950.0L1553.2 950.0L1556.2 950.0L1559.2 950.0L1560.6 950.0" fill="none" stroke="#ff0000" stroke-width="10" stroke-dasharray="26 5.5 13 5.5" stroke-linejoin="round"/>
<path d="M240.6 625.0L241.1 628.0L241.6 630.9L242.1 633.9L242.6 636.8L243.2 639.8L243.7 642.7L244.2 645.7L244.8 648.6L245.3 651.6L245.9 654.5L246.4 657.5L247.0 660.4L247.6 663.4L248.2 666.3L248.8 669.2L249.3 672.2L249.9 675.1L250.5 678.0L251.2 681.0L251.8 683.9L252.4 686.8L253.0 689.8L253.7 692.7L254.3 695.6L254.9 698.6L255.6 701.5L256.3 704.4L256.9 707.3L257.6 710.2L258.3 713.2L259.0 716.1L259.7 719.0L260.4 721.9L261.1 724.8L261.8 727.7L262.5 730.6L263.3 733.5L264.0 736.4L264.8 739.3L265.5 742.2L266.3 745.1L267.0 748.0L267.8 750.9L268.6 753.8L269.4 756.7L270.2 759.6L271.0 762.4L271.9 765.3L272.7 768.2L273.5 771.1L274.4 773.9L275.3 776.8L276.1 779.7L277.0 782.5L277.9 785.4L278.8 788.2L279.7 791.1L280.7 793.9L281.6 796.8L282.6 799.6L283.5 802.4L284.5 805.3L285.5 808.1L286.5 810.9L287.5 813.7L288.5 816.5L289.6 819.3L290.6 822.1L291.7 824.9L292.8 827.7L293.9 830.5L295.0 833.2L296.2 836.0L297.3 838.7L298.5 841.5L299.7 844.2L300.9 847.0L302.1 849.7L303.4 852.4L304.7 855.1L305.9 857.8L307.3 860.4L308.6 863.1L310.0 865.8L311.4 868.4L312.8 871.0L314.2 873.6L315.7 876.2L317.2 878.8L318.7 881.4L320.3 883.9L321.9 886.4L323.5 888.9L325.1 891.4L326.8 893.9L328.6 896.3L330.3 898.7L332.1 901.1L334.0 903.4L335.8 905.7L337.7 908.0L339.7 910.2L341.7 912.4L343.8 914.6L345.8 916.7L348.0 918.8L350.2 920.8L352.4 922.8L354.6 924.7L357.0 926.6L359.3 928.4L361.7 930.2L364.2 931.8L366.7 933.5L369.2 935.1L371.8 936.6L374.4 938.0L377.0 939.4L379.7 940.7L382.4 941.9L385.2 943.1L388.0 944.2L390.8 945.2L393.6 946.2L396.5 947.1L399.3 947.9L402.2 948.7L405.1 949.4L408.1 950.0L411.0 950.6L413.9 951.2L416.9 951.7L419.9 952.2L422.8 952.6L425.8 952.9L428.8 953.3L431.8 953.6L434.7 953.8L437.7 954.0L440.7 954.2L443.7 954.4L446.7 954.5L449.7 954.6L452.7 954.7L455.7 954.8L458.7 954.8L461.7 954.9L464.7 954.9L467.7 954.9L470.7 954.9L473.7 954.8L476.7 954.8L479.7 954.8L482.7 954.7L485.7 954.6L488.7 954.6L491.7 954.5L494.7 954.4L497.7 954.3L500.7 954.2L503.7 954.1L506.7 954.0L509.7 953.9L512.7 953.8L515.7 953.7L518.7 953.6L521.7 953.5L524.7 953.4L527.7 953.3L530.7 953.2L533.7 953.1L536.7 953.0L539.7 952.9L542.7 952.8L545.7 952.7L548.7 952.6L551.7 952.5L554.7 952.4L557.7 952.3L560.7 952.2L563.7 952.1L566.7 952.0L569.7 951.9L572.7 951.8L575.7 951.7L578.7 951.7L581.7 951.6L584.7 951.5L587.7 951.4L590.7 951.4L593.7 951.3L596.7 951.2L599.7 951.2L602.7 951.1L605.7 951.1L608.7 951.0L611.7 951.0L614.7 950.9L617.7 950.9L620.7 950.8L623.7 950.8L626.7 950.7L629.7 950.7L632.7 950.6L635.7 950.6L638.7 950.6L641.7 950.5L644.7 950.5L647.7 950.5L650.7 950.4L653.7 950.4L656.7 950.4L659.7 950.3L662.7 950.3L665.7 950.3L668.7 950.3L671.7 950.3L674.7 950.2L677.7 950.2L680.7 950.2L683.7 950.2L686.7 950.2L689.7 950.2L692.7 950.1L695.7 950.1L698.7 950.1L701.7 950.1L704.7 950.1L707.7 950.1L710.7 950.1L713.7 950.1L716.7 950.1L719.7 950.1L722.7 950.0L725.7 950.0L728.7 950.0L731.7 950.0L734.7 950.0L737.7 950.0L740.7 950.0L743.7 950.0L746.7 950.0L749.7 950.0L752.7 950.0L755.7 950.0L758.7 950.0L761.7 950.0L764.7 950.0L767.7 950.0L770.7 950.0L773.7 950.0L776.7 950.0L779.7 950.0L782.7 950.0L785.7 950.0L788.7 950.0L791.7 950.0L794.7 950.0L797.7 950.0L800.7 950.0L803.7 950.0L806.7 950.0L809.7 950.0L812.7 950.0L815.7 950.0L818.7 950.0L821.7 950.0L824.7 950.0L827.7 950.0L830.7 950.0L833.7 950.0L836.7 950.0L839.7 950.0L842.7 950.0L845.7 950.0L848.7 950.0L851.7 950.0L854.7 950.0L857.7 950.0L860.7 950.0L863.7 950.0L866.7 950.0L869.7 950.0L872.7 950.0L875.7 950.0L878.7 950.0L881.7 950.0L884.7 950.0L887.7 950.0L890.7 950.0L893.7 950.0L896.7 950.0L899.7 950.0L902.7 950.0L905.7 950.0L908.7 950.0L911.7 950.0L914.7 950.0L917.7 950.0L920.7 950.0L923.7 950.0L926.7 950.0L929.7 950.0L932.7 950.0L935.7 950.0L938.7 950.0L941.7 950.0L944.7 950.0L947.7 950.0L950.7 950.0L953.7 950.0L956.7 950.0L959.7 950.0L962.7 950.0L965.7 950.0L968.7 950.0L971.7 950.0L974.7 950.0L977.7 950.0L980.7 950.0L983.7 950.0L986.7 950.0L989.7 950.0L992.7 950.0L995.7 950.0L998.7 950.0L1001.7 950.0L1004.7 950.0L1007.7 950.0L1010.7 950.0L1013.7 950.0L1016.7 950.0L1019.7 950.0L1022.7 950.0L1025.7 950.0L1028.7 950.0L1031.7 950.0L1034.7 950.0L1037.7 950.0L1040.7 950.0L1043.7 950.0L1046.7 950.0L1049.7 950.0L1052.7 950.0L1055.7 950.0L1058.7 950.0L1061.7 950.0L1064.7 950.0L1067.7 950.0L1070.7 950.0L1073.7 950.0L1076.7 950.0L1079.7 950.0L1082.7 950.0L1085.7 950.0L1088.7 950.0L1091.7 950.0L1094.7 950.0L1097.7 950.0L1100.7 950.0L1103.7 950.0L1106.7 950.0L1109.7 950.0L1112.7 950.0L1115.7 950.0L1118.7 950.0L1121.7 950.0L1124.7 950.0L1127.7 950.0L1130.7 950.0L1133.7 950.0L1136.7 950.0L1139.7 950.0L1142.7 950.0L1145.7 950.0L1148.7 950.0L1151.7 950.0L1154.7 950.0L1157.7 950.0L1160.7 950.0L1163.7 950.0L1166.7 950.0L1169.7 950.0L1172.7 950.0L1175.7 950.0L1178.7 950.0L1181.7 950.0L1184.7 950.0L1187.7 950.0L1190.7 950.0L1193.7 950.0L1196.7 950.0L1199.7 950.0L1202.7 950.0L1205.7 950.0L1208.7 950.0L1211.7 950.0L1214.7 950.0L1217.7 950.0L1220.7 950.0L1223.7 950.0L1226.7 950.0L1229.7 950.0L1232.7 950.0L1235.7 950.0L1238.7 950.0L1241.7 950.0L1244.7 950.0L1247.7 950.0L1250.7 950.0L1253.7 950.0L1256.7 950.0L1259.7 950.0L1262.7 950.0L1265.7 950.0L1268.7 950.0L1271.7 950.0L1274.7 950.0L1277.7 950.0L1280.7 950.0L1283.7 950.0L1286.7 950.0L1289.7 950.0L1292.7 950.0L1295.7 950.0L1298.7 950.0L1301.7 950.0L1304.7 950.0L1307.7 950.0L1310.7 950.0L1313.7 950.0L1316.7 950.0L1319.7 950.0L1322.7 950.0L1325.7 950.0L1328.7 950.0L1331.7 950.0L1334.7 950.0L1337.7 950.0L1340.7 950.0L1343.7 950.0L1346.7 950.0L1349.7 950.0L1352.7 950.0L1355.7 950.0L1358.7 950.0L1361.7 950.0L1364.7 950.0L1367.7 950.0L1370.7 950.0L1373.7 950.0L1376.7 950.0L1379.7 950.0L1382.7 950.0L1385.7 950.0L1388.7 950.0L1391.7 950.0L1394.7 950.0L1397.7 950.0L1400.7 950.0L1403.7 950.0L1406.7 950.0L1409.7 950.0L1412.7 950.0L1415.7 950.0L1418.7 950.0L1421.7 950.0L1424.7 950.0L1427.7 950.0L1430.7 950.0L1433.7 950.0L1436.7 950.0L1439.7 950.0L1442.7 950.0L1445.7 950.0L1448.7 950.0L1451.7 950.0L1454.7 950.0L1457.7 950.0L1460.7 950.0L1463.7 950.0L1466.7 950.0L1469.7 950.0L1472.7 950.0L1475.7 950.0L1478.7 950.0L1481.7 950.0L1484.7 950.0L1487.7 950.0L1490.7 950.0L1493.7 950.0L1496.7 950.0L1499.7 950.0L1502.7 950.0L1505.7 950.0L1508.7 950.0L1511.7 950.0L1514.7 950.0L1517.7 950.0L1520.7 950.0L1523.7 950.0L1526.7 950.0L1529.7 950.0L1532.7 950.0L1535.7 950.0L1538.7 950.0L1541.7 950.0L1544.7 950.0L1547.7 950.0L1550.7 950.0L1553.7 950.0L1556.7 950.0L1559.7 950.0L1560.6 950.0" fill="none" stroke="#ff0000" stroke-width="10" stroke-dasharray="26 5.5 13 5.5" stroke-linejoin="round"/>
<path d="M240.6 681.0L241.2 683.9L241.8 686.9L242.4 689.8L243.0 692.7L243.6 695.7L244.3 698.6L244.9 701.5L245.5 704.5L246.1 707.4L246.8 710.3L247.4 713.3L248.1 716.2L248.8 719.1L249.4 722.0L250.1 724.9L250.8 727.9L251.4 730.8L252.1 733.7L252.8 736.6L253.5 739.5L254.2 742.4L255.0 745.3L255.7 748.3L256.4 751.2L257.2 754.1L257.9 757.0L258.7 759.9L259.4 762.8L260.2 765.6L261.0 768.5L261.8 771.4L262.6 774.3L263.4 777.2L264.2 780.1L265.0 783.0L265.8 785.8L266.7 788.7L267.5 791.6L268.4 794.4L269.3 797.3L270.1 800.1L271.0 803.0L272.0 805.9L272.9 808.7L273.8 811.5L274.8 814.4L275.7 817.2L276.7 820.0L277.7 822.9L278.7 825.7L279.7 828.5L280.7 831.3L281.8 834.1L282.8 836.9L283.9 839.7L285.0 842.4L286.1 845.2L287.3 848.0L288.4 850.7L289.6 853.5L290.8 856.2L292.0 858.9L293.2 861.7L294.5 864.4L295.8 867.1L297.1 869.7L298.4 872.4L299.8 875.1L301.1 877.7L302.6 880.3L304.0 882.9L305.5 885.5L307.0 888.1L308.5 890.7L310.1 893.2L311.7 895.7L313.3 898.2L315.0 900.6L316.7 903.1L318.4 905.5L320.2 907.9L322.0 910.2L323.9 912.5L325.8 914.8L327.8 917.0L329.8 919.2L331.9 921.4L334.0 923.5L336.1 925.5L338.3 927.5L340.6 929.5L342.9 931.4L345.2 933.2L347.6 935.0L350.0 936.7L352.5 938.3L355.1 939.9L357.6 941.4L360.2 942.8L362.9 944.2L365.6 945.4L368.3 946.7L371.1 947.8L373.9 948.8L376.7 949.8L379.6 950.7L382.4 951.6L385.3 952.4L388.2 953.1L391.1 953.7L394.1 954.3L397.0 954.8L400.0 955.3L403.0 955.8L405.9 956.1L408.9 956.5L411.9 956.7L414.9 957.0L417.9 957.2L420.9 957.4L423.9 957.5L426.9 957.6L429.9 957.7L432.9 957.8L435.9 957.8L438.9 957.8L441.9 957.8L444.9 957.8L447.9 957.7L450.9 957.7L453.9 957.6L456.9 957.5L459.9 957.4L462.9 957.3L465.9 957.2L468.8 957.1L471.8 957.0L474.8 956.8L477.8 956.7L480.8 956.5L483.8 956.4L486.8 956.2L489.8 956.1L492.8 955.9L495.8 955.8L498.8 955.6L501.8 955.5L504.8 955.3L507.8 955.2L510.8 955.0L513.8 954.9L516.8 954.7L519.8 954.6L522.8 954.4L525.8 954.3L528.8 954.1L531.8 954.0L534.8 953.9L537.8 953.7L540.8 953.6L543.8 953.5L546.8 953.4L549.8 953.2L552.8 953.1L555.8 953.0L558.7 952.9L561.7 952.8L564.7 952.7L567.7 952.6L570.7 952.5L573.7 952.4L576.7 952.3L579.7 952.2L582.7 952.1L585.7 952.0L588.7 951.9L591.7 951.9L594.7 951.8L597.7 951.7L600.7 951.6L603.7 951.6L606.7 951.5L609.7 951.4L612.7 951.4L615.7 951.3L618.7 951.3L621.7 951.2L624.7 951.2L627.7 951.1L630.7 951.1L633.7 951.0L636.7 951.0L639.7 950.9L642.7 950.9L645.7 950.9L648.7 950.8L651.7 950.8L654.7 950.8L657.7 950.7L660.7 950.7L663.7 950.7L666.7 950.7L669.7 950.6L672.7 950.6L675.7 950.6L678.7 950.6L681.7 950.5L684.7 950.5L687.7 950.5L690.7 950.5L693.7 950.5L696.7 950.4L699.7 950.4L702.7 950.4L705.7 950.4L708.7 950.4L711.7 950.4L714.7 950.4L717.7 950.4L720.7 950.3L723.7 950.3L726.7 950.3L729.7 950.3L732.7 950.3L735.7 950.3L738.7 950.3L741.7 950.3L744.7 950.3L747.7 950.3L750.7 950.3L753.7 950.3L756.7 950.2L759.7 950.2L762.7 950.2L765.7 950.2L768.7 950.2L771.7 950.2L774.7 950.2L777.7 950.2L780.7 950.2L783.7 950.2L786.7 950.2L789.7 950.2L792.7 950.2L795.7 950.2L798.7 950.2L801.7 950.2L804.7 950.2L807.7 950.2L810.7 950.2L813.7 950.2L816.7 950.2L819.7 950.2L822.7 950.2L825.7 950.2L828.7 950.2L831.7 950.2L834.7 950.2L837.7 950.2L840.7 950.2L843.7 950.2L846.7 950.2L849.7 950.2L852.7 950.2L855.7 950.2L858.7 950.1L861.7 950.1L864.7 950.1L867.7 950.1L870.7 950.1L873.7 950.1L876.7 950.1L879.7 950.1L882.7 950.1L885.7 950.1L888.7 950.1L891.7 950.1L894.7 950.1L897.7 950.1L900.7 950.1L903.7 950.1L906.7 950.1L909.7 950.1L912.7 950.1L915.7 950.1L918.7 950.1L921.7 950.1L924.7 950.1L927.7 950.1L930.7 950.1L933.7 950.1L936.7 950.1L939.7 950.1L942.7 950.1L945.7 950.1L948.7 950.1L951.7 950.1L954.7 950.1L957.7 950.1L960.7 950.1L963.7 950.1L966.7 950.1L969.7 950.1L972.7 950.1L975.7 950.1L978.7 950.1L981.7 950.1L984.7 950.1L987.7 950.1L990.7 950.1L993.7 950.1L996.7 950.1L999.7 950.1L1002.7 950.1L1005.7 950.1L1008.7 950.1L1011.7 950.1L1014.7 950.1L1017.7 950.1L1020.7 950.1L1023.7 950.1L1026.7 950.1L1029.7 950.1L1032.7 950.1L1035.7 950.1L1038.7 950.1L1041.7 950.1L1044.7 950.1L1047.7 950.1L1050.7 950.1L1053.7 950.1L1056.7 950.0L1059.7 950.0L1062.7 950.0L1065.7 950.0L1068.7 950.0L1071.7 950.0L1074.7 950.0L1077.7 950.0L1080.7 950.0L1083.7 950.0L1086.7 950.0L1089.7 950.0L1092.7 950.0L1095.7 950.0L1098.7 950.0L1101.7 950.0L1104.7 950.0L1107.7 950.0L1110.7 950.0L1113.7 950.0L1116.7 950.0L1119.7 950.0L1122.7 950.0L1125.7 950.0L1128.7 950.0L1131.7 950.0L1134.7 950.0L1137.7 950.0L1140.7 950.0L1143.7 950.0L1146.7 950.0L1149.7 950.0L1152.7 950.0L1155.7 950.0L1158.7 950.0L1161.7 950.0L1164.7 950.0L1167.7 950.0L1170.7 950.0L1173.7 950.0L1176.7 950.0L1179.7 950.0L1182.7 950.0L1185.7 950.0L1188.7 950.0L1191.7 950.0L1194.7 950.0L1197.7 950.0L1200.7 950.0L1203.7 950.0L1206.7 950.0L1209.7 950.0L1212.7 950.0L1215.7 950.0L1218.7 950.0L1221.7 950.0L1224.7 950.0L1227.7 950.0L1230.7 950.0L1233.7 950.0L1236.7 950.0L1239.7 950.0L1242.7 950.0L1245.7 950.0L1248.7 950.0L1251.7 950.0L1254.7 950.0L1257.7 950.0L1260.7 950.0L1263.7 950.0L1266.7 950.0L1269.7 950.0L1272.7 950.0L1275.7 950.0L1278.7 950.0L1281.7 950.0L1284.7 950.0L1287.7 950.0L1290.7 950.0L1293.7 950.0L1296.7 950.0L1299.7 950.0L1302.7 950.0L1305.7 950.0L1308.7 950.0L1311.7 950.0L1314.7 950.0L1317.7 950.0L1320.7 950.0L1323.7 950.0L1326.7 950.0L1329.7 950.0L1332.7 950.0L1335.7 950.0L1338.7 950.0L1341.7 950.0L1344.7 950.0L1347.7 950.0L1350.7 950.0L1353.7 950.0L1356.7 950.0L1359.7 950.0L1362.7 950.0L1365.7 950.0L1368.7 950.0L1371.7 950.0L1374.7 950.0L1377.7 950.0L1380.7 950.0L1383.7 950.0L1386.7 950.0L1389.7 950.0L1392.7 950.0L1395.7 950.0L1398.7 950.0L1401.7 950.0L1404.7 950.0L1407.7 950.0L1410.7 950.0L1413.7 950.0L1416.7 950.0L1419.7 950.0L1422.7 950.0L1425.7 950.0L1428.7 950.0L1431.7 950.0L1434.7 950.0L1437.7 950.0L1440.7 950.0L1443.7 950.0L1446.7 950.0L1449.7 950.0L1452.7 950.0L1455.7 950.0L1458.7 950.0L1461.7 950.0L1464.7 950.0L1467.7 950.0L1470.7 950.0L1473.7 950.0L1476.7 950.0L1479.7 950.0L1482.7 950.0L1485.7 950.0L1488.7 950.0L1491.7 950.0L1494.7 950.0L1497.7 950.0L1500.7 950.0L1503.7 950.0L1506.7 950.0L1509.7 950.0L1512.7 950.0L1515.7 950.0L1518.7 950.0L1521.7 950.0L1524.7 950.0L1527.7 950.0L1530.7 950.0L1533.7 950.0L1536.7 950.0L1539.7 950.0L1542.7 950.0L1545.7 950.0L1548.7 950.0L1551.7 950.0L1554.7 950.0L1557.7 950.0L1560.6 950.0" fill="none" stroke="#ff0000" stroke-width="10" stroke-dasharray="26 5.5 13 5.5" stroke-linejoin="round"/>
<text x="221.80" y="968.20" font-size="54" text-anchor="end" fill="#262626" letter-spacing="-1.5">0</text>
<text x="221.80" y="860.70" font-size="54" text-anchor="end" fill="#262626" letter-spacing="-1.5">0.02</text>
<text x="221.80" y="753.20" font-size="54" text-anchor="end" fill="#262626" letter-spacing="-1.5">0.04</text>
<text x="221.80" y="645.70" font-size="54" text-anchor="end" fill="#262626" letter-spacing="-1.5">0.06</text>
<text x="221.80" y="538.20" font-size="54" text-anchor="end" fill="#262626" letter-spacing="-1.5">0.08</text>
<text x="221.80" y="430.70" font-size="54" text-anchor="end" fill="#262626" letter-spacing="-1.5">0.1</text>
<text x="221.80" y="323.20" font-size="54" text-anchor="end" fill="#262626" letter-spacing="-1.5">0.12</text>
<text x="221.80" y="215.70" font-size="54" text-anchor="end" fill="#262626" letter-spacing="-1.5">0.14</text>
<text x="221.80" y="108.20" font-size="54" text-anchor="end" fill="#262626" letter-spacing="-1.5">0.16</text>
<text x="239.85" y="1047.00" font-size="54" text-anchor="middle" fill="#262626" letter-spacing="-1.5">0</text>
<text x="459.85" y="1047.00" font-size="54" text-anchor="middle" fill="#262626" letter-spacing="-1.5">1</text>
<text x="679.85" y="1047.00" font-size="54" text-anchor="middle" fill="#262626" letter-spacing="-1.5">2</text>
<text x="899.85" y="1047.00" font-size="54" text-anchor="middle" fill="#262626" letter-spacing="-1.5">3</text>
<text x="1119.85" y="1047.00" font-size="54" text-anchor="middle" fill="#262626" letter-spacing="-1.5">4</text>
<text x="1339.85" y="1047.00" font-size="54" text-anchor="middle" fill="#262626" letter-spacing="-1.5">5</text>
<text x="1559.85" y="1047.00" font-size="54" text-anchor="middle" fill="#262626" letter-spacing="-1.5">6</text>
<text fill="#262626" xml:space="preserve"><tspan x="886.60" y="1116.20" font-size="56" font-style="italic" textLength="34.42" lengthAdjust="spacingAndGlyphs">η</tspan></text>
<text fill="#262626" xml:space="preserve" transform="rotate(-90)"><tspan x="-578.40" y="87.00" font-size="56">H</tspan><tspan x="-536.00" y="112.00" font-size="45" letter-spacing="-1">1p</tspan><tspan x="-487.60" y="85.00" font-size="52">(</tspan><tspan x="-469.40" y="87.00" font-size="56" font-style="italic">η</tspan><tspan x="-438.40" y="85.00" font-size="52">)</tspan></text>
<line x1="1119.0" y1="169.7" x2="1338.0" y2="169.7" stroke="#00ff00" stroke-width="10"/>
<line x1="1119.0" y1="248.8" x2="1338.0" y2="248.8" stroke="#ff0000" stroke-width="10" stroke-dasharray="26 5.5 13 5.5" stroke-dashoffset="8"/>
<text fill="#000" xml:space="preserve"><tspan x="1353.40" y="178.40" font-size="52" textLength="38.81" lengthAdjust="spacingAndGlyphs">Φ</tspan><tspan x="1394.20" y="202.80" font-size="42">d </tspan><tspan x="1431.60" y="181.40" font-size="54">= </tspan><tspan x="1471.60" y="177.40" font-size="54" letter-spacing="-1.5">0.1</tspan></text>
<text fill="#000" xml:space="preserve"><tspan x="1353.40" y="256.60" font-size="52" textLength="38.81" lengthAdjust="spacingAndGlyphs">Φ</tspan><tspan x="1394.20" y="281.00" font-size="42">d </tspan><tspan x="1431.60" y="259.60" font-size="54">= </tspan><tspan x="1471.60" y="255.60" font-size="54" letter-spacing="-1.5">0.7</tspan></text>
<text x="1014.60" y="217.00" font-size="53" text-anchor="start" fill="#000" letter-spacing="-1">(a)</text>
<rect x="635.6" y="528.8" width="555.1" height="78" fill="#fff" stroke="#000" stroke-width="5" shape-rendering="crispEdges"/>
<text fill="#000" xml:space="preserve"><tspan x="658.00" y="588.60" font-size="54" textLength="47.25" lengthAdjust="spacingAndGlyphs">R </tspan><tspan x="705.40" y="592.20" font-size="54">= </tspan><tspan x="750.00" y="588.40" font-size="54" letter-spacing="-1.5">1.0, 2.0, 3.0, 4.0, 5.0</tspan></text>
<line x1="541.0" y1="689.5" x2="287.2" y2="945.6" stroke="#000" stroke-width="6"/>
<polygon points="267.5,965.5 286.8,922.6 288.6,944.2 310.2,945.9" fill="#000"/>
</g>
<g id="plot-b">
<g stroke="#262626" stroke-width="9" fill="none" shape-rendering="crispEdges">
<line x1="246.5" y1="1304.2" x2="246.5" y2="2292"/>
<line x1="246.5" y1="1471.25" x2="1565" y2="1471.25"/>
<line x1="246.5" y1="2282.25" x2="264" y2="2282.25"/>
<line x1="246.5" y1="2120.05" x2="264" y2="2120.05"/>
<line x1="246.5" y1="1957.85" x2="264" y2="1957.85"/>
<line x1="246.5" y1="1795.65" x2="264" y2="1795.65"/>
<line x1="246.5" y1="1633.45" x2="264" y2="1633.45"/>
<line x1="246.5" y1="1471.25" x2="264" y2="1471.25"/>
<line x1="246.5" y1="1309.05" x2="264" y2="1309.05"/>
<line x1="465.50" y1="1471.25" x2="465.50" y2="1488.75"/>
<line x1="684.50" y1="1471.25" x2="684.50" y2="1488.75"/>
<line x1="903.50" y1="1471.25" x2="903.50" y2="1488.75"/>
<line x1="1122.50" y1="1471.25" x2="1122.50" y2="1488.75"/>
<line x1="1341.50" y1="1471.25" x2="1341.50" y2="1488.75"/>
<line x1="1560.50" y1="1471.25" x2="1560.50" y2="1488.75"/>
</g>
<path d="M246.5 2287.0L247.2 2284.1L247.9 2281.2L248.5 2278.2L249.2 2275.3L249.9 2272.4L250.6 2269.5L251.2 2266.5L251.9 2263.6L252.6 2260.7L253.2 2257.8L253.9 2254.8L254.6 2251.9L255.2 2249.0L255.9 2246.1L256.6 2243.1L257.2 2240.2L257.9 2237.3L258.6 2234.4L259.2 2231.4L259.9 2228.5L260.5 2225.6L261.2 2222.6L261.9 2219.7L262.5 2216.8L263.2 2213.9L263.8 2210.9L264.5 2208.0L265.2 2205.1L265.8 2202.2L266.5 2199.2L267.1 2196.3L267.8 2193.4L268.4 2190.5L269.1 2187.5L269.8 2184.6L270.4 2181.7L271.1 2178.7L271.7 2175.8L272.4 2172.9L273.1 2170.0L273.7 2167.0L274.4 2164.1L275.1 2161.2L275.7 2158.3L276.4 2155.3L277.0 2152.4L277.7 2149.5L278.4 2146.6L279.0 2143.6L279.7 2140.7L280.4 2137.8L281.0 2134.9L281.7 2131.9L282.4 2129.0L283.0 2126.1L283.7 2123.2L284.4 2120.2L285.1 2117.3L285.7 2114.4L286.4 2111.5L287.1 2108.6L287.8 2105.6L288.4 2102.7L289.1 2099.8L289.8 2096.9L290.5 2093.9L291.2 2091.0L291.8 2088.1L292.5 2085.2L293.2 2082.3L293.9 2079.3L294.6 2076.4L295.3 2073.5L296.0 2070.6L296.7 2067.7L297.3 2064.8L298.0 2061.8L298.7 2058.9L299.4 2056.0L300.1 2053.1L300.8 2050.2L301.5 2047.3L302.2 2044.3L303.0 2041.4L303.7 2038.5L304.4 2035.6L305.1 2032.7L305.8 2029.8L306.5 2026.9L307.2 2023.9L307.9 2021.0L308.7 2018.1L309.4 2015.2L310.1 2012.3L310.8 2009.4L311.6 2006.5L312.3 2003.6L313.0 2000.7L313.8 1997.8L314.5 1994.9L315.2 1992.0L316.0 1989.0L316.7 1986.1L317.5 1983.2L318.2 1980.3L319.0 1977.4L319.7 1974.5L320.5 1971.6L321.2 1968.7L322.0 1965.8L322.8 1962.9L323.5 1960.0L324.3 1957.1L325.1 1954.2L325.9 1951.3L326.6 1948.4L327.4 1945.5L328.2 1942.7L329.0 1939.8L329.8 1936.9L330.6 1934.0L331.4 1931.1L332.1 1928.2L332.9 1925.3L333.8 1922.4L334.6 1919.5L335.4 1916.6L336.2 1913.8L337.0 1910.9L337.8 1908.0L338.6 1905.1L339.5 1902.2L340.3 1899.3L341.1 1896.5L342.0 1893.6L342.8 1890.7L343.6 1887.8L344.5 1885.0L345.3 1882.1L346.2 1879.2L347.1 1876.3L347.9 1873.5L348.8 1870.6L349.7 1867.7L350.5 1864.9L351.4 1862.0L352.3 1859.1L353.2 1856.3L354.1 1853.4L355.0 1850.6L355.9 1847.7L356.8 1844.8L357.7 1842.0L358.6 1839.1L359.5 1836.3L360.4 1833.4L361.4 1830.6L362.3 1827.7L363.2 1824.9L364.2 1822.0L365.1 1819.2L366.1 1816.4L367.0 1813.5L368.0 1810.7L369.0 1807.8L369.9 1805.0L370.9 1802.2L371.9 1799.3L372.9 1796.5L373.9 1793.7L374.9 1790.9L375.9 1788.0L376.9 1785.2L377.9 1782.4L378.9 1779.6L380.0 1776.8L381.0 1774.0L382.1 1771.2L383.1 1768.4L384.2 1765.6L385.2 1762.8L386.3 1760.0L387.4 1757.2L388.5 1754.4L389.6 1751.6L390.7 1748.8L391.8 1746.0L392.9 1743.2L394.0 1740.5L395.1 1737.7L396.3 1734.9L397.4 1732.2L398.6 1729.4L399.7 1726.6L400.9 1723.9L402.1 1721.1L403.2 1718.4L404.4 1715.6L405.6 1712.9L406.9 1710.1L408.1 1707.4L409.3 1704.7L410.5 1702.0L411.8 1699.2L413.0 1696.5L414.3 1693.8L415.6 1691.1L416.9 1688.4L418.2 1685.7L419.5 1683.0L420.8 1680.3L422.1 1677.6L423.5 1675.0L424.8 1672.3L426.2 1669.6L427.6 1667.0L428.9 1664.3L430.3 1661.7L431.7 1659.0L433.2 1656.4L434.6 1653.8L436.0 1651.2L437.5 1648.6L439.0 1645.9L440.5 1643.4L442.0 1640.8L443.5 1638.2L445.0 1635.6L446.5 1633.0L448.1 1630.5L449.6 1627.9L451.2 1625.4L452.8 1622.9L454.4 1620.4L456.1 1617.8L457.7 1615.3L459.4 1612.9L461.0 1610.4L462.7 1607.9L464.4 1605.5L466.1 1603.0L467.9 1600.6L469.6 1598.2L471.4 1595.7L473.2 1593.4L475.0 1591.0L476.8 1588.6L478.7 1586.3L480.5 1583.9L482.4 1581.6L484.3 1579.3L486.2 1577.0L488.2 1574.7L490.1 1572.4L492.1 1570.2L494.1 1568.0L496.1 1565.8L498.1 1563.6L500.2 1561.4L502.3 1559.3L504.4 1557.1L506.5 1555.0L508.6 1552.9L510.8 1550.9L512.9 1548.8L515.1 1546.8L517.4 1544.8L519.6 1542.8L521.9 1540.8L524.1 1538.9L526.4 1537.0L528.8 1535.1L531.1 1533.2L533.5 1531.4L535.8 1529.6L538.2 1527.8L540.7 1526.1L543.1 1524.3L545.6 1522.6L548.0 1521.0L550.5 1519.3L553.1 1517.7L555.6 1516.1L558.2 1514.6L560.7 1513.0L563.3 1511.5L565.9 1510.1L568.5 1508.6L571.2 1507.2L573.8 1505.8L576.5 1504.5L579.2 1503.2L581.9 1501.9L584.6 1500.6L587.3 1499.4L590.1 1498.2L592.8 1497.0L595.6 1495.9L598.4 1494.8L601.2 1493.7L604.0 1492.6L606.8 1491.6L609.6 1490.6L612.5 1489.6L615.3 1488.7L618.2 1487.8L621.0 1486.9L623.9 1486.0L626.8 1485.2L629.7 1484.4L632.5 1483.6L635.4 1482.8L638.4 1482.1L641.3 1481.4L644.2 1480.7L647.1 1480.1L650.0 1479.4L653.0 1478.8L655.9 1478.2L658.9 1477.6L661.8 1477.1L664.8 1476.5L667.7 1476.0L670.7 1475.5L673.6 1475.1L676.6 1474.6L679.6 1474.2L682.5 1473.7L685.5 1473.3L688.5 1473.0L691.4 1472.6L694.4 1472.2L697.4 1471.9L700.4 1471.6L703.4 1471.2L706.4 1471.0L709.3 1470.7L712.3 1470.4L715.3 1470.1L718.3 1469.9L721.3 1469.7L724.3 1469.4L727.3 1469.2L730.3 1469.0L733.3 1468.8L736.3 1468.6L739.3 1468.5L742.2 1468.3L745.2 1468.2L748.2 1468.0L751.2 1467.9L754.2 1467.8L757.2 1467.6L760.2 1467.5L763.2 1467.4L766.2 1467.3L769.2 1467.2L772.2 1467.2L775.2 1467.1L778.2 1467.0L781.2 1467.0L784.2 1466.9L787.2 1466.8L790.2 1466.8L793.2 1466.7L796.2 1466.7L799.2 1466.7L802.2 1466.7L805.2 1466.6L808.2 1466.6L811.2 1466.6L814.2 1466.6L817.2 1466.6L820.2 1466.6L823.2 1466.6L826.2 1466.6L829.2 1466.6L832.2 1466.6L835.2 1466.6L838.2 1466.6L841.2 1466.6L844.2 1466.6L847.2 1466.6L850.2 1466.7L853.2 1466.7L856.2 1466.7L859.2 1466.7L862.2 1466.8L865.2 1466.8L868.2 1466.8L871.2 1466.9L874.2 1466.9L877.2 1466.9L880.2 1467.0L883.2 1467.0L886.2 1467.0L889.2 1467.1L892.2 1467.1L895.2 1467.2L898.2 1467.2L901.2 1467.3L904.2 1467.3L907.2 1467.3L910.2 1467.4L913.2 1467.4L916.2 1467.5L919.2 1467.5L922.2 1467.6L925.2 1467.6L928.2 1467.7L931.2 1467.7L934.2 1467.8L937.2 1467.8L940.2 1467.9L943.2 1467.9L946.2 1468.0L949.2 1468.0L952.2 1468.0L955.2 1468.1L958.2 1468.1L961.2 1468.2L964.2 1468.3L967.2 1468.3L970.2 1468.4L973.2 1468.4L976.2 1468.5L979.2 1468.5L982.2 1468.6L985.2 1468.7L988.2 1468.7L991.2 1468.8L994.2 1468.8L997.2 1468.9L1000.2 1469.0L1003.2 1469.0L1006.2 1469.1L1009.2 1469.1L1012.2 1469.2L1015.2 1469.3L1018.2 1469.3L1021.2 1469.4L1024.2 1469.4L1027.2 1469.5L1030.2 1469.6L1033.2 1469.6L1036.2 1469.7L1039.2 1469.7L1042.2 1469.8L1045.2 1469.8L1048.2 1469.9L1051.2 1469.9L1054.2 1470.0L1057.2 1470.0L1060.2 1470.1L1063.2 1470.1L1066.2 1470.2L1069.2 1470.2L1072.2 1470.3L1075.2 1470.3L1078.2 1470.3L1081.2 1470.4L1084.2 1470.4L1087.2 1470.5L1090.2 1470.5L1093.2 1470.5L1096.2 1470.6L1099.2 1470.6L1102.2 1470.6L1105.2 1470.7L1108.2 1470.7L1111.2 1470.7L1114.2 1470.8L1117.2 1470.8L1120.2 1470.8L1123.2 1470.8L1126.2 1470.9L1129.2 1470.9L1132.2 1470.9L1135.2 1470.9L1138.2 1471.0L1141.2 1471.0L1144.2 1471.0L1147.2 1471.0L1150.2 1471.0L1153.2 1471.0L1156.2 1471.1L1159.2 1471.1L1162.2 1471.1L1165.2 1471.1L1168.2 1471.1L1171.2 1471.1L1174.2 1471.1L1177.2 1471.1L1180.2 1471.2L1183.2 1471.2L1186.2 1471.2L1189.2 1471.2L1192.2 1471.2L1195.2 1471.2L1198.2 1471.2L1201.2 1471.2L1204.2 1471.2L1207.2 1471.2L1210.2 1471.2L1213.2 1471.2L1216.2 1471.2L1219.2 1471.2L1222.2 1471.2L1225.2 1471.2L1228.2 1471.2L1231.2 1471.2L1234.2 1471.2L1237.2 1471.2L1240.2 1471.2L1243.2 1471.2L1246.2 1471.2L1249.2 1471.2L1252.2 1471.2L1255.2 1471.2L1258.2 1471.2L1261.2 1471.2L1264.2 1471.2L1267.2 1471.2L1270.2 1471.2L1273.2 1471.2L1276.2 1471.2L1279.2 1471.2L1282.2 1471.2L1285.2 1471.2L1288.2 1471.2L1291.2 1471.2L1294.2 1471.2L1297.2 1471.2L1300.2 1471.2L1303.2 1471.2L1306.2 1471.2L1309.2 1471.2L1312.2 1471.2L1315.2 1471.2L1318.2 1471.2L1321.2 1471.2L1324.2 1471.2L1327.2 1471.2L1330.2 1471.2L1333.2 1471.2L1336.2 1471.2L1339.2 1471.2L1342.2 1471.2L1345.2 1471.2L1348.2 1471.2L1351.2 1471.2L1354.2 1471.2L1357.2 1471.2L1360.2 1471.2L1363.2 1471.2L1366.2 1471.2L1369.2 1471.2L1372.2 1471.2L1375.2 1471.2L1378.2 1471.2L1381.2 1471.2L1384.2 1471.2L1387.2 1471.2L1390.2 1471.2L1393.2 1471.2L1396.2 1471.2L1399.2 1471.2L1402.2 1471.2L1405.2 1471.2L1408.2 1471.2L1411.2 1471.2L1414.2 1471.2L1417.2 1471.2L1420.2 1471.2L1423.2 1471.2L1426.2 1471.2L1429.2 1471.2L1432.2 1471.2L1435.2 1471.2L1438.2 1471.2L1441.2 1471.2L1444.2 1471.2L1447.2 1471.2L1450.2 1471.2L1453.2 1471.2L1456.2 1471.2L1459.2 1471.2L1462.2 1471.2L1465.2 1471.2L1468.2 1471.2L1471.2 1471.2L1474.2 1471.2L1477.2 1471.2L1480.2 1471.2L1483.2 1471.2L1486.2 1471.2L1489.2 1471.2L1492.2 1471.2L1495.2 1471.2L1498.2 1471.2L1501.2 1471.2L1504.2 1471.2L1507.2 1471.2L1510.2 1471.2L1513.2 1471.2L1516.2 1471.2L1519.2 1471.2L1522.2 1471.2L1525.2 1471.2L1528.2 1471.2L1531.2 1471.2L1534.2 1471.2L1537.2 1471.2L1540.2 1471.2L1543.2 1471.2L1546.2 1471.2L1549.2 1471.2L1552.2 1471.2L1555.2 1471.2L1558.2 1471.2L1560.6 1471.2" fill="none" stroke="#00ff00" stroke-width="10" stroke-linejoin="round"/>
<path d="M246.5 2039.0L247.1 2036.1L247.7 2033.1L248.3 2030.2L248.9 2027.2L249.5 2024.3L250.1 2021.4L250.7 2018.4L251.3 2015.5L252.0 2012.6L252.6 2009.6L253.2 2006.7L253.8 2003.7L254.4 2000.8L255.0 1997.9L255.6 1994.9L256.2 1992.0L256.8 1989.0L257.4 1986.1L258.0 1983.2L258.6 1980.2L259.2 1977.3L259.8 1974.4L260.4 1971.4L261.0 1968.5L261.6 1965.5L262.2 1962.6L262.8 1959.7L263.5 1956.7L264.1 1953.8L264.7 1950.9L265.3 1947.9L265.9 1945.0L266.5 1942.0L267.1 1939.1L267.7 1936.2L268.4 1933.2L269.0 1930.3L269.6 1927.4L270.2 1924.4L270.8 1921.5L271.5 1918.6L272.1 1915.6L272.7 1912.7L273.3 1909.8L274.0 1906.8L274.6 1903.9L275.2 1901.0L275.8 1898.0L276.5 1895.1L277.1 1892.2L277.8 1889.2L278.4 1886.3L279.0 1883.4L279.7 1880.5L280.3 1877.5L281.0 1874.6L281.6 1871.7L282.3 1868.7L282.9 1865.8L283.6 1862.9L284.2 1860.0L284.9 1857.0L285.5 1854.1L286.2 1851.2L286.9 1848.3L287.5 1845.3L288.2 1842.4L288.9 1839.5L289.6 1836.6L290.2 1833.6L290.9 1830.7L291.6 1827.8L292.3 1824.9L293.0 1822.0L293.7 1819.1L294.4 1816.1L295.1 1813.2L295.8 1810.3L296.5 1807.4L297.2 1804.5L297.9 1801.6L298.6 1798.7L299.3 1795.7L300.0 1792.8L300.7 1789.9L301.5 1787.0L302.2 1784.1L302.9 1781.2L303.7 1778.3L304.4 1775.4L305.2 1772.5L305.9 1769.6L306.7 1766.7L307.4 1763.8L308.2 1760.9L309.0 1758.0L309.7 1755.1L310.5 1752.2L311.3 1749.3L312.1 1746.4L312.9 1743.5L313.7 1740.6L314.5 1737.7L315.3 1734.9L316.1 1732.0L316.9 1729.1L317.7 1726.2L318.5 1723.3L319.4 1720.5L320.2 1717.6L321.0 1714.7L321.9 1711.8L322.7 1709.0L323.6 1706.1L324.5 1703.2L325.3 1700.4L326.2 1697.5L327.1 1694.6L328.0 1691.8L328.9 1688.9L329.8 1686.1L330.7 1683.2L331.6 1680.4L332.6 1677.5L333.5 1674.7L334.4 1671.8L335.4 1669.0L336.3 1666.1L337.3 1663.3L338.3 1660.5L339.3 1657.7L340.3 1654.8L341.3 1652.0L342.3 1649.2L343.3 1646.4L344.3 1643.6L345.4 1640.8L346.4 1638.0L347.5 1635.2L348.6 1632.4L349.7 1629.6L350.7 1626.8L351.9 1624.0L353.0 1621.3L354.1 1618.5L355.2 1615.7L356.4 1613.0L357.6 1610.2L358.7 1607.5L359.9 1604.7L361.1 1602.0L362.4 1599.3L363.6 1596.5L364.9 1593.8L366.1 1591.1L367.4 1588.4L368.7 1585.7L370.0 1583.0L371.4 1580.4L372.7 1577.7L374.1 1575.0L375.5 1572.4L376.9 1569.8L378.3 1567.1L379.7 1564.5L381.2 1561.9L382.7 1559.3L384.2 1556.8L385.7 1554.2L387.3 1551.6L388.8 1549.1L390.4 1546.6L392.1 1544.1L393.7 1541.6L395.4 1539.1L397.1 1536.7L398.8 1534.2L400.5 1531.8L402.3 1529.4L404.1 1527.0L406.0 1524.7L407.8 1522.4L409.7 1520.1L411.7 1517.8L413.6 1515.5L415.6 1513.3L417.6 1511.1L419.7 1509.0L421.8 1506.8L423.9 1504.7L426.1 1502.7L428.2 1500.7L430.5 1498.7L432.7 1496.7L435.0 1494.8L437.3 1493.0L439.7 1491.1L442.1 1489.4L444.5 1487.6L447.0 1485.9L449.5 1484.3L452.0 1482.7L454.6 1481.2L457.2 1479.7L459.8 1478.2L462.4 1476.8L465.1 1475.5L467.8 1474.2L470.5 1473.0L473.3 1471.8L476.0 1470.7L478.8 1469.6L481.6 1468.6L484.4 1467.6L487.3 1466.6L490.2 1465.8L493.0 1464.9L495.9 1464.1L498.8 1463.4L501.7 1462.7L504.7 1462.1L507.6 1461.4L510.5 1460.9L513.5 1460.3L516.4 1459.8L519.4 1459.4L522.4 1459.0L525.3 1458.6L528.3 1458.2L531.3 1457.9L534.3 1457.6L537.3 1457.3L540.3 1457.1L543.3 1456.9L546.2 1456.7L549.2 1456.5L552.2 1456.4L555.2 1456.2L558.2 1456.1L561.2 1456.0L564.2 1456.0L567.2 1455.9L570.2 1455.9L573.2 1455.9L576.2 1455.9L579.2 1455.9L582.2 1455.9L585.2 1455.9L588.2 1455.9L591.2 1456.0L594.2 1456.1L597.2 1456.1L600.2 1456.2L603.2 1456.3L606.2 1456.4L609.2 1456.5L612.2 1456.6L615.2 1456.7L618.2 1456.8L621.2 1456.9L624.2 1457.0L627.2 1457.2L630.2 1457.3L633.2 1457.4L636.2 1457.6L639.2 1457.7L642.2 1457.9L645.2 1458.0L648.2 1458.2L651.2 1458.3L654.2 1458.5L657.2 1458.6L660.2 1458.8L663.2 1458.9L666.2 1459.1L669.2 1459.2L672.2 1459.4L675.1 1459.5L678.1 1459.7L681.1 1459.8L684.1 1460.0L687.1 1460.2L690.1 1460.3L693.1 1460.5L696.1 1460.6L699.1 1460.8L702.1 1460.9L705.1 1461.1L708.1 1461.2L711.1 1461.4L714.1 1461.5L717.1 1461.7L720.1 1461.8L723.1 1461.9L726.1 1462.1L729.1 1462.2L732.1 1462.4L735.1 1462.5L738.1 1462.6L741.1 1462.8L744.1 1462.9L747.1 1463.0L750.1 1463.1L753.1 1463.3L756.1 1463.4L759.1 1463.5L762.1 1463.6L765.0 1463.8L768.0 1463.9L771.0 1464.0L774.0 1464.1L777.0 1464.2L780.0 1464.3L783.0 1464.5L786.0 1464.6L789.0 1464.7L792.0 1464.8L795.0 1464.9L798.0 1465.0L801.0 1465.1L804.0 1465.2L807.0 1465.3L810.0 1465.4L813.0 1465.5L816.0 1465.6L819.0 1465.7L822.0 1465.8L825.0 1465.8L828.0 1465.9L831.0 1466.0L834.0 1466.1L837.0 1466.2L840.0 1466.3L843.0 1466.4L846.0 1466.4L849.0 1466.5L852.0 1466.6L855.0 1466.7L858.0 1466.7L861.0 1466.8L864.0 1466.9L867.0 1467.0L870.0 1467.0L873.0 1467.1L876.0 1467.2L879.0 1467.2L882.0 1467.3L885.0 1467.4L888.0 1467.4L891.0 1467.5L894.0 1467.5L897.0 1467.6L900.0 1467.7L903.0 1467.7L906.0 1467.8L909.0 1467.8L912.0 1467.9L915.0 1467.9L918.0 1468.0L921.0 1468.1L924.0 1468.1L927.0 1468.2L930.0 1468.2L933.0 1468.3L936.0 1468.3L939.0 1468.3L942.0 1468.4L945.0 1468.4L948.0 1468.5L951.0 1468.5L954.0 1468.6L957.0 1468.6L960.0 1468.7L963.0 1468.7L966.0 1468.8L969.0 1468.8L972.0 1468.9L975.0 1468.9L978.0 1469.0L981.0 1469.0L984.0 1469.1L987.0 1469.1L990.0 1469.2L993.0 1469.2L996.0 1469.3L999.0 1469.3L1002.0 1469.3L1005.0 1469.4L1008.0 1469.4L1011.0 1469.5L1014.0 1469.5L1017.0 1469.6L1020.0 1469.6L1023.0 1469.7L1026.0 1469.7L1029.0 1469.8L1032.0 1469.8L1035.0 1469.9L1038.0 1469.9L1041.0 1469.9L1044.0 1470.0L1047.0 1470.0L1050.0 1470.1L1053.0 1470.1L1056.0 1470.1L1059.0 1470.2L1062.0 1470.2L1065.0 1470.3L1068.0 1470.3L1071.0 1470.3L1074.0 1470.4L1077.0 1470.4L1080.0 1470.4L1083.0 1470.5L1086.0 1470.5L1089.0 1470.5L1092.0 1470.6L1095.0 1470.6L1098.0 1470.6L1101.0 1470.6L1104.0 1470.7L1107.0 1470.7L1110.0 1470.7L1113.0 1470.8L1116.0 1470.8L1119.0 1470.8L1122.0 1470.8L1125.0 1470.8L1128.0 1470.9L1131.0 1470.9L1134.0 1470.9L1137.0 1470.9L1140.0 1470.9L1143.0 1471.0L1146.0 1471.0L1149.0 1471.0L1152.0 1471.0L1155.0 1471.0L1158.0 1471.0L1161.0 1471.1L1164.0 1471.1L1167.0 1471.1L1170.0 1471.1L1173.0 1471.1L1176.0 1471.1L1179.0 1471.1L1182.0 1471.1L1185.0 1471.2L1188.0 1471.2L1191.0 1471.2L1194.0 1471.2L1197.0 1471.2L1200.0 1471.2L1203.0 1471.2L1206.0 1471.2L1209.0 1471.2L1212.0 1471.2L1215.0 1471.2L1218.0 1471.2L1221.0 1471.2L1224.0 1471.2L1227.0 1471.2L1230.0 1471.2L1233.0 1471.2L1236.0 1471.2L1239.0 1471.2L1242.0 1471.2L1245.0 1471.2L1248.0 1471.2L1251.0 1471.2L1254.0 1471.2L1257.0 1471.2L1260.0 1471.2L1263.0 1471.2L1266.0 1471.2L1269.0 1471.2L1272.0 1471.2L1275.0 1471.2L1278.0 1471.2L1281.0 1471.2L1284.0 1471.2L1287.0 1471.2L1290.0 1471.2L1293.0 1471.2L1296.0 1471.2L1299.0 1471.2L1302.0 1471.2L1305.0 1471.2L1308.0 1471.2L1311.0 1471.2L1314.0 1471.2L1317.0 1471.2L1320.0 1471.2L1323.0 1471.2L1326.0 1471.2L1329.0 1471.2L1332.0 1471.2L1335.0 1471.2L1338.0 1471.2L1341.0 1471.2L1344.0 1471.2L1347.0 1471.2L1350.0 1471.2L1353.0 1471.2L1356.0 1471.2L1359.0 1471.2L1362.0 1471.2L1365.0 1471.2L1368.0 1471.2L1371.0 1471.2L1374.0 1471.2L1377.0 1471.2L1380.0 1471.2L1383.0 1471.2L1386.0 1471.2L1389.0 1471.2L1392.0 1471.2L1395.0 1471.2L1398.0 1471.2L1401.0 1471.2L1404.0 1471.2L1407.0 1471.2L1410.0 1471.2L1413.0 1471.2L1416.0 1471.2L1419.0 1471.2L1422.0 1471.2L1425.0 1471.2L1428.0 1471.2L1431.0 1471.2L1434.0 1471.2L1437.0 1471.2L1440.0 1471.2L1443.0 1471.2L1446.0 1471.2L1449.0 1471.2L1452.0 1471.2L1455.0 1471.2L1458.0 1471.2L1461.0 1471.2L1464.0 1471.2L1467.0 1471.2L1470.0 1471.2L1473.0 1471.2L1476.0 1471.2L1479.0 1471.2L1482.0 1471.2L1485.0 1471.2L1488.0 1471.2L1491.0 1471.2L1494.0 1471.2L1497.0 1471.2L1500.0 1471.2L1503.0 1471.2L1506.0 1471.2L1509.0 1471.2L1512.0 1471.2L1515.0 1471.2L1518.0 1471.2L1521.0 1471.2L1524.0 1471.2L1527.0 1471.2L1530.0 1471.2L1533.0 1471.2L1536.0 1471.2L1539.0 1471.2L1542.0 1471.2L1545.0 1471.2L1548.0 1471.2L1551.0 1471.2L1554.0 1471.2L1557.0 1471.2L1560.0 1471.2L1560.6 1471.2" fill="none" stroke="#00ff00" stroke-width="10" stroke-linejoin="round"/>
<path d="M246.5 1864.0L247.8 1861.2L249.1 1858.4L250.2 1855.5L251.2 1852.7L252.2 1849.8L253.2 1846.9L254.1 1844.0L254.9 1841.2L255.8 1838.3L256.6 1835.4L257.4 1832.5L258.2 1829.6L259.0 1826.7L259.8 1823.7L260.5 1820.8L261.3 1817.9L262.0 1815.0L262.8 1812.1L263.5 1809.2L264.2 1806.3L264.9 1803.3L265.6 1800.4L266.3 1797.5L267.0 1794.6L267.7 1791.6L268.4 1788.7L269.0 1785.8L269.7 1782.9L270.4 1780.0L271.1 1777.0L271.7 1774.1L272.4 1771.2L273.1 1768.3L273.7 1765.3L274.4 1762.4L275.1 1759.5L275.7 1756.6L276.4 1753.6L277.1 1750.7L277.7 1747.8L278.4 1744.9L279.1 1741.9L279.8 1739.0L280.4 1736.1L281.1 1733.2L281.8 1730.2L282.4 1727.3L283.1 1724.4L283.8 1721.5L284.5 1718.6L285.2 1715.6L285.9 1712.7L286.5 1709.8L287.2 1706.9L287.9 1704.0L288.6 1701.1L289.3 1698.1L290.0 1695.2L290.7 1692.3L291.5 1689.4L292.2 1686.5L292.9 1683.6L293.6 1680.7L294.3 1677.8L295.1 1674.9L295.8 1672.0L296.6 1669.1L297.3 1666.1L298.1 1663.2L298.8 1660.4L299.6 1657.5L300.4 1654.6L301.1 1651.7L301.9 1648.8L302.7 1645.9L303.5 1643.0L304.3 1640.1L305.1 1637.2L306.0 1634.4L306.8 1631.5L307.6 1628.6L308.5 1625.7L309.3 1622.9L310.2 1620.0L311.1 1617.1L311.9 1614.3L312.8 1611.4L313.7 1608.6L314.6 1605.7L315.6 1602.9L316.5 1600.0L317.5 1597.2L318.4 1594.4L319.4 1591.5L320.4 1588.7L321.4 1585.9L322.4 1583.1L323.4 1580.3L324.4 1577.5L325.5 1574.7L326.6 1571.9L327.7 1569.1L328.8 1566.3L329.9 1563.6L331.0 1560.8L332.2 1558.1L333.4 1555.3L334.6 1552.6L335.8 1549.9L337.1 1547.1L338.3 1544.4L339.6 1541.8L340.9 1539.1L342.3 1536.4L343.7 1533.8L345.1 1531.1L346.5 1528.5L347.9 1525.9L349.4 1523.4L350.9 1520.8L352.5 1518.3L354.1 1515.7L355.7 1513.2L357.4 1510.8L359.1 1508.3L360.8 1505.9L362.6 1503.5L364.4 1501.2L366.3 1498.9L368.2 1496.6L370.2 1494.4L372.2 1492.2L374.2 1490.0L376.3 1487.9L378.5 1485.9L380.7 1483.9L382.9 1481.9L385.2 1480.0L387.6 1478.2L390.0 1476.4L392.4 1474.7L394.9 1473.1L397.5 1471.5L400.0 1470.0L402.7 1468.6L405.3 1467.3L408.0 1466.0L410.7 1464.8L413.5 1463.6L416.3 1462.6L419.1 1461.6L421.9 1460.6L424.8 1459.8L427.7 1459.0L430.6 1458.2L433.5 1457.6L436.4 1456.9L439.4 1456.4L442.3 1455.8L445.3 1455.4L448.3 1454.9L451.2 1454.6L454.2 1454.2L457.2 1453.9L460.2 1453.6L463.2 1453.4L466.2 1453.2L469.2 1453.0L472.1 1452.9L475.1 1452.8L478.1 1452.7L481.1 1452.6L484.1 1452.5L487.1 1452.5L490.1 1452.5L493.1 1452.5L496.1 1452.5L499.1 1452.5L502.1 1452.6L505.1 1452.6L508.1 1452.7L511.1 1452.8L514.1 1452.8L517.1 1452.9L520.1 1453.0L523.1 1453.1L526.1 1453.3L529.1 1453.4L532.1 1453.5L535.1 1453.6L538.1 1453.8L541.1 1453.9L544.1 1454.0L547.1 1454.2L550.1 1454.3L553.1 1454.5L556.1 1454.6L559.1 1454.8L562.1 1454.9L565.1 1455.1L568.1 1455.2L571.1 1455.4L574.1 1455.5L577.1 1455.7L580.1 1455.8L583.1 1456.0L586.1 1456.2L589.1 1456.3L592.1 1456.5L595.1 1456.6L598.0 1456.8L601.0 1456.9L604.0 1457.1L607.0 1457.3L610.0 1457.4L613.0 1457.6L616.0 1457.7L619.0 1457.9L622.0 1458.0L625.0 1458.2L628.0 1458.3L631.0 1458.5L634.0 1458.6L637.0 1458.7L640.0 1458.9L643.0 1459.0L646.0 1459.2L649.0 1459.3L652.0 1459.4L655.0 1459.6L658.0 1459.7L661.0 1459.8L664.0 1460.0L667.0 1460.1L670.0 1460.2L673.0 1460.4L676.0 1460.5L679.0 1460.6L682.0 1460.8L684.9 1460.9L687.9 1461.0L690.9 1461.1L693.9 1461.2L696.9 1461.4L699.9 1461.5L702.9 1461.6L705.9 1461.7L708.9 1461.8L711.9 1461.9L714.9 1462.0L717.9 1462.1L720.9 1462.3L723.9 1462.4L726.9 1462.5L729.9 1462.6L732.9 1462.7L735.9 1462.8L738.9 1462.9L741.9 1463.0L744.9 1463.1L747.9 1463.2L750.9 1463.3L753.9 1463.4L756.9 1463.5L759.9 1463.6L762.9 1463.6L765.9 1463.7L768.9 1463.8L771.9 1463.9L774.9 1464.0L777.9 1464.1L780.9 1464.2L783.9 1464.3L786.9 1464.3L789.9 1464.4L792.9 1464.5L795.9 1464.6L798.9 1464.7L801.9 1464.7L804.9 1464.8L807.9 1464.9L810.9 1465.0L813.9 1465.0L816.9 1465.1L819.9 1465.2L822.9 1465.3L825.9 1465.3L828.9 1465.4L831.9 1465.5L834.9 1465.5L837.9 1465.6L840.9 1465.7L843.9 1465.8L846.9 1465.8L849.9 1465.9L852.9 1465.9L855.9 1466.0L858.9 1466.1L861.9 1466.1L864.9 1466.2L867.9 1466.3L870.9 1466.3L873.9 1466.4L876.9 1466.4L879.9 1466.5L882.9 1466.5L885.9 1466.6L888.9 1466.7L891.9 1466.7L894.9 1466.8L897.9 1466.8L900.9 1466.9L903.9 1466.9L906.9 1467.0L909.9 1467.0L912.9 1467.1L915.9 1467.1L918.9 1467.2L921.9 1467.2L924.9 1467.3L927.9 1467.3L930.9 1467.4L933.9 1467.4L936.9 1467.5L939.9 1467.5L942.9 1467.6L945.9 1467.6L948.9 1467.6L951.9 1467.7L954.9 1467.7L957.9 1467.8L960.9 1467.8L963.9 1467.9L966.9 1467.9L969.9 1468.0L972.9 1468.0L975.9 1468.1L978.8 1468.1L981.8 1468.2L984.8 1468.2L987.8 1468.3L990.8 1468.4L993.8 1468.4L996.8 1468.5L999.8 1468.5L1002.8 1468.6L1005.8 1468.6L1008.8 1468.7L1011.8 1468.8L1014.8 1468.8L1017.8 1468.9L1020.8 1468.9L1023.8 1469.0L1026.8 1469.0L1029.8 1469.1L1032.8 1469.2L1035.8 1469.2L1038.8 1469.3L1041.8 1469.3L1044.8 1469.4L1047.8 1469.4L1050.8 1469.5L1053.8 1469.5L1056.8 1469.6L1059.8 1469.6L1062.8 1469.7L1065.8 1469.7L1068.8 1469.8L1071.8 1469.8L1074.8 1469.9L1077.8 1469.9L1080.8 1470.0L1083.8 1470.0L1086.8 1470.1L1089.8 1470.1L1092.8 1470.2L1095.8 1470.2L1098.8 1470.3L1101.8 1470.3L1104.8 1470.3L1107.8 1470.4L1110.8 1470.4L1113.8 1470.4L1116.8 1470.5L1119.8 1470.5L1122.8 1470.6L1125.8 1470.6L1128.8 1470.6L1131.8 1470.7L1134.8 1470.7L1137.8 1470.7L1140.8 1470.7L1143.8 1470.8L1146.8 1470.8L1149.8 1470.8L1152.8 1470.9L1155.8 1470.9L1158.8 1470.9L1161.8 1470.9L1164.8 1471.0L1167.8 1471.0L1170.8 1471.0L1173.8 1471.0L1176.8 1471.0L1179.8 1471.1L1182.8 1471.1L1185.8 1471.1L1188.8 1471.1L1191.8 1471.1L1194.8 1471.1L1197.8 1471.1L1200.8 1471.2L1203.8 1471.2L1206.8 1471.2L1209.8 1471.2L1212.8 1471.2L1215.8 1471.2L1218.8 1471.2L1221.8 1471.2L1224.8 1471.2L1227.8 1471.2L1230.8 1471.2L1233.8 1471.2L1236.8 1471.2L1239.8 1471.2L1242.8 1471.2L1245.8 1471.2L1248.8 1471.2L1251.8 1471.2L1254.8 1471.2L1257.8 1471.2L1260.8 1471.2L1263.8 1471.2L1266.8 1471.2L1269.8 1471.2L1272.8 1471.2L1275.8 1471.2L1278.8 1471.2L1281.8 1471.2L1284.8 1471.2L1287.8 1471.2L1290.8 1471.2L1293.8 1471.2L1296.8 1471.2L1299.8 1471.2L1302.8 1471.2L1305.8 1471.2L1308.8 1471.2L1311.8 1471.2L1314.8 1471.2L1317.8 1471.2L1320.8 1471.2L1323.8 1471.2L1326.8 1471.2L1329.8 1471.2L1332.8 1471.2L1335.8 1471.2L1338.8 1471.2L1341.8 1471.2L1344.8 1471.2L1347.8 1471.2L1350.8 1471.2L1353.8 1471.2L1356.8 1471.2L1359.8 1471.2L1362.8 1471.2L1365.8 1471.2L1368.8 1471.2L1371.8 1471.2L1374.8 1471.2L1377.8 1471.2L1380.8 1471.2L1383.8 1471.2L1386.8 1471.2L1389.8 1471.2L1392.8 1471.2L1395.8 1471.2L1398.8 1471.2L1401.8 1471.2L1404.8 1471.2L1407.8 1471.2L1410.8 1471.2L1413.8 1471.2L1416.8 1471.2L1419.8 1471.2L1422.8 1471.2L1425.8 1471.2L1428.8 1471.2L1431.8 1471.2L1434.8 1471.2L1437.8 1471.2L1440.8 1471.2L1443.8 1471.2L1446.8 1471.2L1449.8 1471.2L1452.8 1471.2L1455.8 1471.2L1458.8 1471.2L1461.8 1471.2L1464.8 1471.2L1467.8 1471.2L1470.8 1471.2L1473.8 1471.2L1476.8 1471.2L1479.8 1471.2L1482.8 1471.2L1485.8 1471.2L1488.8 1471.2L1491.8 1471.2L1494.8 1471.2L1497.8 1471.2L1500.8 1471.2L1503.8 1471.2L1506.8 1471.2L1509.8 1471.2L1512.8 1471.2L1515.8 1471.2L1518.8 1471.2L1521.8 1471.2L1524.8 1471.2L1527.8 1471.2L1530.8 1471.2L1533.8 1471.2L1536.8 1471.2L1539.8 1471.2L1542.8 1471.2L1545.8 1471.2L1548.8 1471.2L1551.8 1471.2L1554.8 1471.2L1557.8 1471.2L1560.6 1471.2" fill="none" stroke="#00ff00" stroke-width="10" stroke-linejoin="round"/>
<path d="M246.5 1763.0L247.4 1760.1L248.4 1757.3L249.3 1754.4L250.1 1751.5L251.0 1748.6L251.8 1745.7L252.6 1742.8L253.5 1739.9L254.2 1737.0L255.0 1734.1L255.8 1731.2L256.6 1728.3L257.4 1725.4L258.1 1722.5L258.9 1719.6L259.6 1716.7L260.4 1713.8L261.1 1710.9L261.9 1708.0L262.6 1705.1L263.3 1702.1L264.1 1699.2L264.8 1696.3L265.6 1693.4L266.3 1690.5L267.0 1687.6L267.8 1684.7L268.5 1681.8L269.3 1678.9L270.0 1676.0L270.7 1673.1L271.5 1670.2L272.2 1667.3L273.0 1664.4L273.7 1661.5L274.5 1658.6L275.3 1655.7L276.0 1652.8L276.8 1649.9L277.6 1647.0L278.3 1644.1L279.1 1641.2L279.9 1638.3L280.7 1635.4L281.5 1632.5L282.3 1629.6L283.1 1626.7L283.9 1623.9L284.8 1621.0L285.6 1618.1L286.4 1615.2L287.3 1612.4L288.1 1609.5L289.0 1606.6L289.9 1603.8L290.8 1600.9L291.6 1598.0L292.5 1595.2L293.5 1592.3L294.4 1589.5L295.3 1586.7L296.3 1583.8L297.2 1581.0L298.2 1578.2L299.2 1575.3L300.2 1572.5L301.2 1569.7L302.2 1566.9L303.2 1564.1L304.3 1561.3L305.4 1558.5L306.5 1555.7L307.6 1553.0L308.7 1550.2L309.9 1547.4L311.0 1544.7L312.2 1542.0L313.4 1539.2L314.7 1536.5L315.9 1533.8L317.2 1531.1L318.5 1528.4L319.9 1525.8L321.2 1523.1L322.6 1520.5L324.0 1517.9L325.5 1515.3L327.0 1512.7L328.5 1510.2L330.1 1507.6L331.7 1505.1L333.3 1502.7L335.0 1500.2L336.8 1497.8L338.5 1495.4L340.3 1493.0L342.2 1490.7L344.1 1488.5L346.1 1486.2L348.1 1484.0L350.2 1481.9L352.3 1479.8L354.5 1477.8L356.7 1475.8L359.0 1473.9L361.3 1472.1L363.7 1470.3L366.2 1468.6L368.6 1467.0L371.2 1465.5L373.8 1464.0L376.4 1462.6L379.1 1461.3L381.8 1460.1L384.6 1458.9L387.4 1457.9L390.2 1456.9L393.0 1455.9L395.9 1455.1L398.8 1454.3L401.7 1453.6L404.6 1453.0L407.6 1452.4L410.5 1451.9L413.5 1451.4L416.4 1451.0L419.4 1450.6L422.4 1450.3L425.4 1450.0L428.4 1449.8L431.4 1449.6L434.4 1449.4L437.3 1449.3L440.3 1449.2L443.3 1449.1L446.3 1449.1L449.3 1449.1L452.3 1449.0L455.3 1449.1L458.3 1449.1L461.3 1449.1L464.3 1449.2L467.3 1449.3L470.3 1449.4L473.3 1449.5L476.3 1449.6L479.3 1449.7L482.3 1449.8L485.3 1450.0L488.3 1450.1L491.3 1450.2L494.3 1450.4L497.3 1450.6L500.3 1450.7L503.3 1450.9L506.3 1451.1L509.3 1451.2L512.3 1451.4L515.3 1451.6L518.3 1451.8L521.3 1452.0L524.3 1452.1L527.3 1452.3L530.3 1452.5L533.3 1452.7L536.2 1452.9L539.2 1453.1L542.2 1453.3L545.2 1453.5L548.2 1453.6L551.2 1453.8L554.2 1454.0L557.2 1454.2L560.2 1454.4L563.2 1454.6L566.2 1454.7L569.2 1454.9L572.2 1455.1L575.2 1455.3L578.2 1455.5L581.2 1455.6L584.2 1455.8L587.2 1456.0L590.1 1456.1L593.1 1456.3L596.1 1456.5L599.1 1456.7L602.1 1456.8L605.1 1457.0L608.1 1457.1L611.1 1457.3L614.1 1457.5L617.1 1457.6L620.1 1457.8L623.1 1457.9L626.1 1458.1L629.1 1458.2L632.1 1458.4L635.1 1458.5L638.1 1458.7L641.1 1458.8L644.1 1459.0L647.1 1459.1L650.1 1459.3L653.1 1459.4L656.1 1459.5L659.1 1459.7L662.1 1459.8L665.0 1459.9L668.0 1460.1L671.0 1460.2L674.0 1460.3L677.0 1460.5L680.0 1460.6L683.0 1460.7L686.0 1460.8L689.0 1460.9L692.0 1461.1L695.0 1461.2L698.0 1461.3L701.0 1461.4L704.0 1461.5L707.0 1461.6L710.0 1461.8L713.0 1461.9L716.0 1462.0L719.0 1462.1L722.0 1462.2L725.0 1462.3L728.0 1462.4L731.0 1462.5L734.0 1462.6L737.0 1462.7L740.0 1462.8L743.0 1462.9L746.0 1463.0L749.0 1463.1L752.0 1463.2L755.0 1463.3L758.0 1463.4L761.0 1463.5L764.0 1463.6L767.0 1463.7L770.0 1463.7L773.0 1463.8L776.0 1463.9L779.0 1464.0L782.0 1464.1L785.0 1464.2L788.0 1464.3L791.0 1464.3L794.0 1464.4L797.0 1464.5L800.0 1464.6L803.0 1464.7L806.0 1464.7L809.0 1464.8L812.0 1464.9L815.0 1465.0L818.0 1465.0L821.0 1465.1L824.0 1465.2L827.0 1465.2L830.0 1465.3L833.0 1465.4L836.0 1465.5L839.0 1465.5L842.0 1465.6L845.0 1465.7L848.0 1465.7L851.0 1465.8L854.0 1465.9L857.0 1465.9L859.9 1466.0L862.9 1466.0L865.9 1466.1L868.9 1466.2L871.9 1466.2L874.9 1466.3L877.9 1466.3L880.9 1466.4L883.9 1466.5L886.9 1466.5L889.9 1466.6L892.9 1466.6L895.9 1466.7L898.9 1466.7L901.9 1466.8L904.9 1466.8L907.9 1466.9L910.9 1466.9L913.9 1467.0L916.9 1467.0L919.9 1467.1L922.9 1467.1L925.9 1467.2L928.9 1467.2L931.9 1467.3L934.9 1467.3L937.9 1467.4L940.9 1467.4L943.9 1467.5L946.9 1467.5L949.9 1467.5L952.9 1467.6L955.9 1467.6L958.9 1467.7L961.9 1467.7L964.9 1467.8L967.9 1467.8L970.9 1467.9L973.9 1467.9L976.9 1468.0L979.9 1468.0L982.9 1468.1L985.9 1468.2L988.9 1468.2L991.9 1468.3L994.9 1468.3L997.9 1468.4L1000.9 1468.4L1003.9 1468.5L1006.9 1468.6L1009.9 1468.6L1012.9 1468.7L1015.9 1468.7L1018.9 1468.8L1021.9 1468.9L1024.9 1468.9L1027.9 1469.0L1030.9 1469.0L1033.9 1469.1L1036.9 1469.2L1039.9 1469.2L1042.9 1469.3L1045.9 1469.3L1048.9 1469.4L1051.9 1469.4L1054.9 1469.5L1057.9 1469.5L1060.9 1469.6L1063.9 1469.6L1066.9 1469.7L1069.9 1469.7L1072.9 1469.8L1075.9 1469.9L1078.9 1469.9L1081.9 1469.9L1084.9 1470.0L1087.9 1470.0L1090.9 1470.1L1093.9 1470.1L1096.9 1470.2L1099.9 1470.2L1102.9 1470.3L1105.9 1470.3L1108.9 1470.3L1111.9 1470.4L1114.9 1470.4L1117.9 1470.5L1120.9 1470.5L1123.9 1470.5L1126.9 1470.6L1129.9 1470.6L1132.9 1470.6L1135.9 1470.7L1138.9 1470.7L1141.9 1470.7L1144.9 1470.8L1147.9 1470.8L1150.9 1470.8L1153.9 1470.8L1156.9 1470.9L1159.9 1470.9L1162.9 1470.9L1165.9 1470.9L1168.9 1471.0L1171.9 1471.0L1174.9 1471.0L1177.9 1471.0L1180.9 1471.0L1183.9 1471.1L1186.9 1471.1L1189.9 1471.1L1192.9 1471.1L1195.9 1471.1L1198.9 1471.1L1201.9 1471.2L1204.9 1471.2L1207.9 1471.2L1210.9 1471.2L1213.9 1471.2L1216.9 1471.2L1219.9 1471.2L1222.9 1471.2L1225.9 1471.2L1228.9 1471.2L1231.9 1471.2L1234.9 1471.2L1237.9 1471.2L1240.9 1471.2L1243.9 1471.2L1246.9 1471.2L1249.9 1471.2L1252.9 1471.2L1255.9 1471.2L1258.9 1471.2L1261.9 1471.2L1264.9 1471.2L1267.9 1471.2L1270.9 1471.2L1273.9 1471.2L1276.9 1471.2L1279.9 1471.2L1282.9 1471.2L1285.9 1471.2L1288.9 1471.2L1291.9 1471.2L1294.9 1471.2L1297.9 1471.2L1300.9 1471.2L1303.9 1471.2L1306.9 1471.2L1309.9 1471.2L1312.9 1471.2L1315.9 1471.2L1318.9 1471.2L1321.9 1471.2L1324.9 1471.2L1327.9 1471.2L1330.9 1471.2L1333.9 1471.2L1336.9 1471.2L1339.9 1471.2L1342.9 1471.2L1345.9 1471.2L1348.9 1471.2L1351.9 1471.2L1354.9 1471.2L1357.9 1471.2L1360.9 1471.2L1363.9 1471.2L1366.9 1471.2L1369.9 1471.2L1372.9 1471.2L1375.9 1471.2L1378.9 1471.2L1381.9 1471.2L1384.9 1471.2L1387.9 1471.2L1390.9 1471.2L1393.9 1471.2L1396.9 1471.2L1399.9 1471.2L1402.9 1471.2L1405.9 1471.2L1408.9 1471.2L1411.9 1471.2L1414.9 1471.2L1417.9 1471.2L1420.9 1471.2L1423.9 1471.2L1426.9 1471.2L1429.9 1471.2L1432.9 1471.2L1435.9 1471.2L1438.9 1471.2L1441.9 1471.2L1444.9 1471.2L1447.9 1471.2L1450.9 1471.2L1453.9 1471.2L1456.9 1471.2L1459.9 1471.2L1462.9 1471.2L1465.9 1471.2L1468.9 1471.2L1471.9 1471.2L1474.9 1471.2L1477.9 1471.2L1480.9 1471.2L1483.9 1471.2L1486.9 1471.2L1489.9 1471.2L1492.9 1471.2L1495.9 1471.2L1498.9 1471.2L1501.9 1471.2L1504.9 1471.2L1507.9 1471.2L1510.9 1471.2L1513.9 1471.2L1516.9 1471.2L1519.9 1471.2L1522.9 1471.2L1525.9 1471.2L1528.9 1471.2L1531.9 1471.2L1534.9 1471.2L1537.9 1471.2L1540.9 1471.2L1543.9 1471.2L1546.9 1471.2L1549.9 1471.2L1552.9 1471.2L1555.9 1471.2L1558.9 1471.2L1560.6 1471.2" fill="none" stroke="#00ff00" stroke-width="10" stroke-linejoin="round"/>
<path d="M246.5 1700.0L247.3 1697.1L248.1 1694.2L248.9 1691.3L249.7 1688.4L250.4 1685.5L251.2 1682.6L252.0 1679.7L252.8 1676.8L253.5 1673.9L254.3 1671.0L255.1 1668.1L255.9 1665.2L256.6 1662.3L257.4 1659.4L258.2 1656.5L259.0 1653.6L259.7 1650.7L260.5 1647.8L261.3 1645.0L262.1 1642.1L262.9 1639.2L263.7 1636.3L264.5 1633.4L265.3 1630.5L266.1 1627.6L266.9 1624.7L267.8 1621.9L268.6 1619.0L269.4 1616.1L270.3 1613.2L271.1 1610.4L272.0 1607.5L272.8 1604.6L273.7 1601.8L274.6 1598.9L275.5 1596.0L276.4 1593.2L277.3 1590.3L278.2 1587.5L279.1 1584.6L280.1 1581.8L281.0 1579.0L282.0 1576.1L283.0 1573.3L284.0 1570.5L285.0 1567.7L286.0 1564.9L287.0 1562.1L288.0 1559.3L289.1 1556.5L290.2 1553.7L291.3 1550.9L292.4 1548.1L293.5 1545.4L294.7 1542.6L295.9 1539.9L297.0 1537.1L298.3 1534.4L299.5 1531.7L300.8 1529.0L302.1 1526.3L303.4 1523.6L304.7 1521.0L306.1 1518.3L307.5 1515.7L308.9 1513.1L310.4 1510.5L311.9 1507.9L313.4 1505.4L315.0 1502.9L316.6 1500.4L318.3 1497.9L320.0 1495.4L321.7 1493.0L323.5 1490.7L325.3 1488.3L327.2 1486.0L329.1 1483.8L331.1 1481.5L333.1 1479.4L335.2 1477.3L337.4 1475.2L339.6 1473.2L341.8 1471.3L344.1 1469.4L346.5 1467.6L348.9 1465.9L351.4 1464.2L353.9 1462.7L356.5 1461.2L359.1 1459.7L361.8 1458.4L364.5 1457.2L367.2 1456.0L370.0 1454.9L372.8 1453.9L375.7 1453.0L378.5 1452.1L381.4 1451.3L384.3 1450.6L387.3 1450.0L390.2 1449.4L393.2 1448.9L396.1 1448.5L399.1 1448.1L402.1 1447.7L405.0 1447.4L408.0 1447.1L411.0 1446.9L414.0 1446.8L417.0 1446.6L420.0 1446.5L423.0 1446.4L426.0 1446.4L429.0 1446.3L432.0 1446.3L435.0 1446.4L438.0 1446.4L441.0 1446.5L444.0 1446.5L447.0 1446.6L450.0 1446.7L453.0 1446.8L456.0 1447.0L459.0 1447.1L462.0 1447.2L465.0 1447.4L468.0 1447.6L471.0 1447.7L474.0 1447.9L477.0 1448.1L480.0 1448.3L483.0 1448.5L486.0 1448.7L488.9 1448.9L491.9 1449.1L494.9 1449.3L497.9 1449.5L500.9 1449.7L503.9 1449.9L506.9 1450.1L509.9 1450.3L512.9 1450.5L515.9 1450.7L518.9 1450.9L521.9 1451.1L524.9 1451.3L527.9 1451.5L530.9 1451.7L533.8 1452.0L536.8 1452.2L539.8 1452.4L542.8 1452.6L545.8 1452.8L548.8 1453.0L551.8 1453.2L554.8 1453.4L557.8 1453.6L560.8 1453.8L563.8 1454.0L566.8 1454.1L569.8 1454.3L572.8 1454.5L575.8 1454.7L578.7 1454.9L581.7 1455.1L584.7 1455.3L587.7 1455.4L590.7 1455.6L593.7 1455.8L596.7 1456.0L599.7 1456.2L602.7 1456.3L605.7 1456.5L608.7 1456.7L611.7 1456.8L614.7 1457.0L617.7 1457.2L620.7 1457.3L623.7 1457.5L626.7 1457.6L629.7 1457.8L632.7 1458.0L635.7 1458.1L638.7 1458.3L641.6 1458.4L644.6 1458.6L647.6 1458.7L650.6 1458.8L653.6 1459.0L656.6 1459.1L659.6 1459.3L662.6 1459.4L665.6 1459.5L668.6 1459.7L671.6 1459.8L674.6 1459.9L677.6 1460.1L680.6 1460.2L683.6 1460.3L686.6 1460.5L689.6 1460.6L692.6 1460.7L695.6 1460.8L698.6 1461.0L701.6 1461.1L704.6 1461.2L707.6 1461.3L710.6 1461.4L713.6 1461.5L716.6 1461.6L719.6 1461.8L722.6 1461.9L725.6 1462.0L728.6 1462.1L731.6 1462.2L734.6 1462.3L737.6 1462.4L740.6 1462.5L743.6 1462.6L746.6 1462.7L749.6 1462.8L752.6 1462.9L755.6 1463.0L758.6 1463.1L761.5 1463.2L764.5 1463.3L767.5 1463.4L770.5 1463.5L773.5 1463.6L776.5 1463.6L779.5 1463.7L782.5 1463.8L785.5 1463.9L788.5 1464.0L791.5 1464.1L794.5 1464.2L797.5 1464.2L800.5 1464.3L803.5 1464.4L806.5 1464.5L809.5 1464.6L812.5 1464.6L815.5 1464.7L818.5 1464.8L821.5 1464.9L824.5 1464.9L827.5 1465.0L830.5 1465.1L833.5 1465.2L836.5 1465.2L839.5 1465.3L842.5 1465.4L845.5 1465.4L848.5 1465.5L851.5 1465.6L854.5 1465.6L857.5 1465.7L860.5 1465.8L863.5 1465.8L866.5 1465.9L869.5 1466.0L872.5 1466.0L875.5 1466.1L878.5 1466.1L881.5 1466.2L884.5 1466.3L887.5 1466.3L890.5 1466.4L893.5 1466.4L896.5 1466.5L899.5 1466.5L902.5 1466.6L905.5 1466.6L908.5 1466.7L911.5 1466.8L914.5 1466.8L917.5 1466.9L920.5 1466.9L923.5 1467.0L926.5 1467.0L929.5 1467.1L932.5 1467.1L935.5 1467.2L938.5 1467.2L941.5 1467.3L944.5 1467.3L947.5 1467.3L950.5 1467.4L953.5 1467.4L956.5 1467.5L959.5 1467.5L962.5 1467.6L965.5 1467.6L968.5 1467.7L971.5 1467.7L974.5 1467.8L977.5 1467.9L980.5 1467.9L983.5 1468.0L986.5 1468.0L989.5 1468.1L992.5 1468.2L995.5 1468.2L998.5 1468.3L1001.5 1468.3L1004.5 1468.4L1007.5 1468.5L1010.5 1468.5L1013.5 1468.6L1016.5 1468.6L1019.5 1468.7L1022.5 1468.8L1025.5 1468.8L1028.5 1468.9L1031.5 1468.9L1034.5 1469.0L1037.5 1469.1L1040.5 1469.1L1043.5 1469.2L1046.5 1469.2L1049.5 1469.3L1052.5 1469.4L1055.5 1469.4L1058.5 1469.5L1061.5 1469.5L1064.5 1469.6L1067.5 1469.6L1070.5 1469.7L1073.5 1469.7L1076.5 1469.8L1079.5 1469.8L1082.5 1469.9L1085.5 1469.9L1088.5 1470.0L1091.5 1470.0L1094.5 1470.1L1097.5 1470.1L1100.5 1470.2L1103.5 1470.2L1106.5 1470.3L1109.5 1470.3L1112.5 1470.4L1115.5 1470.4L1118.5 1470.4L1121.5 1470.5L1124.5 1470.5L1127.5 1470.5L1130.5 1470.6L1133.5 1470.6L1136.5 1470.6L1139.5 1470.7L1142.5 1470.7L1145.5 1470.7L1148.5 1470.8L1151.5 1470.8L1154.5 1470.8L1157.5 1470.9L1160.5 1470.9L1163.5 1470.9L1166.5 1470.9L1169.5 1471.0L1172.5 1471.0L1175.5 1471.0L1178.5 1471.0L1181.5 1471.0L1184.5 1471.1L1187.5 1471.1L1190.5 1471.1L1193.5 1471.1L1196.5 1471.1L1199.5 1471.1L1202.5 1471.2L1205.5 1471.2L1208.5 1471.2L1211.5 1471.2L1214.5 1471.2L1217.5 1471.2L1220.5 1471.2L1223.5 1471.2L1226.5 1471.2L1229.5 1471.2L1232.5 1471.2L1235.5 1471.2L1238.5 1471.2L1241.5 1471.2L1244.5 1471.2L1247.5 1471.2L1250.5 1471.2L1253.5 1471.2L1256.5 1471.2L1259.5 1471.2L1262.5 1471.2L1265.5 1471.2L1268.5 1471.2L1271.5 1471.2L1274.5 1471.2L1277.5 1471.2L1280.5 1471.2L1283.5 1471.2L1286.5 1471.2L1289.5 1471.2L1292.5 1471.2L1295.5 1471.2L1298.5 1471.2L1301.5 1471.2L1304.5 1471.2L1307.5 1471.2L1310.5 1471.2L1313.5 1471.2L1316.5 1471.2L1319.5 1471.2L1322.5 1471.2L1325.5 1471.2L1328.5 1471.2L1331.5 1471.2L1334.5 1471.2L1337.5 1471.2L1340.5 1471.2L1343.5 1471.2L1346.5 1471.2L1349.5 1471.2L1352.5 1471.2L1355.5 1471.2L1358.5 1471.2L1361.5 1471.2L1364.5 1471.2L1367.5 1471.2L1370.5 1471.2L1373.5 1471.2L1376.5 1471.2L1379.5 1471.2L1382.5 1471.2L1385.5 1471.2L1388.5 1471.2L1391.5 1471.2L1394.5 1471.2L1397.5 1471.2L1400.5 1471.2L1403.5 1471.2L1406.5 1471.2L1409.5 1471.2L1412.5 1471.2L1415.5 1471.2L1418.5 1471.2L1421.5 1471.2L1424.5 1471.2L1427.5 1471.2L1430.5 1471.2L1433.5 1471.2L1436.5 1471.2L1439.5 1471.2L1442.5 1471.2L1445.5 1471.2L1448.5 1471.2L1451.5 1471.2L1454.5 1471.2L1457.5 1471.2L1460.5 1471.2L1463.5 1471.2L1466.5 1471.2L1469.5 1471.2L1472.5 1471.2L1475.5 1471.2L1478.5 1471.2L1481.5 1471.2L1484.5 1471.2L1487.5 1471.2L1490.5 1471.2L1493.5 1471.2L1496.5 1471.2L1499.5 1471.2L1502.5 1471.2L1505.5 1471.2L1508.5 1471.2L1511.5 1471.2L1514.5 1471.2L1517.5 1471.2L1520.5 1471.2L1523.5 1471.2L1526.5 1471.2L1529.5 1471.2L1532.5 1471.2L1535.5 1471.2L1538.5 1471.2L1541.5 1471.2L1544.5 1471.2L1547.5 1471.2L1550.5 1471.2L1553.5 1471.2L1556.5 1471.2L1559.5 1471.2L1560.6 1471.2" fill="none" stroke="#00ff00" stroke-width="10" stroke-linejoin="round"/>
<path d="M246.5 1844.0L247.3 1841.1L248.1 1838.2L248.9 1835.3L249.7 1832.5L250.5 1829.6L251.3 1826.7L252.1 1823.8L253.0 1820.9L253.8 1818.1L254.7 1815.2L255.6 1812.3L256.4 1809.5L257.3 1806.6L258.2 1803.8L259.1 1800.9L260.0 1798.0L260.9 1795.2L261.8 1792.3L262.8 1789.5L263.7 1786.6L264.6 1783.8L265.5 1780.9L266.5 1778.1L267.4 1775.2L268.4 1772.4L269.3 1769.6L270.3 1766.7L271.2 1763.9L272.2 1761.0L273.2 1758.2L274.1 1755.4L275.1 1752.5L276.1 1749.7L277.0 1746.9L278.0 1744.0L279.0 1741.2L280.0 1738.4L281.0 1735.5L282.0 1732.7L282.9 1729.9L283.9 1727.0L284.9 1724.2L285.9 1721.4L286.9 1718.5L287.9 1715.7L288.9 1712.9L289.9 1710.1L290.9 1707.2L291.9 1704.4L292.9 1701.6L293.9 1698.8L295.0 1695.9L296.0 1693.1L297.0 1690.3L298.0 1687.5L299.1 1684.7L300.1 1681.9L301.1 1679.1L302.2 1676.3L303.2 1673.4L304.3 1670.6L305.3 1667.8L306.4 1665.0L307.5 1662.2L308.6 1659.5L309.7 1656.7L310.7 1653.9L311.8 1651.1L313.0 1648.3L314.1 1645.5L315.2 1642.8L316.3 1640.0L317.5 1637.2L318.7 1634.5L319.8 1631.7L321.0 1629.0L322.2 1626.2L323.4 1623.5L324.6 1620.8L325.9 1618.1L327.1 1615.3L328.4 1612.6L329.7 1609.9L331.0 1607.2L332.3 1604.6L333.6 1601.9L335.0 1599.2L336.4 1596.6L337.8 1594.0L339.2 1591.4L340.7 1588.7L342.2 1586.2L343.7 1583.6L345.2 1581.0L346.8 1578.5L348.4 1576.0L350.0 1573.5L351.7 1571.0L353.4 1568.6L355.1 1566.1L356.9 1563.7L358.7 1561.4L360.5 1559.0L362.4 1556.7L364.3 1554.5L366.3 1552.3L368.3 1550.1L370.4 1547.9L372.5 1545.8L374.6 1543.7L376.8 1541.7L379.0 1539.7L381.3 1537.8L383.6 1535.9L386.0 1534.1L388.4 1532.3L390.8 1530.6L393.2 1528.9L395.7 1527.2L398.3 1525.6L400.8 1524.1L403.4 1522.6L406.0 1521.1L408.6 1519.6L411.2 1518.2L413.9 1516.8L416.5 1515.5L419.2 1514.2L421.9 1512.9L424.6 1511.6L427.4 1510.3L430.1 1509.1L432.8 1507.9L435.6 1506.7L438.4 1505.6L441.1 1504.4L443.9 1503.3L446.7 1502.2L449.5 1501.1L452.3 1500.1L455.1 1499.0L457.9 1498.0L460.8 1497.0L463.6 1496.1L466.4 1495.2L469.3 1494.2L472.2 1493.4L475.0 1492.5L477.9 1491.7L480.8 1490.9L483.7 1490.1L486.6 1489.3L489.5 1488.6L492.4 1487.9L495.3 1487.3L498.3 1486.6L501.2 1486.0L504.1 1485.4L507.1 1484.9L510.0 1484.3L513.0 1483.8L515.9 1483.3L518.9 1482.9L521.9 1482.4L524.8 1482.0L527.8 1481.6L530.8 1481.2L533.8 1480.8L536.7 1480.5L539.7 1480.1L542.7 1479.8L545.7 1479.5L548.7 1479.2L551.7 1478.9L554.6 1478.6L557.6 1478.4L560.6 1478.1L563.6 1477.9L566.6 1477.7L569.6 1477.4L572.6 1477.2L575.6 1477.0L578.6 1476.8L581.6 1476.6L584.6 1476.4L587.6 1476.2L590.5 1476.0L593.5 1475.9L596.5 1475.7L599.5 1475.5L602.5 1475.4L605.5 1475.2L608.5 1475.0L611.5 1474.9L614.5 1474.8L617.5 1474.6L620.5 1474.5L623.5 1474.4L626.5 1474.2L629.5 1474.1L632.5 1474.0L635.5 1473.9L638.5 1473.8L641.5 1473.7L644.5 1473.6L647.5 1473.5L650.5 1473.4L653.5 1473.3L656.5 1473.3L659.5 1473.2L662.5 1473.1L665.5 1473.0L668.5 1473.0L671.5 1472.9L674.5 1472.8L677.5 1472.8L680.5 1472.7L683.5 1472.7L686.5 1472.6L689.5 1472.6L692.5 1472.5L695.5 1472.5L698.5 1472.4L701.5 1472.4L704.5 1472.3L707.5 1472.3L710.5 1472.3L713.5 1472.2L716.5 1472.2L719.5 1472.1L722.5 1472.1L725.5 1472.1L728.5 1472.1L731.5 1472.0L734.5 1472.0L737.5 1472.0L740.5 1471.9L743.5 1471.9L746.5 1471.9L749.5 1471.9L752.5 1471.8L755.5 1471.8L758.5 1471.8L761.5 1471.8L764.5 1471.8L767.5 1471.7L770.5 1471.7L773.5 1471.7L776.5 1471.7L779.5 1471.7L782.5 1471.7L785.5 1471.6L788.5 1471.6L791.5 1471.6L794.5 1471.6L797.5 1471.6L800.5 1471.6L803.5 1471.6L806.5 1471.5L809.5 1471.5L812.5 1471.5L815.5 1471.5L818.5 1471.5L821.5 1471.5L824.5 1471.5L827.5 1471.5L830.5 1471.5L833.5 1471.5L836.5 1471.4L839.5 1471.4L842.5 1471.4L845.5 1471.4L848.5 1471.4L851.5 1471.4L854.5 1471.4L857.5 1471.4L860.5 1471.4L863.5 1471.4L866.5 1471.4L869.5 1471.4L872.5 1471.4L875.5 1471.4L878.5 1471.4L881.5 1471.4L884.5 1471.4L887.5 1471.4L890.5 1471.3L893.5 1471.3L896.5 1471.3L899.5 1471.3L902.5 1471.3L905.5 1471.3L908.5 1471.3L911.5 1471.3L914.5 1471.3L917.5 1471.3L920.5 1471.3L923.5 1471.3L926.5 1471.3L929.5 1471.3L932.5 1471.3L935.5 1471.3L938.5 1471.3L941.5 1471.3L944.5 1471.3L947.5 1471.3L950.5 1471.3L953.5 1471.3L956.5 1471.3L959.5 1471.3L962.5 1471.3L965.5 1471.3L968.5 1471.3L971.5 1471.3L974.5 1471.3L977.5 1471.3L980.5 1471.3L983.5 1471.3L986.5 1471.3L989.5 1471.3L992.5 1471.3L995.5 1471.3L998.5 1471.3L1001.5 1471.3L1004.5 1471.3L1007.5 1471.3L1010.5 1471.3L1013.5 1471.3L1016.5 1471.3L1019.5 1471.3L1022.5 1471.3L1025.5 1471.3L1028.5 1471.3L1031.5 1471.3L1034.5 1471.3L1037.5 1471.3L1040.5 1471.3L1043.5 1471.3L1046.5 1471.3L1049.5 1471.3L1052.5 1471.3L1055.5 1471.3L1058.5 1471.3L1061.5 1471.3L1064.5 1471.3L1067.5 1471.3L1070.5 1471.3L1073.5 1471.3L1076.5 1471.3L1079.5 1471.3L1082.5 1471.3L1085.5 1471.3L1088.5 1471.3L1091.5 1471.3L1094.5 1471.3L1097.5 1471.3L1100.5 1471.3L1103.5 1471.3L1106.5 1471.3L1109.5 1471.3L1112.5 1471.3L1115.5 1471.3L1118.5 1471.3L1121.5 1471.3L1124.5 1471.3L1127.5 1471.3L1130.5 1471.3L1133.5 1471.3L1136.5 1471.3L1139.5 1471.3L1142.5 1471.3L1145.5 1471.3L1148.5 1471.3L1151.5 1471.3L1154.5 1471.3L1157.5 1471.3L1160.5 1471.3L1163.5 1471.3L1166.5 1471.3L1169.5 1471.3L1172.5 1471.3L1175.5 1471.3L1178.5 1471.3L1181.5 1471.3L1184.5 1471.3L1187.5 1471.3L1190.5 1471.3L1193.5 1471.3L1196.5 1471.3L1199.5 1471.3L1202.5 1471.3L1205.5 1471.3L1208.5 1471.3L1211.5 1471.3L1214.5 1471.3L1217.5 1471.3L1220.5 1471.3L1223.5 1471.3L1226.5 1471.3L1229.5 1471.3L1232.5 1471.3L1235.5 1471.3L1238.5 1471.3L1241.5 1471.3L1244.5 1471.3L1247.5 1471.3L1250.5 1471.2L1253.5 1471.2L1256.5 1471.2L1259.5 1471.2L1262.5 1471.2L1265.5 1471.2L1268.5 1471.2L1271.5 1471.2L1274.5 1471.2L1277.5 1471.2L1280.5 1471.2L1283.5 1471.2L1286.5 1471.2L1289.5 1471.2L1292.5 1471.2L1295.5 1471.2L1298.5 1471.2L1301.5 1471.2L1304.5 1471.2L1307.5 1471.2L1310.5 1471.2L1313.5 1471.2L1316.5 1471.2L1319.5 1471.2L1322.5 1471.2L1325.5 1471.2L1328.5 1471.2L1331.5 1471.2L1334.5 1471.2L1337.5 1471.2L1340.5 1471.2L1343.5 1471.2L1346.5 1471.2L1349.5 1471.2L1352.5 1471.2L1355.5 1471.2L1358.5 1471.2L1361.5 1471.2L1364.5 1471.2L1367.5 1471.2L1370.5 1471.2L1373.5 1471.2L1376.5 1471.2L1379.5 1471.2L1382.5 1471.2L1385.5 1471.2L1388.5 1471.2L1391.5 1471.2L1394.5 1471.2L1397.5 1471.2L1400.5 1471.2L1403.5 1471.2L1406.5 1471.2L1409.5 1471.2L1412.5 1471.2L1415.5 1471.2L1418.5 1471.2L1421.5 1471.2L1424.5 1471.2L1427.5 1471.2L1430.5 1471.2L1433.5 1471.2L1436.5 1471.2L1439.5 1471.2L1442.5 1471.2L1445.5 1471.2L1448.5 1471.2L1451.5 1471.2L1454.5 1471.2L1457.5 1471.2L1460.5 1471.2L1463.5 1471.2L1466.5 1471.2L1469.5 1471.2L1472.5 1471.2L1475.5 1471.2L1478.5 1471.2L1481.5 1471.2L1484.5 1471.2L1487.5 1471.2L1490.5 1471.2L1493.5 1471.2L1496.5 1471.2L1499.5 1471.2L1502.5 1471.2L1505.5 1471.2L1508.5 1471.2L1511.5 1471.2L1514.5 1471.2L1517.5 1471.2L1520.5 1471.2L1523.5 1471.2L1526.5 1471.2L1529.5 1471.2L1532.5 1471.2L1535.5 1471.2L1538.5 1471.2L1541.5 1471.2L1544.5 1471.2L1547.5 1471.2L1550.5 1471.2L1553.5 1471.2L1556.5 1471.2L1559.5 1471.2L1560.6 1471.2" fill="none" stroke="#ff0000" stroke-width="10" stroke-dasharray="26 5.5 13 5.5" stroke-linejoin="round"/>
<path d="M246.5 1833.1L247.3 1830.2L248.1 1827.3L248.9 1824.4L249.7 1821.6L250.5 1818.7L251.3 1815.8L252.2 1812.9L253.0 1810.0L253.9 1807.2L254.7 1804.3L255.6 1801.4L256.4 1798.6L257.3 1795.7L258.2 1792.8L259.1 1790.0L260.0 1787.1L260.9 1784.3L261.8 1781.4L262.7 1778.5L263.6 1775.7L264.5 1772.8L265.4 1770.0L266.3 1767.1L267.3 1764.3L268.2 1761.4L269.1 1758.6L270.1 1755.7L271.0 1752.9L272.0 1750.0L272.9 1747.2L273.9 1744.4L274.8 1741.5L275.8 1738.7L276.7 1735.8L277.7 1733.0L278.7 1730.2L279.6 1727.3L280.6 1724.5L281.6 1721.6L282.5 1718.8L283.5 1716.0L284.5 1713.2L285.5 1710.3L286.5 1707.5L287.5 1704.7L288.5 1701.8L289.5 1699.0L290.5 1696.2L291.5 1693.4L292.5 1690.5L293.5 1687.7L294.5 1684.9L295.5 1682.1L296.6 1679.3L297.6 1676.5L298.6 1673.6L299.7 1670.8L300.7 1668.0L301.8 1665.2L302.8 1662.4L303.9 1659.6L305.0 1656.8L306.1 1654.0L307.2 1651.2L308.2 1648.5L309.4 1645.7L310.5 1642.9L311.6 1640.1L312.7 1637.4L313.9 1634.6L315.0 1631.8L316.2 1629.1L317.3 1626.3L318.5 1623.6L319.7 1620.8L320.9 1618.1L322.2 1615.4L323.4 1612.7L324.7 1609.9L325.9 1607.2L327.2 1604.5L328.5 1601.9L329.9 1599.2L331.2 1596.5L332.6 1593.9L334.0 1591.2L335.4 1588.6L336.8 1586.0L338.3 1583.4L339.8 1580.8L341.3 1578.2L342.8 1575.7L344.4 1573.1L346.0 1570.6L347.6 1568.1L349.3 1565.7L351.0 1563.2L352.8 1560.8L354.5 1558.4L356.4 1556.1L358.2 1553.8L360.1 1551.5L362.1 1549.2L364.1 1547.0L366.1 1544.8L368.2 1542.7L370.3 1540.6L372.5 1538.6L374.7 1536.6L376.9 1534.7L379.2 1532.8L381.6 1530.9L384.0 1529.1L386.4 1527.4L388.8 1525.7L391.3 1524.1L393.9 1522.5L396.4 1520.9L399.0 1519.4L401.6 1518.0L404.3 1516.6L406.9 1515.2L409.6 1513.9L412.3 1512.6L415.0 1511.3L417.7 1510.1L420.5 1508.9L423.2 1507.7L426.0 1506.5L428.8 1505.4L431.5 1504.3L434.3 1503.2L437.1 1502.1L439.9 1501.1L442.8 1500.1L445.6 1499.1L448.4 1498.1L451.3 1497.1L454.1 1496.2L457.0 1495.3L459.8 1494.4L462.7 1493.5L465.6 1492.7L468.4 1491.8L471.3 1491.0L474.2 1490.3L477.1 1489.5L480.0 1488.8L482.9 1488.1L485.9 1487.4L488.8 1486.8L491.7 1486.1L494.7 1485.5L497.6 1485.0L500.5 1484.4L503.5 1483.9L506.5 1483.4L509.4 1482.9L512.4 1482.4L515.3 1482.0L518.3 1481.6L521.3 1481.2L524.3 1480.8L527.2 1480.4L530.2 1480.1L533.2 1479.7L536.2 1479.4L539.2 1479.1L542.1 1478.8L545.1 1478.6L548.1 1478.3L551.1 1478.0L554.1 1477.8L557.1 1477.6L560.1 1477.3L563.1 1477.1L566.1 1476.9L569.1 1476.7L572.1 1476.5L575.0 1476.3L578.0 1476.1L581.0 1475.9L584.0 1475.8L587.0 1475.6L590.0 1475.4L593.0 1475.3L596.0 1475.1L599.0 1475.0L602.0 1474.8L605.0 1474.7L608.0 1474.6L611.0 1474.4L614.0 1474.3L617.0 1474.2L620.0 1474.1L623.0 1473.9L626.0 1473.8L629.0 1473.7L632.0 1473.6L635.0 1473.5L638.0 1473.4L641.0 1473.3L644.0 1473.3L647.0 1473.2L650.0 1473.1L653.0 1473.0L656.0 1472.9L659.0 1472.9L662.0 1472.8L665.0 1472.7L668.0 1472.7L671.0 1472.6L674.0 1472.6L677.0 1472.5L680.0 1472.5L683.0 1472.4L686.0 1472.4L689.0 1472.3L692.0 1472.3L695.0 1472.2L698.0 1472.2L701.0 1472.2L704.0 1472.1L707.0 1472.1L710.0 1472.0L713.0 1472.0L716.0 1472.0L719.0 1471.9L722.0 1471.9L725.0 1471.9L728.0 1471.9L731.0 1471.8L734.0 1471.8L737.0 1471.8L740.0 1471.8L743.0 1471.7L746.0 1471.7L749.0 1471.7L752.0 1471.7L755.0 1471.7L758.0 1471.6L761.0 1471.6L764.0 1471.6L767.0 1471.6L770.0 1471.6L773.0 1471.6L776.0 1471.5L779.0 1471.5L782.0 1471.5L785.0 1471.5L788.0 1471.5L791.0 1471.5L794.0 1471.5L797.0 1471.4L800.0 1471.4L803.0 1471.4L806.0 1471.4L809.0 1471.4L812.0 1471.4L815.0 1471.4L818.0 1471.4L821.0 1471.4L824.0 1471.4L827.0 1471.4L830.0 1471.3L833.0 1471.3L836.0 1471.3L839.0 1471.3L842.0 1471.3L845.0 1471.3L848.0 1471.3L851.0 1471.3L854.0 1471.3L857.0 1471.3L860.0 1471.3L863.0 1471.3L866.0 1471.3L869.0 1471.3L872.0 1471.3L875.0 1471.3L878.0 1471.3L881.0 1471.3L884.0 1471.3L887.0 1471.3L890.0 1471.3L893.0 1471.2L896.0 1471.2L899.0 1471.2L902.0 1471.2L905.0 1471.2L908.0 1471.2L911.0 1471.2L914.0 1471.2L917.0 1471.2L920.0 1471.2L923.0 1471.2L926.0 1471.2L929.0 1471.2L932.0 1471.2L935.0 1471.2L938.0 1471.2L941.0 1471.2L944.0 1471.2L947.0 1471.2L950.0 1471.2L953.0 1471.2L956.0 1471.2L959.0 1471.2L962.0 1471.2L965.0 1471.2L968.0 1471.2L971.0 1471.2L974.0 1471.2L977.0 1471.2L980.0 1471.2L983.0 1471.2L986.0 1471.2L989.0 1471.2L992.0 1471.2L995.0 1471.2L998.0 1471.2L1001.0 1471.2L1004.0 1471.2L1007.0 1471.2L1010.0 1471.2L1013.0 1471.2L1016.0 1471.2L1019.0 1471.2L1022.0 1471.2L1025.0 1471.2L1028.0 1471.2L1031.0 1471.2L1034.0 1471.2L1037.0 1471.2L1040.0 1471.2L1043.0 1471.2L1046.0 1471.2L1049.0 1471.2L1052.0 1471.2L1055.0 1471.2L1058.0 1471.2L1061.0 1471.2L1064.0 1471.2L1067.0 1471.2L1070.0 1471.2L1073.0 1471.2L1076.0 1471.2L1079.0 1471.2L1082.0 1471.2L1085.0 1471.2L1088.0 1471.2L1091.0 1471.2L1094.0 1471.2L1097.0 1471.2L1100.0 1471.2L1103.0 1471.2L1106.0 1471.2L1109.0 1471.2L1112.0 1471.2L1115.0 1471.2L1118.0 1471.2L1121.0 1471.2L1124.0 1471.2L1127.0 1471.2L1130.0 1471.2L1133.0 1471.2L1136.0 1471.2L1139.0 1471.2L1142.0 1471.2L1145.0 1471.2L1148.0 1471.2L1151.0 1471.2L1154.0 1471.2L1157.0 1471.2L1160.0 1471.2L1163.0 1471.2L1166.0 1471.2L1169.0 1471.2L1172.0 1471.2L1175.0 1471.2L1178.0 1471.2L1181.0 1471.2L1184.0 1471.2L1187.0 1471.2L1190.0 1471.2L1193.0 1471.2L1196.0 1471.2L1199.0 1471.2L1202.0 1471.2L1205.0 1471.2L1208.0 1471.2L1211.0 1471.2L1214.0 1471.2L1217.0 1471.2L1220.0 1471.2L1223.0 1471.2L1226.0 1471.2L1229.0 1471.2L1232.0 1471.2L1235.0 1471.2L1238.0 1471.2L1241.0 1471.2L1244.0 1471.2L1247.0 1471.2L1250.0 1471.2L1253.0 1471.2L1256.0 1471.2L1259.0 1471.2L1262.0 1471.2L1265.0 1471.2L1268.0 1471.2L1271.0 1471.2L1274.0 1471.2L1277.0 1471.2L1280.0 1471.2L1283.0 1471.2L1286.0 1471.2L1289.0 1471.2L1292.0 1471.2L1295.0 1471.2L1298.0 1471.2L1301.0 1471.2L1304.0 1471.2L1307.0 1471.2L1310.0 1471.2L1313.0 1471.2L1316.0 1471.2L1319.0 1471.2L1322.0 1471.2L1325.0 1471.2L1328.0 1471.2L1331.0 1471.2L1334.0 1471.2L1337.0 1471.2L1340.0 1471.2L1343.0 1471.2L1346.0 1471.2L1349.0 1471.2L1352.0 1471.2L1355.0 1471.2L1358.0 1471.2L1361.0 1471.2L1364.0 1471.2L1367.0 1471.2L1370.0 1471.2L1373.0 1471.2L1376.0 1471.2L1379.0 1471.2L1382.0 1471.2L1385.0 1471.2L1388.0 1471.2L1391.0 1471.2L1394.0 1471.2L1397.0 1471.2L1400.0 1471.2L1403.0 1471.2L1406.0 1471.2L1409.0 1471.2L1412.0 1471.2L1415.0 1471.2L1418.0 1471.2L1421.0 1471.2L1424.0 1471.2L1427.0 1471.2L1430.0 1471.2L1433.0 1471.2L1436.0 1471.2L1439.0 1471.2L1442.0 1471.2L1445.0 1471.2L1448.0 1471.2L1451.0 1471.2L1454.0 1471.2L1457.0 1471.2L1460.0 1471.2L1463.0 1471.2L1466.0 1471.2L1469.0 1471.2L1472.0 1471.2L1475.0 1471.2L1478.0 1471.2L1481.0 1471.2L1484.0 1471.2L1487.0 1471.2L1490.0 1471.2L1493.0 1471.2L1496.0 1471.2L1499.0 1471.2L1502.0 1471.2L1505.0 1471.2L1508.0 1471.2L1511.0 1471.2L1514.0 1471.2L1517.0 1471.2L1520.0 1471.2L1523.0 1471.2L1526.0 1471.2L1529.0 1471.2L1532.0 1471.2L1535.0 1471.2L1538.0 1471.2L1541.0 1471.2L1544.0 1471.2L1547.0 1471.2L1550.0 1471.2L1553.0 1471.2L1556.0 1471.2L1559.0 1471.2L1560.6 1471.2" fill="none" stroke="#ff0000" stroke-width="10" stroke-dasharray="26 5.5 13 5.5" stroke-linejoin="round"/>
<path d="M246.5 1802.6L247.3 1799.7L248.1 1796.8L248.9 1793.9L249.8 1791.0L250.6 1788.2L251.4 1785.3L252.2 1782.4L253.1 1779.5L253.9 1776.6L254.7 1773.8L255.6 1770.9L256.4 1768.0L257.3 1765.1L258.1 1762.3L259.0 1759.4L259.8 1756.5L260.7 1753.6L261.6 1750.8L262.4 1747.9L263.3 1745.0L264.2 1742.2L265.1 1739.3L265.9 1736.4L266.8 1733.6L267.7 1730.7L268.6 1727.8L269.5 1725.0L270.4 1722.1L271.3 1719.3L272.2 1716.4L273.1 1713.6L274.0 1710.7L274.9 1707.8L275.9 1705.0L276.8 1702.1L277.7 1699.3L278.7 1696.5L279.6 1693.6L280.5 1690.8L281.5 1687.9L282.4 1685.1L283.4 1682.2L284.4 1679.4L285.3 1676.6L286.3 1673.7L287.3 1670.9L288.3 1668.1L289.3 1665.2L290.3 1662.4L291.3 1659.6L292.3 1656.8L293.3 1654.0L294.3 1651.2L295.4 1648.3L296.4 1645.5L297.4 1642.7L298.5 1639.9L299.6 1637.1L300.6 1634.3L301.7 1631.6L302.8 1628.8L303.9 1626.0L305.0 1623.2L306.2 1620.4L307.3 1617.7L308.5 1614.9L309.6 1612.2L310.8 1609.4L312.0 1606.7L313.2 1603.9L314.4 1601.2L315.6 1598.5L316.9 1595.8L318.1 1593.0L319.4 1590.4L320.7 1587.7L322.1 1585.0L323.4 1582.3L324.8 1579.7L326.1 1577.0L327.5 1574.4L329.0 1571.8L330.4 1569.2L331.9 1566.6L333.4 1564.0L335.0 1561.5L336.6 1558.9L338.2 1556.4L339.8 1553.9L341.5 1551.5L343.2 1549.0L344.9 1546.6L346.7 1544.3L348.5 1541.9L350.4 1539.6L352.3 1537.3L354.3 1535.1L356.3 1532.9L358.4 1530.7L360.5 1528.6L362.6 1526.6L364.8 1524.6L367.1 1522.6L369.4 1520.8L371.7 1518.9L374.1 1517.2L376.6 1515.5L379.0 1513.8L381.6 1512.2L384.1 1510.7L386.7 1509.3L389.4 1507.9L392.1 1506.6L394.8 1505.3L397.5 1504.1L400.2 1502.9L403.0 1501.8L405.8 1500.7L408.6 1499.7L411.4 1498.7L414.3 1497.7L417.1 1496.8L420.0 1495.9L422.9 1495.1L425.7 1494.2L428.6 1493.4L431.5 1492.6L434.4 1491.9L437.3 1491.1L440.2 1490.4L443.2 1489.7L446.1 1489.0L449.0 1488.3L451.9 1487.7L454.9 1487.1L457.8 1486.4L460.7 1485.8L463.7 1485.3L466.6 1484.7L469.6 1484.2L472.5 1483.6L475.5 1483.1L478.4 1482.6L481.4 1482.2L484.4 1481.7L487.3 1481.3L490.3 1480.9L493.3 1480.5L496.2 1480.1L499.2 1479.7L502.2 1479.4L505.2 1479.0L508.2 1478.7L511.1 1478.4L514.1 1478.1L517.1 1477.8L520.1 1477.6L523.1 1477.3L526.1 1477.1L529.1 1476.8L532.1 1476.6L535.0 1476.4L538.0 1476.2L541.0 1476.0L544.0 1475.8L547.0 1475.6L550.0 1475.5L553.0 1475.3L556.0 1475.2L559.0 1475.0L562.0 1474.9L565.0 1474.7L568.0 1474.6L571.0 1474.5L574.0 1474.3L577.0 1474.2L580.0 1474.1L583.0 1474.0L586.0 1473.9L589.0 1473.7L592.0 1473.6L595.0 1473.5L598.0 1473.4L601.0 1473.3L604.0 1473.2L607.0 1473.2L610.0 1473.1L613.0 1473.0L616.0 1472.9L619.0 1472.8L622.0 1472.7L625.0 1472.7L628.0 1472.6L631.0 1472.5L634.0 1472.5L637.0 1472.4L640.0 1472.3L643.0 1472.3L646.0 1472.2L649.0 1472.2L652.0 1472.1L655.0 1472.1L658.0 1472.0L661.0 1472.0L664.0 1471.9L667.0 1471.9L670.0 1471.8L673.0 1471.8L676.0 1471.8L679.0 1471.7L682.0 1471.7L685.0 1471.7L688.0 1471.6L691.0 1471.6L694.0 1471.6L697.0 1471.5L700.0 1471.5L703.0 1471.5L706.0 1471.5L709.0 1471.4L712.0 1471.4L715.0 1471.4L718.0 1471.4L721.0 1471.4L724.0 1471.4L727.0 1471.3L730.0 1471.3L733.0 1471.3L736.0 1471.3L739.0 1471.3L742.0 1471.3L745.0 1471.2L748.0 1471.2L751.0 1471.2L754.0 1471.2L757.0 1471.2L760.0 1471.2L763.0 1471.2L766.0 1471.2L769.0 1471.1L772.0 1471.1L775.0 1471.1L778.0 1471.1L781.0 1471.1L784.0 1471.1L787.0 1471.1L790.0 1471.1L793.0 1471.1L796.0 1471.1L799.0 1471.1L802.0 1471.1L805.0 1471.1L808.0 1471.1L811.0 1471.0L814.0 1471.0L817.0 1471.0L820.0 1471.0L823.0 1471.0L826.0 1471.0L829.0 1471.0L832.0 1471.0L835.0 1471.0L838.0 1471.0L841.0 1471.0L844.0 1471.0L847.0 1471.0L850.0 1471.0L853.0 1471.0L856.0 1471.0L859.0 1471.0L862.0 1471.0L865.0 1471.0L868.0 1471.0L871.0 1471.0L874.0 1471.0L877.0 1471.0L880.0 1471.0L883.0 1471.0L886.0 1471.0L889.0 1471.0L892.0 1471.0L895.0 1471.0L898.0 1471.0L901.0 1471.0L904.0 1471.0L907.0 1471.0L910.0 1471.0L913.0 1471.0L916.0 1471.0L919.0 1471.0L922.0 1471.0L925.0 1471.0L928.0 1471.0L931.0 1471.0L934.0 1471.0L937.0 1471.0L940.0 1471.0L943.0 1471.0L946.0 1471.0L949.0 1471.0L952.0 1471.0L955.0 1471.0L958.0 1471.0L961.0 1471.0L964.0 1471.0L967.0 1471.0L970.0 1471.0L973.0 1471.0L976.0 1471.0L979.0 1471.0L982.0 1471.0L985.0 1471.0L988.0 1471.0L991.0 1471.0L994.0 1471.0L997.0 1471.0L1000.0 1471.0L1003.0 1471.0L1006.0 1471.0L1009.0 1471.0L1012.0 1471.0L1015.0 1471.0L1018.0 1471.0L1021.0 1471.0L1024.0 1471.0L1027.0 1471.0L1030.0 1471.0L1033.0 1471.0L1036.0 1471.0L1039.0 1471.0L1042.0 1471.1L1045.0 1471.1L1048.0 1471.1L1051.0 1471.1L1054.0 1471.1L1057.0 1471.1L1060.0 1471.1L1063.0 1471.1L1066.0 1471.1L1069.0 1471.1L1072.0 1471.1L1075.0 1471.1L1078.0 1471.1L1081.0 1471.1L1084.0 1471.1L1087.0 1471.1L1090.0 1471.1L1093.0 1471.1L1096.0 1471.1L1099.0 1471.1L1102.0 1471.1L1105.0 1471.1L1108.0 1471.1L1111.0 1471.1L1114.0 1471.1L1117.0 1471.2L1120.0 1471.2L1123.0 1471.2L1126.0 1471.2L1129.0 1471.2L1132.0 1471.2L1135.0 1471.2L1138.0 1471.2L1141.0 1471.2L1144.0 1471.2L1147.0 1471.2L1150.0 1471.2L1153.0 1471.2L1156.0 1471.2L1159.0 1471.2L1162.0 1471.2L1165.0 1471.2L1168.0 1471.2L1171.0 1471.2L1174.0 1471.2L1177.0 1471.2L1180.0 1471.2L1183.0 1471.2L1186.0 1471.2L1189.0 1471.2L1192.0 1471.2L1195.0 1471.2L1198.0 1471.2L1201.0 1471.2L1204.0 1471.2L1207.0 1471.2L1210.0 1471.2L1213.0 1471.2L1216.0 1471.2L1219.0 1471.2L1222.0 1471.2L1225.0 1471.2L1228.0 1471.2L1231.0 1471.2L1234.0 1471.2L1237.0 1471.2L1240.0 1471.2L1243.0 1471.2L1246.0 1471.2L1249.0 1471.2L1252.0 1471.2L1255.0 1471.2L1258.0 1471.2L1261.0 1471.2L1264.0 1471.2L1267.0 1471.2L1270.0 1471.2L1273.0 1471.2L1276.0 1471.2L1279.0 1471.2L1282.0 1471.2L1285.0 1471.2L1288.0 1471.2L1291.0 1471.2L1294.0 1471.2L1297.0 1471.2L1300.0 1471.2L1303.0 1471.2L1306.0 1471.2L1309.0 1471.2L1312.0 1471.2L1315.0 1471.2L1318.0 1471.2L1321.0 1471.2L1324.0 1471.2L1327.0 1471.2L1330.0 1471.2L1333.0 1471.2L1336.0 1471.2L1339.0 1471.2L1342.0 1471.2L1345.0 1471.2L1348.0 1471.2L1351.0 1471.2L1354.0 1471.2L1357.0 1471.2L1360.0 1471.2L1363.0 1471.2L1366.0 1471.2L1369.0 1471.2L1372.0 1471.2L1375.0 1471.2L1378.0 1471.2L1381.0 1471.2L1384.0 1471.2L1387.0 1471.2L1390.0 1471.2L1393.0 1471.2L1396.0 1471.2L1399.0 1471.2L1402.0 1471.2L1405.0 1471.2L1408.0 1471.2L1411.0 1471.2L1414.0 1471.2L1417.0 1471.2L1420.0 1471.2L1423.0 1471.2L1426.0 1471.2L1429.0 1471.2L1432.0 1471.2L1435.0 1471.2L1438.0 1471.2L1441.0 1471.2L1444.0 1471.2L1447.0 1471.2L1450.0 1471.2L1453.0 1471.2L1456.0 1471.2L1459.0 1471.2L1462.0 1471.2L1465.0 1471.2L1468.0 1471.2L1471.0 1471.2L1474.0 1471.2L1477.0 1471.2L1480.0 1471.2L1483.0 1471.2L1486.0 1471.2L1489.0 1471.2L1492.0 1471.2L1495.0 1471.2L1498.0 1471.2L1501.0 1471.2L1504.0 1471.2L1507.0 1471.2L1510.0 1471.2L1513.0 1471.2L1516.0 1471.2L1519.0 1471.2L1522.0 1471.2L1525.0 1471.2L1528.0 1471.2L1531.0 1471.2L1534.0 1471.2L1537.0 1471.2L1540.0 1471.2L1543.0 1471.2L1546.0 1471.2L1549.0 1471.2L1552.0 1471.2L1555.0 1471.2L1558.0 1471.2L1560.6 1471.2" fill="none" stroke="#ff0000" stroke-width="10" stroke-dasharray="26 5.5 13 5.5" stroke-linejoin="round"/>
<path d="M246.5 1767.7L247.3 1764.8L248.2 1761.9L249.0 1759.0L249.8 1756.2L250.7 1753.3L251.5 1750.4L252.3 1747.5L253.1 1744.6L253.9 1741.7L254.8 1738.8L255.6 1736.0L256.4 1733.1L257.2 1730.2L258.1 1727.3L258.9 1724.4L259.7 1721.5L260.5 1718.7L261.4 1715.8L262.2 1712.9L263.0 1710.0L263.8 1707.1L264.7 1704.3L265.5 1701.4L266.4 1698.5L267.2 1695.6L268.1 1692.7L268.9 1689.9L269.8 1687.0L270.6 1684.1L271.5 1681.3L272.3 1678.4L273.2 1675.5L274.1 1672.7L275.0 1669.8L275.8 1666.9L276.7 1664.1L277.6 1661.2L278.5 1658.3L279.4 1655.5L280.4 1652.6L281.3 1649.8L282.2 1646.9L283.1 1644.1L284.1 1641.3L285.0 1638.4L286.0 1635.6L286.9 1632.7L287.9 1629.9L288.9 1627.1L289.9 1624.3L290.9 1621.4L291.9 1618.6L292.9 1615.8L293.9 1613.0L295.0 1610.2L296.0 1607.4L297.1 1604.6L298.2 1601.8L299.3 1599.0L300.4 1596.2L301.5 1593.5L302.6 1590.7L303.8 1588.0L304.9 1585.2L306.1 1582.5L307.3 1579.7L308.5 1577.0L309.8 1574.3L311.0 1571.6L312.3 1568.9L313.6 1566.2L314.9 1563.5L316.2 1560.8L317.6 1558.2L319.0 1555.5L320.4 1552.9L321.9 1550.3L323.3 1547.7L324.8 1545.1L326.4 1542.6L327.9 1540.1L329.5 1537.6L331.2 1535.1L332.9 1532.6L334.6 1530.2L336.3 1527.8L338.1 1525.4L340.0 1523.1L341.9 1520.8L343.8 1518.5L345.8 1516.3L347.8 1514.2L349.9 1512.1L352.1 1510.0L354.3 1508.0L356.5 1506.1L358.9 1504.2L361.2 1502.4L363.6 1500.7L366.1 1499.0L368.6 1497.5L371.2 1496.0L373.8 1494.5L376.5 1493.2L379.2 1491.9L381.9 1490.7L384.7 1489.6L387.5 1488.6L390.3 1487.6L393.2 1486.7L396.1 1485.9L398.9 1485.1L401.8 1484.4L404.8 1483.7L407.7 1483.1L410.6 1482.5L413.6 1481.9L416.5 1481.4L419.5 1481.0L422.5 1480.5L425.4 1480.1L428.4 1479.7L431.4 1479.3L434.4 1478.9L437.3 1478.6L440.3 1478.3L443.3 1478.0L446.3 1477.7L449.3 1477.4L452.3 1477.1L455.2 1476.9L458.2 1476.6L461.2 1476.4L464.2 1476.1L467.2 1475.9L470.2 1475.7L473.2 1475.5L476.2 1475.3L479.2 1475.1L482.2 1474.9L485.2 1474.8L488.2 1474.6L491.2 1474.4L494.2 1474.3L497.2 1474.1L500.1 1474.0L503.1 1473.9L506.1 1473.8L509.1 1473.6L512.1 1473.5L515.1 1473.4L518.1 1473.3L521.1 1473.2L524.1 1473.1L527.1 1473.0L530.1 1472.9L533.1 1472.9L536.1 1472.8L539.1 1472.7L542.1 1472.6L545.1 1472.6L548.1 1472.5L551.1 1472.4L554.1 1472.4L557.1 1472.3L560.1 1472.2L563.1 1472.2L566.1 1472.1L569.1 1472.1L572.1 1472.0L575.1 1472.0L578.1 1471.9L581.1 1471.9L584.1 1471.8L587.1 1471.8L590.1 1471.7L593.1 1471.7L596.1 1471.6L599.1 1471.6L602.1 1471.6L605.1 1471.5L608.1 1471.5L611.1 1471.4L614.1 1471.4L617.1 1471.4L620.1 1471.3L623.1 1471.3L626.1 1471.3L629.1 1471.2L632.1 1471.2L635.1 1471.2L638.1 1471.1L641.1 1471.1L644.1 1471.1L647.1 1471.1L650.1 1471.0L653.1 1471.0L656.1 1471.0L659.1 1471.0L662.1 1471.0L665.1 1470.9L668.1 1470.9L671.1 1470.9L674.1 1470.9L677.1 1470.9L680.1 1470.9L683.1 1470.8L686.1 1470.8L689.1 1470.8L692.1 1470.8L695.1 1470.8L698.1 1470.8L701.1 1470.8L704.1 1470.8L707.1 1470.8L710.1 1470.8L713.1 1470.7L716.1 1470.7L719.1 1470.7L722.1 1470.7L725.1 1470.7L728.1 1470.7L731.1 1470.7L734.1 1470.7L737.1 1470.7L740.1 1470.7L743.1 1470.7L746.1 1470.7L749.1 1470.7L752.1 1470.7L755.1 1470.7L758.1 1470.7L761.1 1470.7L764.1 1470.7L767.1 1470.7L770.1 1470.7L773.1 1470.7L776.1 1470.7L779.1 1470.7L782.1 1470.7L785.1 1470.6L788.1 1470.6L791.1 1470.6L794.1 1470.6L797.1 1470.6L800.1 1470.6L803.1 1470.6L806.1 1470.6L809.1 1470.6L812.1 1470.6L815.1 1470.6L818.1 1470.6L821.1 1470.6L824.1 1470.6L827.1 1470.6L830.1 1470.6L833.1 1470.6L836.1 1470.6L839.1 1470.6L842.1 1470.6L845.1 1470.6L848.1 1470.6L851.1 1470.7L854.1 1470.7L857.1 1470.7L860.1 1470.7L863.1 1470.7L866.1 1470.7L869.1 1470.7L872.1 1470.7L875.1 1470.7L878.1 1470.7L881.1 1470.7L884.1 1470.7L887.1 1470.7L890.1 1470.7L893.1 1470.7L896.1 1470.7L899.1 1470.7L902.1 1470.7L905.1 1470.7L908.1 1470.7L911.1 1470.7L914.1 1470.7L917.1 1470.7L920.1 1470.7L923.1 1470.7L926.1 1470.7L929.1 1470.7L932.1 1470.7L935.1 1470.7L938.1 1470.7L941.1 1470.7L944.1 1470.7L947.1 1470.7L950.1 1470.7L953.1 1470.7L956.1 1470.7L959.1 1470.7L962.1 1470.7L965.1 1470.7L968.1 1470.7L971.1 1470.7L974.1 1470.7L977.1 1470.7L980.1 1470.7L983.1 1470.7L986.1 1470.8L989.1 1470.8L992.1 1470.8L995.1 1470.8L998.1 1470.8L1001.1 1470.8L1004.1 1470.8L1007.1 1470.8L1010.1 1470.8L1013.1 1470.8L1016.1 1470.8L1019.1 1470.8L1022.1 1470.8L1025.1 1470.8L1028.1 1470.8L1031.1 1470.8L1034.1 1470.9L1037.1 1470.9L1040.1 1470.9L1043.1 1470.9L1046.1 1470.9L1049.1 1470.9L1052.1 1470.9L1055.1 1470.9L1058.1 1470.9L1061.1 1470.9L1064.1 1470.9L1067.1 1470.9L1070.1 1470.9L1073.1 1471.0L1076.1 1471.0L1079.1 1471.0L1082.1 1471.0L1085.1 1471.0L1088.1 1471.0L1091.1 1471.0L1094.1 1471.0L1097.1 1471.0L1100.1 1471.0L1103.1 1471.0L1106.1 1471.0L1109.1 1471.1L1112.1 1471.1L1115.1 1471.1L1118.1 1471.1L1121.1 1471.1L1124.1 1471.1L1127.1 1471.1L1130.1 1471.1L1133.1 1471.1L1136.1 1471.1L1139.1 1471.1L1142.1 1471.1L1145.1 1471.1L1148.1 1471.1L1151.1 1471.1L1154.1 1471.2L1157.1 1471.2L1160.1 1471.2L1163.1 1471.2L1166.1 1471.2L1169.1 1471.2L1172.1 1471.2L1175.1 1471.2L1178.1 1471.2L1181.1 1471.2L1184.1 1471.2L1187.1 1471.2L1190.1 1471.2L1193.1 1471.2L1196.1 1471.2L1199.1 1471.2L1202.1 1471.2L1205.1 1471.2L1208.1 1471.2L1211.1 1471.2L1214.1 1471.2L1217.1 1471.2L1220.1 1471.2L1223.1 1471.2L1226.1 1471.2L1229.1 1471.2L1232.1 1471.2L1235.1 1471.2L1238.1 1471.2L1241.1 1471.2L1244.1 1471.2L1247.1 1471.2L1250.1 1471.2L1253.1 1471.2L1256.1 1471.2L1259.1 1471.2L1262.1 1471.2L1265.1 1471.2L1268.1 1471.2L1271.1 1471.2L1274.1 1471.2L1277.1 1471.2L1280.1 1471.2L1283.1 1471.2L1286.1 1471.2L1289.1 1471.2L1292.1 1471.2L1295.1 1471.2L1298.1 1471.2L1301.1 1471.2L1304.1 1471.2L1307.1 1471.2L1310.1 1471.2L1313.1 1471.2L1316.1 1471.2L1319.1 1471.2L1322.1 1471.2L1325.1 1471.2L1328.1 1471.2L1331.1 1471.2L1334.1 1471.2L1337.1 1471.2L1340.1 1471.2L1343.1 1471.2L1346.1 1471.2L1349.1 1471.2L1352.1 1471.2L1355.1 1471.2L1358.1 1471.2L1361.1 1471.2L1364.1 1471.2L1367.1 1471.2L1370.1 1471.2L1373.1 1471.2L1376.1 1471.2L1379.1 1471.2L1382.1 1471.2L1385.1 1471.2L1388.1 1471.2L1391.1 1471.2L1394.1 1471.2L1397.1 1471.2L1400.1 1471.2L1403.1 1471.2L1406.1 1471.2L1409.1 1471.2L1412.1 1471.2L1415.1 1471.2L1418.1 1471.2L1421.1 1471.2L1424.1 1471.2L1427.1 1471.2L1430.1 1471.2L1433.1 1471.2L1436.1 1471.2L1439.1 1471.2L1442.1 1471.2L1445.1 1471.2L1448.1 1471.2L1451.1 1471.2L1454.1 1471.2L1457.1 1471.2L1460.1 1471.2L1463.1 1471.2L1466.1 1471.2L1469.1 1471.2L1472.1 1471.2L1475.1 1471.2L1478.1 1471.2L1481.1 1471.2L1484.1 1471.2L1487.1 1471.2L1490.1 1471.2L1493.1 1471.2L1496.1 1471.2L1499.1 1471.2L1502.1 1471.2L1505.1 1471.2L1508.1 1471.2L1511.1 1471.2L1514.1 1471.2L1517.1 1471.2L1520.1 1471.2L1523.1 1471.2L1526.1 1471.2L1529.1 1471.2L1532.1 1471.2L1535.1 1471.2L1538.1 1471.2L1541.1 1471.2L1544.1 1471.2L1547.1 1471.2L1550.1 1471.2L1553.1 1471.2L1556.1 1471.2L1559.1 1471.2L1560.6 1471.2" fill="none" stroke="#ff0000" stroke-width="10" stroke-dasharray="26 5.5 13 5.5" stroke-linejoin="round"/>
<path d="M246.5 1735.0L247.4 1732.1L248.2 1729.2L249.1 1726.4L249.9 1723.5L250.7 1720.6L251.5 1717.7L252.4 1714.8L253.2 1711.9L254.0 1709.0L254.8 1706.1L255.6 1703.2L256.4 1700.3L257.2 1697.4L258.0 1694.6L258.8 1691.7L259.6 1688.8L260.4 1685.9L261.2 1683.0L262.0 1680.1L262.8 1677.2L263.6 1674.3L264.4 1671.4L265.2 1668.5L266.0 1665.6L266.8 1662.8L267.6 1659.9L268.4 1657.0L269.2 1654.1L270.0 1651.2L270.8 1648.3L271.7 1645.4L272.5 1642.6L273.3 1639.7L274.2 1636.8L275.0 1633.9L275.9 1631.1L276.7 1628.2L277.6 1625.3L278.5 1622.5L279.3 1619.6L280.2 1616.7L281.1 1613.9L282.0 1611.0L282.9 1608.2L283.9 1605.3L284.8 1602.5L285.7 1599.6L286.7 1596.8L287.6 1594.0L288.6 1591.1L289.6 1588.3L290.6 1585.5L291.6 1582.7L292.6 1579.9L293.6 1577.1L294.7 1574.3L295.8 1571.5L296.8 1568.7L297.9 1565.9L299.0 1563.1L300.2 1560.4L301.3 1557.6L302.5 1554.9L303.7 1552.1L304.9 1549.4L306.1 1546.7L307.4 1544.0L308.7 1541.3L310.0 1538.6L311.3 1536.0L312.7 1533.3L314.1 1530.7L315.5 1528.1L317.0 1525.5L318.5 1522.9L320.0 1520.4L321.6 1517.8L323.2 1515.3L324.9 1512.9L326.6 1510.4L328.3 1508.0L330.1 1505.7L331.9 1503.3L333.8 1501.1L335.8 1498.8L337.8 1496.6L339.9 1494.5L342.0 1492.4L344.2 1490.4L346.4 1488.5L348.7 1486.6L351.1 1484.8L353.6 1483.1L356.0 1481.5L358.6 1480.0L361.2 1478.5L363.9 1477.2L366.6 1475.9L369.3 1474.8L372.1 1473.7L374.9 1472.8L377.8 1471.9L380.7 1471.1L383.6 1470.4L386.5 1469.8L389.4 1469.2L392.4 1468.7L395.4 1468.3L398.3 1468.0L401.3 1467.7L404.3 1467.4L407.3 1467.2L410.3 1467.1L413.3 1466.9L416.3 1466.8L419.3 1466.8L422.3 1466.8L425.3 1466.7L428.3 1466.7L431.3 1466.8L434.3 1466.8L437.3 1466.9L440.3 1466.9L443.3 1467.0L446.3 1467.1L449.3 1467.2L452.3 1467.3L455.3 1467.4L458.3 1467.5L461.3 1467.6L464.3 1467.7L467.3 1467.8L470.3 1467.9L473.3 1468.0L476.3 1468.1L479.3 1468.2L482.3 1468.3L485.3 1468.4L488.3 1468.5L491.3 1468.5L494.3 1468.6L497.3 1468.7L500.3 1468.8L503.3 1468.9L506.3 1468.9L509.3 1469.0L512.3 1469.1L515.3 1469.1L518.3 1469.2L521.3 1469.2L524.3 1469.3L527.3 1469.3L530.3 1469.4L533.3 1469.4L536.3 1469.5L539.3 1469.5L542.3 1469.5L545.3 1469.6L548.3 1469.6L551.3 1469.6L554.3 1469.7L557.3 1469.7L560.3 1469.7L563.3 1469.7L566.3 1469.7L569.3 1469.8L572.2 1469.8L575.2 1469.8L578.2 1469.8L581.2 1469.8L584.2 1469.8L587.2 1469.9L590.2 1469.9L593.2 1469.9L596.2 1469.9L599.2 1469.9L602.2 1469.9L605.2 1469.9L608.2 1469.9L611.2 1469.9L614.2 1469.9L617.2 1470.0L620.2 1470.0L623.2 1470.0L626.2 1470.0L629.2 1470.0L632.2 1470.0L635.2 1470.0L638.2 1470.0L641.2 1470.0L644.2 1470.0L647.2 1470.0L650.2 1470.0L653.2 1470.0L656.2 1470.0L659.2 1470.0L662.2 1470.0L665.2 1470.0L668.2 1470.0L671.2 1470.1L674.2 1470.1L677.2 1470.1L680.2 1470.1L683.2 1470.1L686.2 1470.1L689.2 1470.1L692.2 1470.1L695.2 1470.1L698.2 1470.1L701.2 1470.1L704.2 1470.1L707.2 1470.1L710.2 1470.1L713.2 1470.1L716.2 1470.1L719.2 1470.1L722.2 1470.1L725.2 1470.1L728.2 1470.1L731.2 1470.1L734.2 1470.1L737.2 1470.2L740.2 1470.2L743.2 1470.2L746.2 1470.2L749.2 1470.2L752.2 1470.2L755.2 1470.2L758.2 1470.2L761.2 1470.2L764.2 1470.2L767.2 1470.2L770.2 1470.2L773.2 1470.2L776.2 1470.2L779.2 1470.2L782.2 1470.2L785.2 1470.2L788.2 1470.2L791.2 1470.2L794.2 1470.2L797.2 1470.2L800.2 1470.2L803.2 1470.3L806.2 1470.3L809.2 1470.3L812.2 1470.3L815.2 1470.3L818.2 1470.3L821.2 1470.3L824.2 1470.3L827.2 1470.3L830.2 1470.3L833.2 1470.3L836.2 1470.3L839.2 1470.3L842.2 1470.3L845.2 1470.3L848.2 1470.3L851.2 1470.3L854.2 1470.3L857.2 1470.3L860.2 1470.3L863.2 1470.3L866.2 1470.3L869.2 1470.3L872.2 1470.4L875.2 1470.4L878.2 1470.4L881.2 1470.4L884.2 1470.4L887.2 1470.4L890.2 1470.4L893.2 1470.4L896.2 1470.4L899.2 1470.4L902.2 1470.4L905.2 1470.4L908.2 1470.4L911.2 1470.4L914.2 1470.4L917.2 1470.4L920.2 1470.4L923.2 1470.4L926.2 1470.4L929.2 1470.4L932.2 1470.4L935.2 1470.4L938.2 1470.4L941.2 1470.4L944.2 1470.4L947.2 1470.4L950.2 1470.5L953.2 1470.5L956.2 1470.5L959.2 1470.5L962.2 1470.5L965.2 1470.5L968.2 1470.5L971.2 1470.5L974.2 1470.5L977.2 1470.5L980.2 1470.5L983.2 1470.5L986.2 1470.5L989.2 1470.5L992.2 1470.5L995.2 1470.5L998.2 1470.6L1001.2 1470.6L1004.2 1470.6L1007.2 1470.6L1010.2 1470.6L1013.2 1470.6L1016.2 1470.6L1019.2 1470.6L1022.2 1470.6L1025.2 1470.6L1028.2 1470.7L1031.2 1470.7L1034.2 1470.7L1037.2 1470.7L1040.2 1470.7L1043.2 1470.7L1046.2 1470.7L1049.2 1470.7L1052.2 1470.7L1055.2 1470.8L1058.2 1470.8L1061.2 1470.8L1064.2 1470.8L1067.2 1470.8L1070.2 1470.8L1073.2 1470.8L1076.2 1470.8L1079.2 1470.9L1082.2 1470.9L1085.2 1470.9L1088.2 1470.9L1091.2 1470.9L1094.2 1470.9L1097.2 1470.9L1100.2 1470.9L1103.2 1470.9L1106.2 1471.0L1109.2 1471.0L1112.2 1471.0L1115.2 1471.0L1118.2 1471.0L1121.2 1471.0L1124.2 1471.0L1127.2 1471.0L1130.2 1471.0L1133.2 1471.0L1136.2 1471.1L1139.2 1471.1L1142.2 1471.1L1145.2 1471.1L1148.2 1471.1L1151.2 1471.1L1154.2 1471.1L1157.2 1471.1L1160.2 1471.1L1163.2 1471.1L1166.2 1471.1L1169.2 1471.1L1172.2 1471.2L1175.2 1471.2L1178.2 1471.2L1181.2 1471.2L1184.2 1471.2L1187.2 1471.2L1190.2 1471.2L1193.2 1471.2L1196.2 1471.2L1199.2 1471.2L1202.2 1471.2L1205.2 1471.2L1208.2 1471.2L1211.2 1471.2L1214.2 1471.2L1217.2 1471.2L1220.2 1471.2L1223.2 1471.2L1226.2 1471.2L1229.2 1471.2L1232.2 1471.2L1235.2 1471.2L1238.2 1471.2L1241.2 1471.2L1244.2 1471.2L1247.2 1471.2L1250.2 1471.2L1253.2 1471.2L1256.2 1471.2L1259.2 1471.2L1262.2 1471.2L1265.2 1471.2L1268.2 1471.2L1271.2 1471.2L1274.2 1471.2L1277.2 1471.2L1280.2 1471.2L1283.2 1471.2L1286.2 1471.2L1289.2 1471.2L1292.2 1471.2L1295.2 1471.2L1298.2 1471.2L1301.2 1471.2L1304.2 1471.2L1307.2 1471.2L1310.2 1471.2L1313.2 1471.2L1316.2 1471.2L1319.2 1471.2L1322.2 1471.2L1325.2 1471.2L1328.2 1471.2L1331.2 1471.2L1334.2 1471.2L1337.2 1471.2L1340.2 1471.2L1343.2 1471.2L1346.2 1471.2L1349.2 1471.2L1352.2 1471.2L1355.2 1471.2L1358.2 1471.2L1361.2 1471.2L1364.2 1471.2L1367.2 1471.2L1370.2 1471.2L1373.2 1471.2L1376.2 1471.2L1379.2 1471.2L1382.2 1471.2L1385.2 1471.2L1388.2 1471.2L1391.2 1471.2L1394.2 1471.2L1397.2 1471.2L1400.2 1471.2L1403.2 1471.2L1406.2 1471.2L1409.2 1471.2L1412.2 1471.2L1415.2 1471.2L1418.2 1471.2L1421.2 1471.2L1424.2 1471.2L1427.2 1471.2L1430.2 1471.2L1433.2 1471.2L1436.2 1471.2L1439.2 1471.2L1442.2 1471.2L1445.2 1471.2L1448.2 1471.2L1451.2 1471.2L1454.2 1471.2L1457.2 1471.2L1460.2 1471.2L1463.2 1471.2L1466.2 1471.2L1469.2 1471.2L1472.2 1471.2L1475.2 1471.2L1478.2 1471.2L1481.2 1471.2L1484.2 1471.2L1487.2 1471.2L1490.2 1471.2L1493.2 1471.2L1496.2 1471.2L1499.2 1471.2L1502.2 1471.2L1505.2 1471.2L1508.2 1471.2L1511.2 1471.2L1514.2 1471.2L1517.2 1471.2L1520.2 1471.2L1523.2 1471.2L1526.2 1471.2L1529.2 1471.2L1532.2 1471.2L1535.2 1471.2L1538.2 1471.2L1541.2 1471.2L1544.2 1471.2L1547.2 1471.2L1550.2 1471.2L1553.2 1471.2L1556.2 1471.2L1559.2 1471.2L1560.6 1471.2" fill="none" stroke="#ff0000" stroke-width="10" stroke-dasharray="26 5.5 13 5.5" stroke-linejoin="round"/>
<text x="224.20" y="2301.00" font-size="54" text-anchor="end" fill="#262626" letter-spacing="-2.2">-0.05</text>
<text x="224.20" y="2138.80" font-size="54" text-anchor="end" fill="#262626" letter-spacing="-2.2">-0.04</text>
<text x="224.20" y="1976.60" font-size="54" text-anchor="end" fill="#262626" letter-spacing="-2.2">-0.03</text>
<text x="224.20" y="1814.40" font-size="54" text-anchor="end" fill="#262626" letter-spacing="-2.2">-0.02</text>
<text x="224.20" y="1652.20" font-size="54" text-anchor="end" fill="#262626" letter-spacing="-2.2">-0.01</text>
<text x="228.00" y="1489.20" font-size="54" text-anchor="end" fill="#262626" letter-spacing="-1.5">0</text>
<text x="226.40" y="1327.00" font-size="54" text-anchor="end" fill="#262626" letter-spacing="-1.5">0.01</text>
<text x="464.00" y="1440.00" font-size="54" text-anchor="middle" fill="#262626" letter-spacing="-1.5">1</text>
<text x="683.00" y="1440.00" font-size="54" text-anchor="middle" fill="#262626" letter-spacing="-1.5">2</text>
<text x="902.00" y="1440.00" font-size="54" text-anchor="middle" fill="#262626" letter-spacing="-1.5">3</text>
<text x="1121.00" y="1440.00" font-size="54" text-anchor="middle" fill="#262626" letter-spacing="-1.5">4</text>
<text x="1340.00" y="1440.00" font-size="54" text-anchor="middle" fill="#262626" letter-spacing="-1.5">5</text>
<text fill="#262626" xml:space="preserve"><tspan x="1510.80" y="1557.40" font-size="56" font-style="italic" textLength="34.42" lengthAdjust="spacingAndGlyphs">η</tspan></text>
<text fill="#262626" xml:space="preserve" transform="rotate(-90)"><tspan x="-1880.00" y="74.00" font-size="56">H</tspan><tspan x="-1834.60" y="99.00" font-size="45" letter-spacing="-1">2p</tspan><tspan x="-1788.20" y="72.00" font-size="52">(</tspan><tspan x="-1770.00" y="74.00" font-size="56" font-style="italic">η</tspan><tspan x="-1739.00" y="72.00" font-size="52">)</tspan></text>
<line x1="1084.9" y1="1615.1" x2="1303.9" y2="1615.1" stroke="#00ff00" stroke-width="10"/>
<line x1="1084.9" y1="1694.2" x2="1303.9" y2="1694.2" stroke="#ff0000" stroke-width="10" stroke-dasharray="26 5.5 13 5.5" stroke-dashoffset="8"/>
<text fill="#000" xml:space="preserve"><tspan x="1320.20" y="1624.20" font-size="52" textLength="38.81" lengthAdjust="spacingAndGlyphs">Φ</tspan><tspan x="1360.00" y="1648.60" font-size="42">d </tspan><tspan x="1397.40" y="1626.20" font-size="54">= </tspan><tspan x="1437.40" y="1623.20" font-size="54" letter-spacing="-1.5">0.1</tspan></text>
<text fill="#000" xml:space="preserve"><tspan x="1320.20" y="1702.40" font-size="52" textLength="38.81" lengthAdjust="spacingAndGlyphs">Φ</tspan><tspan x="1360.00" y="1726.80" font-size="42">d </tspan><tspan x="1397.40" y="1704.40" font-size="54">= </tspan><tspan x="1437.40" y="1701.40" font-size="54" letter-spacing="-1.5">0.7</tspan></text>
<text x="980.00" y="1662.00" font-size="53" text-anchor="start" fill="#000" letter-spacing="-0.2">(b)</text>
<rect x="692.5" y="1876.5" width="555.1" height="78.7" fill="#fff" stroke="#000" stroke-width="5" shape-rendering="crispEdges"/>
<text fill="#000" xml:space="preserve"><tspan x="714.00" y="1936.40" font-size="54" textLength="47.25" lengthAdjust="spacingAndGlyphs">R </tspan><tspan x="761.40" y="1940.00" font-size="54">= </tspan><tspan x="806.00" y="1936.20" font-size="54" letter-spacing="-1.5">1.0, 2.0, 3.0, 4.0, 5.0</tspan></text>
<line x1="567.0" y1="1672.0" x2="367.7" y2="1362.5" stroke="#000" stroke-width="6"/>
<polygon points="352.5,1339.0 390.2,1367.1 368.7,1364.2 362.5,1384.9" fill="#000"/>
</g>
</svg>
</body>
</html>
